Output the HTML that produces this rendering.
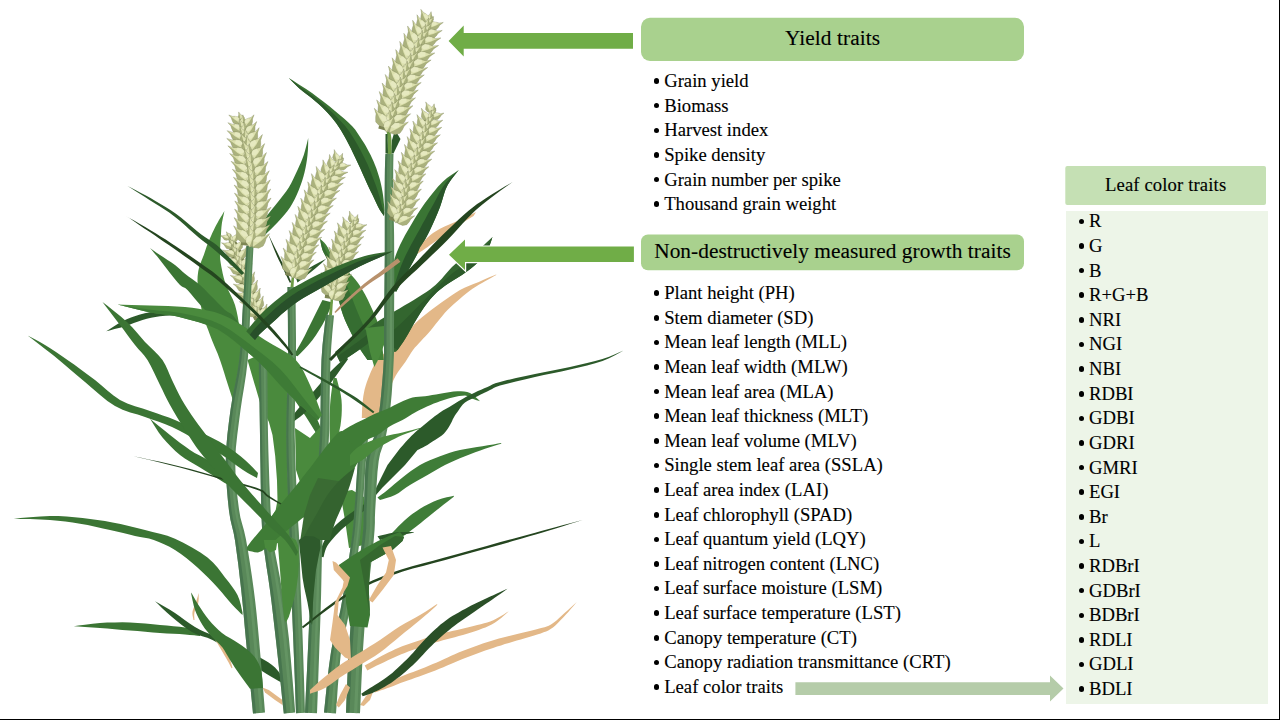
<!DOCTYPE html>
<html><head><meta charset="utf-8"><title>Traits</title>
<style>
html,body{margin:0;padding:0;background:#fff;}
body{width:1280px;height:720px;position:relative;overflow:hidden;font-family:"Liberation Serif",serif;color:#000;-webkit-text-stroke:0.12px #000;}
.abs{position:absolute;}
.li{position:absolute;left:0;height:22px;line-height:22px;font-size:18.667px;white-space:nowrap;}
.li span{position:absolute;top:0;}
.li i{position:absolute;top:8.3px;width:5.6px;height:5.6px;border-radius:50%;background:#000;}
.hd{position:absolute;text-align:center;white-space:nowrap;}
#bR{position:absolute;left:1278.7px;top:0;width:2px;height:720px;background:#000;}
#bB{position:absolute;left:0;top:718.6px;width:1280px;height:2px;background:#000;}
</style></head><body>
<svg class="abs" style="left:0;top:0" width="1280" height="720" viewBox="0 0 1280 720">
<style>.k{fill:#DCE0AE;stroke:#5F673E;stroke-width:.45;stroke-opacity:.6;vector-effect:non-scaling-stroke}.s{fill:#9AA26C;opacity:.75}.h{fill:#E9ECC6;opacity:.75}</style>
<polygon points="224.5,211 223.5,212.6 222.1,214.9 220.5,217.5 219,220 217.7,222.4 216.4,224.8 215.1,227.3 213.8,230 212.3,233.1 210.8,236.4 209.3,239.8 208,243 206.8,246 205.8,249 204.8,252 203.8,255 202.5,258.2 201.2,261.5 200,264.8 199,268 198.3,271 197.9,273.9 197.6,276.8 197.5,280 197.6,283.4 197.9,287 198.4,290.8 199,295 199.8,299.6 200.7,304.7 201.7,309.9 203,315 204.5,319.9 206.1,324.7 208,329.6 210,335 212.3,340.9 214.9,347.2 217.6,353.6 220,360 222.1,366.2 224.1,372.5 226,378.8 228,385 230.2,391.8 232.5,399.1 234.6,405.5 236,410 238,410 239,405.5 240.4,399.1 241.8,391.8 243,385 243.9,378.9 244.6,372.8 245.1,366.6 245,360 244.2,352.7 242.9,345 241.4,337.3 240,330 238.8,323.3 237.8,316.9 236.5,310.8 235,305 232.9,299.5 230.4,294.4 228,289.5 226,285 224.6,280.9 223.6,277.2 222.7,273.6 222,270 221.3,266.5 220.7,263.1 220.2,259.5 220,255 220.1,249.1 220.4,242.2 220.9,235.4 221.2,230 221.5,226.4 221.8,224 222.1,222.1 222.5,220 223,217.5 223.6,214.9 224.1,212.6 224.5,211" fill="#4A8A3D"/>
<polygon points="496.2,274.4 493.1,275.7 488.7,277.6 483.6,279.8 478.8,281.9 474.1,283.8 469.2,285.8 464.5,287.8 460,290 456,292.4 452.2,294.9 448.6,297.5 445,300 441.4,302.5 438,305 434.6,307.5 431.2,310 428,312.5 424.8,315 421.7,317.5 418.8,320 416.1,322.5 413.7,325 411.3,327.5 409,330 406.7,332.5 404.5,335.1 402.3,337.6 400,340 397.7,342 395.3,343.8 392.8,345.6 390,348 386.7,351 383,354.5 379.4,358.1 376.4,361.7 374.1,365.1 372.4,368.6 370.8,372 369.4,375.5 368,379 366.7,382.4 365.6,385.9 364.6,389.4 363.9,392.9 363.3,396.3 362.9,399.8 362.5,403.3 362.2,407.3 362,411.5 361.9,415.3 361.8,418 382,418 382.7,415.3 383.8,411.4 384.9,407 386,403 387,399.4 387.9,395.9 388.9,392.4 390,389 391.2,385.6 392.5,382.2 394,378.9 395.8,375.5 398,372 400.5,368.5 403.1,365 405.5,361.7 407.5,358.6 409.4,355.5 411.1,352.7 413,350 414.9,347.6 416.9,345.4 418.9,343.2 421,341 423.2,338.6 425.5,336.2 427.8,333.7 430,331.2 432,328.8 434,326.3 435.9,323.8 438,321.2 440.2,318.5 442.5,315.7 444.9,312.8 447.5,310 450.4,307.2 453.6,304.3 456.8,301.5 460,298.8 463.1,296.1 466.2,293.5 469.4,291 472.5,288.8 475.7,286.7 478.8,284.8 482,283 485,281.2 488.2,279.5 491.4,277.7 494.3,276.1 496.2,275" fill="#E3B888"/>
<polygon points="320,238.8 321.1,239.7 322.6,240.9 324.4,242.7 326.2,245 328.1,248.1 329.9,251.9 332.1,256 335,260 338.9,264 343.7,268.2 348.4,272.3 352.5,276.2 355.5,279.7 358,282.9 360.2,286.2 362.5,290 365.1,294.6 367.7,299.6 370.2,304.9 372.5,310 374.6,314.8 376.6,319.4 378.4,324.3 380,330 381.3,337.5 382.3,346.2 383.2,354.4 383.8,360 367.5,360 365.8,357.5 363.3,354.1 360.4,349.8 357.5,345 354.4,339.3 351,332.8 347.7,326.1 345,320 342.9,314.6 341.3,309.7 340,304.9 338.8,300 337.7,295 337,290 336.1,285 335,280 333.3,274.8 331.3,269.4 329.3,264.3 327.5,260 326,256.8 324.7,254.5 323.5,252.4 322.5,250 321.6,247 320.9,243.8 320.4,240.8 320,238.8" fill="#448238"/>
<polygon points="320,238.8 322.8,243.6 325.2,248.9 327.9,254.2 330.8,259.4 333.9,264.3 337.2,269 340.5,273.7 343.6,278.6 346.2,283.6 348.4,288.9 350.5,294.4 352.7,299.8 354.8,305.3 357,310.8 359.3,316.3 361.7,321.7 364.1,327.1 366.2,332.6 368.1,338.2 369.9,343.7 371.7,349.2 373.7,354.6 375.6,360 367.5,360 364.2,355.3 361,350.6 358,345.8 355.2,340.8 352.5,335.7 349.9,330.6 347.5,325.5 345.1,320.3 343,314.9 341.3,309.5 339.8,304 338.4,298.4 337.4,292.8 336.5,287.2 335.4,281.6 333.8,276.1 331.8,270.7 329.7,265.4 327.6,260.1 325,255 322.5,249.9 321.1,244.4 320,238.8" fill="#356D31"/>
<polygon points="332.5,302.5 331.3,305.6 329.5,310 327.4,315 325,320 322.3,324.9 319.2,330.1 315.9,335.2 312.5,340 308.6,344.7 304.2,349.4 300.3,353.4 297.5,356.2 293.8,355 295.3,352.4 297.5,348.8 300,344.5 302.5,340 304.9,335.4 307.4,330.3 310,325.1 312.5,320 315.2,314.5 318.1,308.8 320.7,303.6 322.5,300" fill="#3B7534"/>
<polygon points="106.2,331.2 109.1,329.4 113.3,326.7 118,323.8 122.5,321.2 126.7,319.3 131,317.5 135.4,315.9 140,314.5 144.8,313.3 149.8,312.2 154.9,311.3 160,310.5 165.5,309.9 171.2,309.4 176.4,309 180,308.8 180,315 176.3,315.2 171.1,315.4 165.3,315.7 160,316.2 155.4,317 151.1,317.8 146.8,318.8 142.5,320 138.2,321.4 133.8,323 129.5,324.7 125,326.2 120,327.7 114.5,329.1 109.6,330.4 106.2,331.2" fill="#2C5A2A"/>
<polygon points="150,248 151.7,249.2 154.1,250.9 156.9,252.9 160,255 163.5,257.3 167.5,259.9 171.5,262.5 175,265 177.7,267.2 180,269.3 182.3,271.4 185,273.8 188.5,276.4 192.5,279.3 196.5,282.2 200,285 202.7,287.5 205,289.8 207.3,292.2 210,295 213.6,298.6 217.7,302.8 221.7,306.8 225,310 227.4,311.8 229.2,312.8 230.8,313.6 232.5,315 234.6,317.4 236.7,320.3 238.7,323.1 240,325 230,330 227.2,327.8 223.3,324.7 218.9,321.2 215,318 211.8,315.4 208.8,313.1 205.7,310.6 202.5,307.5 198.8,303.3 194.7,298.4 190.8,293.7 187.5,290 185.2,288 183.4,287.2 181.9,286.4 180,285 177.7,282.5 175.2,279.5 172.6,276.2 170,273 167.5,269.8 165,266.5 162.5,263.2 160,260 157.3,256.6 154.4,253.2 151.8,250.1 150,248" fill="#3B7534"/>
<polygon points="247.5,360 256,356.3 269.5,357.3 280,360 284.1,362.8 285.3,367.2 286,375 287.1,388 287.7,404.3 288,420 287.7,433.7 287.1,446.9 287,460 287.6,473.3 288.7,486.7 290,500 292.7,514.8 295.7,529.6 295,540 287.1,543.7 275.6,543 267.5,540 265.9,534.8 267.7,527.4 270,520 272.6,515 275.7,510 277.5,500 277,480.5 275.2,455.9 272.5,435 268.9,422.1 264.4,412.9 260,402.5" fill="#4A8A3D"/>
<polygon points="263,356.5 265.3,359.8 268.6,364.5 272.3,369.9 276.2,375.4 279.9,380.5 283.2,385.1 286.6,389.6 290,394 293.2,398.3 296.3,402.6 299.4,407 302.4,411.4 305.3,415.8 308,420 310.5,423.9 312.8,427.7 315.1,431.6 317.1,435.3 318.9,438.5 320.2,440.8 323.8,439.2 323.1,436.7 322.2,433.2 321,429.1 319.4,424.6 317.5,420.1 315.3,415.7 312.7,411.2 309.8,406.6 306.8,401.9 303.7,397.4 300.4,392.9 297,388.5 293.4,384.2 289.8,379.9 286.1,375.5 282.1,370.8 277.7,365.7 273.3,360.7 269.6,356.5 267,353.5" fill="#3B7534"/>
<polygon points="345.9,357 343.7,359 340.7,361.8 337.2,365 333.6,368.5 330.3,371.7 327.5,374.8 324.9,377.9 322.3,381 319.7,384.2 316.9,387.4 313.9,390.9 310.6,394.5 307.3,398.2 304.1,401.8 301.1,405.3 298.2,408.7 295.3,412.3 292.6,415.6 290.3,418.5 288.6,420.6 291.4,423.4 293.5,421.8 296.4,419.6 299.9,416.9 303.5,413.9 306.9,410.7 310.2,407.4 313.5,403.8 316.8,400 320,396.2 323.1,392.6 325.8,389.2 328.4,385.9 330.9,382.7 333.3,379.5 335.7,376.3 338.4,372.6 341.2,368.6 344,364.7 346.4,361.4 348.1,359" fill="#2C5A2A"/>
<polygon points="333.5,378.1 333.1,381.1 332.4,385.2 331.7,390.1 331,395.2 330.5,400 330.1,404.7 329.9,409.7 329.7,414.7 329.6,419.7 329.5,424.5 329.5,429.5 329.7,434.9 329.8,440.1 329.9,444.5 330,447.7 334,448.3 334.9,445.3 336.4,441 337.9,436 339.4,430.7 340.5,425.5 341.1,420.4 341.6,415.3 341.8,410.1 341.8,404.9 341.5,400 340.8,394.9 339.7,389.7 338.4,384.9 337.3,380.8 336.5,377.9" fill="#4A8A3D"/>
<polygon points="295,428 310,438 321,426 322,455 318,475 300,482 296,470" fill="#4A8A3D"/>
<polygon points="340,492 352,490 364,497 364,545 349,548 345,520" fill="#4A8A3D"/>
<polygon points="229.2,237.1 228.6,246.7 230.7,254.8 232.9,263 235.5,271.3 238.3,279.7 241.1,288 244.1,296.2 247.4,304.5 250.9,312.6 254.5,320.5 265.5,315.5 261.8,307.6 258.4,299.9 255.4,292 252.5,284 249.6,275.8 247,267.8 244.4,259.5 241.4,251.2 237.5,243.1 230.3,236.6" fill="#7E8654"/>
<g transform="matrix(-3.52 -5.49 2.19 -1.41 230.2 237.9)"><polygon class="k" points="-.15,0 .1,.8 .38,1 .6,.7 .78,.3 1.12,0 .8,-.22 .62,-.62 .4,-1 .1,-.8"/><polygon class="s" points="-.15,0 .1,-.8 .4,-1 .62,-.62 .8,-.22 1.12,0 .75,0 .45,-.1 .1,-.05"/><polygon class="h" points=".1,.8 .38,1 .6,.7 .55,.05 .25,.1"/></g>
<g transform="matrix(-7.28 -2.85 0.94 -2.40 228.4 238.7)"><polygon class="k" points="-.15,0 .1,.8 .38,1 .6,.7 .78,.3 1.12,0 .8,-.22 .62,-.62 .4,-1 .1,-.8"/><polygon class="s" points="-.15,0 .1,-.8 .4,-1 .62,-.62 .8,-.22 1.12,0 .75,0 .45,-.1 .1,-.05"/><polygon class="h" points=".1,.8 .38,1 .6,.7 .55,.05 .25,.1"/></g>
<g transform="matrix(-1.54 -7.06 2.82 -0.62 231.9 242.0)"><polygon class="k" points="-.15,0 .1,.8 .38,1 .6,.7 .78,.3 1.12,0 .8,-.22 .62,-.62 .4,-1 .1,-.8"/><polygon class="s" points="-.15,0 .1,-.8 .4,-1 .62,-.62 .8,-.22 1.12,0 .75,0 .45,-.1 .1,-.05"/><polygon class="h" points=".1,.8 .38,1 .6,.7 .55,.05 .25,.1"/></g>
<g transform="matrix(3.48 -7.94 2.62 1.15 233.9 241.2)"><polygon class="k" points="-.15,0 .1,.8 .38,1 .6,.7 .78,.3 1.12,0 .8,-.22 .62,-.62 .4,-1 .1,-.8"/><polygon class="s" points="-.15,0 .1,.8 .38,1 .6,.7 .78,.3 1.12,0 .75,0 .45,.1 .1,.05"/><polygon class="h" points=".1,-.8 .4,-1 .62,-.62 .55,-.05 .25,-.1"/></g>
<g transform="matrix(-4.11 -6.79 2.72 -1.65 233.6 246.2)"><polygon class="k" points="-.15,0 .1,.8 .38,1 .6,.7 .78,.3 1.12,0 .8,-.22 .62,-.62 .4,-1 .1,-.8"/><polygon class="s" points="-.15,0 .1,-.8 .4,-1 .62,-.62 .8,-.22 1.12,0 .75,0 .45,-.1 .1,-.05"/><polygon class="h" points=".1,.8 .38,1 .6,.7 .55,.05 .25,.1"/></g>
<g transform="matrix(-8.78 -3.69 1.22 -2.90 231.3 247.0)"><polygon class="k" points="-.15,0 .1,.8 .38,1 .6,.7 .78,.3 1.12,0 .8,-.22 .62,-.62 .4,-1 .1,-.8"/><polygon class="s" points="-.15,0 .1,-.8 .4,-1 .62,-.62 .8,-.22 1.12,0 .75,0 .45,-.1 .1,-.05"/><polygon class="h" points=".1,.8 .38,1 .6,.7 .55,.05 .25,.1"/></g>
<g transform="matrix(-1.41 -8.53 3.41 -0.56 235.1 250.3)"><polygon class="k" points="-.15,0 .1,.8 .38,1 .6,.7 .78,.3 1.12,0 .8,-.22 .62,-.62 .4,-1 .1,-.8"/><polygon class="s" points="-.15,0 .1,-.8 .4,-1 .62,-.62 .8,-.22 1.12,0 .75,0 .45,-.1 .1,-.05"/><polygon class="h" points=".1,.8 .38,1 .6,.7 .55,.05 .25,.1"/></g>
<g transform="matrix(4.65 -9.28 3.06 1.54 237.6 249.5)"><polygon class="k" points="-.15,0 .1,.8 .38,1 .6,.7 .78,.3 1.12,0 .8,-.22 .62,-.62 .4,-1 .1,-.8"/><polygon class="s" points="-.15,0 .1,.8 .38,1 .6,.7 .78,.3 1.12,0 .75,0 .45,.1 .1,.05"/><polygon class="h" points=".1,-.8 .4,-1 .62,-.62 .55,-.05 .25,-.1"/></g>
<g transform="matrix(-4.46 -8.23 3.29 -1.79 236.6 254.6)"><polygon class="k" points="-.15,0 .1,.8 .38,1 .6,.7 .78,.3 1.12,0 .8,-.22 .62,-.62 .4,-1 .1,-.8"/><polygon class="s" points="-.15,0 .1,-.8 .4,-1 .62,-.62 .8,-.22 1.12,0 .75,0 .45,-.1 .1,-.05"/><polygon class="h" points=".1,.8 .38,1 .6,.7 .55,.05 .25,.1"/></g>
<g transform="matrix(-10.14 -4.84 1.60 -3.34 233.9 255.4)"><polygon class="k" points="-.15,0 .1,.8 .38,1 .6,.7 .78,.3 1.12,0 .8,-.22 .62,-.62 .4,-1 .1,-.8"/><polygon class="s" points="-.15,0 .1,-.8 .4,-1 .62,-.62 .8,-.22 1.12,0 .75,0 .45,-.1 .1,-.05"/><polygon class="h" points=".1,.8 .38,1 .6,.7 .55,.05 .25,.1"/></g>
<g transform="matrix(-1.23 -9.52 3.81 -0.49 237.9 258.8)"><polygon class="k" points="-.15,0 .1,.8 .38,1 .6,.7 .78,.3 1.12,0 .8,-.22 .62,-.62 .4,-1 .1,-.8"/><polygon class="s" points="-.15,0 .1,-.8 .4,-1 .62,-.62 .8,-.22 1.12,0 .75,0 .45,-.1 .1,-.05"/><polygon class="h" points=".1,.8 .38,1 .6,.7 .55,.05 .25,.1"/></g>
<g transform="matrix(5.53 -10.11 3.34 1.82 240.7 257.9)"><polygon class="k" points="-.15,0 .1,.8 .38,1 .6,.7 .78,.3 1.12,0 .8,-.22 .62,-.62 .4,-1 .1,-.8"/><polygon class="s" points="-.15,0 .1,.8 .38,1 .6,.7 .78,.3 1.12,0 .75,0 .45,.1 .1,.05"/><polygon class="h" points=".1,-.8 .4,-1 .62,-.62 .55,-.05 .25,-.1"/></g>
<g transform="matrix(-4.35 -8.56 3.42 -1.74 239.2 263.1)"><polygon class="k" points="-.15,0 .1,.8 .38,1 .6,.7 .78,.3 1.12,0 .8,-.22 .62,-.62 .4,-1 .1,-.8"/><polygon class="s" points="-.15,0 .1,-.8 .4,-1 .62,-.62 .8,-.22 1.12,0 .75,0 .45,-.1 .1,-.05"/><polygon class="h" points=".1,.8 .38,1 .6,.7 .55,.05 .25,.1"/></g>
<g transform="matrix(-10.26 -5.24 1.73 -3.39 236.5 263.9)"><polygon class="k" points="-.15,0 .1,.8 .38,1 .6,.7 .78,.3 1.12,0 .8,-.22 .62,-.62 .4,-1 .1,-.8"/><polygon class="s" points="-.15,0 .1,-.8 .4,-1 .62,-.62 .8,-.22 1.12,0 .75,0 .45,-.1 .1,-.05"/><polygon class="h" points=".1,.8 .38,1 .6,.7 .55,.05 .25,.1"/></g>
<g transform="matrix(-1.18 -9.53 3.81 -0.47 240.5 267.3)"><polygon class="k" points="-.15,0 .1,.8 .38,1 .6,.7 .78,.3 1.12,0 .8,-.22 .62,-.62 .4,-1 .1,-.8"/><polygon class="s" points="-.15,0 .1,-.8 .4,-1 .62,-.62 .8,-.22 1.12,0 .75,0 .45,-.1 .1,-.05"/><polygon class="h" points=".1,.8 .38,1 .6,.7 .55,.05 .25,.1"/></g>
<g transform="matrix(5.58 -10.08 3.33 1.84 243.3 266.5)"><polygon class="k" points="-.15,0 .1,.8 .38,1 .6,.7 .78,.3 1.12,0 .8,-.22 .62,-.62 .4,-1 .1,-.8"/><polygon class="s" points="-.15,0 .1,.8 .38,1 .6,.7 .78,.3 1.12,0 .75,0 .45,.1 .1,.05"/><polygon class="h" points=".1,-.8 .4,-1 .62,-.62 .55,-.05 .25,-.1"/></g>
<g transform="matrix(-4.47 -8.49 3.40 -1.79 241.9 271.6)"><polygon class="k" points="-.15,0 .1,.8 .38,1 .6,.7 .78,.3 1.12,0 .8,-.22 .62,-.62 .4,-1 .1,-.8"/><polygon class="s" points="-.15,0 .1,-.8 .4,-1 .62,-.62 .8,-.22 1.12,0 .75,0 .45,-.1 .1,-.05"/><polygon class="h" points=".1,.8 .38,1 .6,.7 .55,.05 .25,.1"/></g>
<g transform="matrix(-10.33 -5.09 1.68 -3.41 239.1 272.4)"><polygon class="k" points="-.15,0 .1,.8 .38,1 .6,.7 .78,.3 1.12,0 .8,-.22 .62,-.62 .4,-1 .1,-.8"/><polygon class="s" points="-.15,0 .1,-.8 .4,-1 .62,-.62 .8,-.22 1.12,0 .75,0 .45,-.1 .1,-.05"/><polygon class="h" points=".1,.8 .38,1 .6,.7 .55,.05 .25,.1"/></g>
<g transform="matrix(-1.48 -9.49 3.79 -0.59 243.3 275.8)"><polygon class="k" points="-.15,0 .1,.8 .38,1 .6,.7 .78,.3 1.12,0 .8,-.22 .62,-.62 .4,-1 .1,-.8"/><polygon class="s" points="-.15,0 .1,-.8 .4,-1 .62,-.62 .8,-.22 1.12,0 .75,0 .45,-.1 .1,-.05"/><polygon class="h" points=".1,.8 .38,1 .6,.7 .55,.05 .25,.1"/></g>
<g transform="matrix(5.26 -10.25 3.38 1.74 246.0 274.9)"><polygon class="k" points="-.15,0 .1,.8 .38,1 .6,.7 .78,.3 1.12,0 .8,-.22 .62,-.62 .4,-1 .1,-.8"/><polygon class="s" points="-.15,0 .1,.8 .38,1 .6,.7 .78,.3 1.12,0 .75,0 .45,.1 .1,.05"/><polygon class="h" points=".1,-.8 .4,-1 .62,-.62 .55,-.05 .25,-.1"/></g>
<g transform="matrix(-4.65 -8.40 3.36 -1.86 244.7 280.0)"><polygon class="k" points="-.15,0 .1,.8 .38,1 .6,.7 .78,.3 1.12,0 .8,-.22 .62,-.62 .4,-1 .1,-.8"/><polygon class="s" points="-.15,0 .1,-.8 .4,-1 .62,-.62 .8,-.22 1.12,0 .75,0 .45,-.1 .1,-.05"/><polygon class="h" points=".1,.8 .38,1 .6,.7 .55,.05 .25,.1"/></g>
<g transform="matrix(-10.44 -4.87 1.61 -3.45 242.0 280.9)"><polygon class="k" points="-.15,0 .1,.8 .38,1 .6,.7 .78,.3 1.12,0 .8,-.22 .62,-.62 .4,-1 .1,-.8"/><polygon class="s" points="-.15,0 .1,-.8 .4,-1 .62,-.62 .8,-.22 1.12,0 .75,0 .45,-.1 .1,-.05"/><polygon class="h" points=".1,.8 .38,1 .6,.7 .55,.05 .25,.1"/></g>
<g transform="matrix(-1.56 -9.47 3.79 -0.62 246.2 284.2)"><polygon class="k" points="-.15,0 .1,.8 .38,1 .6,.7 .78,.3 1.12,0 .8,-.22 .62,-.62 .4,-1 .1,-.8"/><polygon class="s" points="-.15,0 .1,-.8 .4,-1 .62,-.62 .8,-.22 1.12,0 .75,0 .45,-.1 .1,-.05"/><polygon class="h" points=".1,.8 .38,1 .6,.7 .55,.05 .25,.1"/></g>
<g transform="matrix(5.17 -10.30 3.40 1.71 248.9 283.3)"><polygon class="k" points="-.15,0 .1,.8 .38,1 .6,.7 .78,.3 1.12,0 .8,-.22 .62,-.62 .4,-1 .1,-.8"/><polygon class="s" points="-.15,0 .1,.8 .38,1 .6,.7 .78,.3 1.12,0 .75,0 .45,.1 .1,.05"/><polygon class="h" points=".1,-.8 .4,-1 .62,-.62 .55,-.05 .25,-.1"/></g>
<g transform="matrix(-4.77 -8.33 3.33 -1.91 247.7 288.4)"><polygon class="k" points="-.15,0 .1,.8 .38,1 .6,.7 .78,.3 1.12,0 .8,-.22 .62,-.62 .4,-1 .1,-.8"/><polygon class="s" points="-.15,0 .1,-.8 .4,-1 .62,-.62 .8,-.22 1.12,0 .75,0 .45,-.1 .1,-.05"/><polygon class="h" points=".1,.8 .38,1 .6,.7 .55,.05 .25,.1"/></g>
<g transform="matrix(-10.51 -4.72 1.56 -3.47 245.0 289.4)"><polygon class="k" points="-.15,0 .1,.8 .38,1 .6,.7 .78,.3 1.12,0 .8,-.22 .62,-.62 .4,-1 .1,-.8"/><polygon class="s" points="-.15,0 .1,-.8 .4,-1 .62,-.62 .8,-.22 1.12,0 .75,0 .45,-.1 .1,-.05"/><polygon class="h" points=".1,.8 .38,1 .6,.7 .55,.05 .25,.1"/></g>
<g transform="matrix(-1.68 -9.45 3.78 -0.67 249.2 292.6)"><polygon class="k" points="-.15,0 .1,.8 .38,1 .6,.7 .78,.3 1.12,0 .8,-.22 .62,-.62 .4,-1 .1,-.8"/><polygon class="s" points="-.15,0 .1,-.8 .4,-1 .62,-.62 .8,-.22 1.12,0 .75,0 .45,-.1 .1,-.05"/><polygon class="h" points=".1,.8 .38,1 .6,.7 .55,.05 .25,.1"/></g>
<g transform="matrix(5.03 -10.36 3.42 1.66 251.9 291.6)"><polygon class="k" points="-.15,0 .1,.8 .38,1 .6,.7 .78,.3 1.12,0 .8,-.22 .62,-.62 .4,-1 .1,-.8"/><polygon class="s" points="-.15,0 .1,.8 .38,1 .6,.7 .78,.3 1.12,0 .75,0 .45,.1 .1,.05"/><polygon class="h" points=".1,-.8 .4,-1 .62,-.62 .55,-.05 .25,-.1"/></g>
<g transform="matrix(-4.92 -8.24 3.30 -1.97 250.8 296.8)"><polygon class="k" points="-.15,0 .1,.8 .38,1 .6,.7 .78,.3 1.12,0 .8,-.22 .62,-.62 .4,-1 .1,-.8"/><polygon class="s" points="-.15,0 .1,-.8 .4,-1 .62,-.62 .8,-.22 1.12,0 .75,0 .45,-.1 .1,-.05"/><polygon class="h" points=".1,.8 .38,1 .6,.7 .55,.05 .25,.1"/></g>
<g transform="matrix(-10.59 -4.53 1.50 -3.49 248.1 297.8)"><polygon class="k" points="-.15,0 .1,.8 .38,1 .6,.7 .78,.3 1.12,0 .8,-.22 .62,-.62 .4,-1 .1,-.8"/><polygon class="s" points="-.15,0 .1,-.8 .4,-1 .62,-.62 .8,-.22 1.12,0 .75,0 .45,-.1 .1,-.05"/><polygon class="h" points=".1,.8 .38,1 .6,.7 .55,.05 .25,.1"/></g>
<g transform="matrix(-2.00 -9.39 3.76 -0.80 252.4 300.9)"><polygon class="k" points="-.15,0 .1,.8 .38,1 .6,.7 .78,.3 1.12,0 .8,-.22 .62,-.62 .4,-1 .1,-.8"/><polygon class="s" points="-.15,0 .1,-.8 .4,-1 .62,-.62 .8,-.22 1.12,0 .75,0 .45,-.1 .1,-.05"/><polygon class="h" points=".1,.8 .38,1 .6,.7 .55,.05 .25,.1"/></g>
<g transform="matrix(4.68 -10.53 3.47 1.54 255.0 299.8)"><polygon class="k" points="-.15,0 .1,.8 .38,1 .6,.7 .78,.3 1.12,0 .8,-.22 .62,-.62 .4,-1 .1,-.8"/><polygon class="s" points="-.15,0 .1,.8 .38,1 .6,.7 .78,.3 1.12,0 .75,0 .45,.1 .1,.05"/><polygon class="h" points=".1,-.8 .4,-1 .62,-.62 .55,-.05 .25,-.1"/></g>
<g transform="matrix(-5.30 -8.00 3.20 -2.12 254.1 305.0)"><polygon class="k" points="-.15,0 .1,.8 .38,1 .6,.7 .78,.3 1.12,0 .8,-.22 .62,-.62 .4,-1 .1,-.8"/><polygon class="s" points="-.15,0 .1,-.8 .4,-1 .62,-.62 .8,-.22 1.12,0 .75,0 .45,-.1 .1,-.05"/><polygon class="h" points=".1,.8 .38,1 .6,.7 .55,.05 .25,.1"/></g>
<g transform="matrix(-10.79 -4.03 1.33 -3.56 251.5 306.2)"><polygon class="k" points="-.15,0 .1,.8 .38,1 .6,.7 .78,.3 1.12,0 .8,-.22 .62,-.62 .4,-1 .1,-.8"/><polygon class="s" points="-.15,0 .1,-.8 .4,-1 .62,-.62 .8,-.22 1.12,0 .75,0 .45,-.1 .1,-.05"/><polygon class="h" points=".1,.8 .38,1 .6,.7 .55,.05 .25,.1"/></g>
<g transform="matrix(-2.39 -9.30 3.72 -0.96 255.9 309.1)"><polygon class="k" points="-.15,0 .1,.8 .38,1 .6,.7 .78,.3 1.12,0 .8,-.22 .62,-.62 .4,-1 .1,-.8"/><polygon class="s" points="-.15,0 .1,-.8 .4,-1 .62,-.62 .8,-.22 1.12,0 .75,0 .45,-.1 .1,-.05"/><polygon class="h" points=".1,.8 .38,1 .6,.7 .55,.05 .25,.1"/></g>
<g transform="matrix(4.23 -10.71 3.54 1.40 258.5 307.9)"><polygon class="k" points="-.15,0 .1,.8 .38,1 .6,.7 .78,.3 1.12,0 .8,-.22 .62,-.62 .4,-1 .1,-.8"/><polygon class="s" points="-.15,0 .1,.8 .38,1 .6,.7 .78,.3 1.12,0 .75,0 .45,.1 .1,.05"/><polygon class="h" points=".1,-.8 .4,-1 .62,-.62 .55,-.05 .25,-.1"/></g>
<g transform="matrix(-5.50 -7.87 3.15 -2.20 257.8 313.1)"><polygon class="k" points="-.15,0 .1,.8 .38,1 .6,.7 .78,.3 1.12,0 .8,-.22 .62,-.62 .4,-1 .1,-.8"/><polygon class="s" points="-.15,0 .1,-.8 .4,-1 .62,-.62 .8,-.22 1.12,0 .75,0 .45,-.1 .1,-.05"/><polygon class="h" points=".1,.8 .38,1 .6,.7 .55,.05 .25,.1"/></g>
<g transform="matrix(-10.89 -3.76 1.24 -3.59 255.1 314.4)"><polygon class="k" points="-.15,0 .1,.8 .38,1 .6,.7 .78,.3 1.12,0 .8,-.22 .62,-.62 .4,-1 .1,-.8"/><polygon class="s" points="-.15,0 .1,-.8 .4,-1 .62,-.62 .8,-.22 1.12,0 .75,0 .45,-.1 .1,-.05"/><polygon class="h" points=".1,.8 .38,1 .6,.7 .55,.05 .25,.1"/></g>
<g transform="matrix(-2.39 -9.30 3.72 -0.95 259.6 317.2)"><polygon class="k" points="-.15,0 .1,.8 .38,1 .6,.7 .78,.3 1.12,0 .8,-.22 .62,-.62 .4,-1 .1,-.8"/><polygon class="s" points="-.15,0 .1,-.8 .4,-1 .62,-.62 .8,-.22 1.12,0 .75,0 .45,-.1 .1,-.05"/><polygon class="h" points=".1,.8 .38,1 .6,.7 .55,.05 .25,.1"/></g>
<g transform="matrix(4.24 -10.71 3.53 1.40 262.3 316.0)"><polygon class="k" points="-.15,0 .1,.8 .38,1 .6,.7 .78,.3 1.12,0 .8,-.22 .62,-.62 .4,-1 .1,-.8"/><polygon class="s" points="-.15,0 .1,.8 .38,1 .6,.7 .78,.3 1.12,0 .75,0 .45,.1 .1,.05"/><polygon class="h" points=".1,-.8 .4,-1 .62,-.62 .55,-.05 .25,-.1"/></g>
<polygon points="326.2,258.8 323.3,260.3 319,262.4 314.3,264.9 310,267.5 306.1,270.4 302.1,273.7 298.7,276.7 296.2,278.8 297.5,282.5 300.8,279.9 305.5,276.2 310.7,272.2 315,268.8 318.5,265.8 321.7,262.9 324.4,260.5 326.2,258.8" fill="#2C5A2A"/>
<polygon points="308.2,138 308.2,141 308.1,145.4 307.9,150.3 307.5,155 307,159.3 306.3,163.7 305.5,168.1 304.5,172.5 303.3,176.9 302,181.2 300.5,185.6 298.8,190 296.9,194.4 294.8,198.9 292.5,203.3 290,207.5 287.1,211.5 284,215.3 280.7,219 277.5,222.5 274.3,225.8 271.1,228.9 267.9,231.9 265,235 262.1,238.4 259.2,242 256.7,245.3 255,247.5 249,247 250.5,243.9 252.6,239.4 255.1,234.5 257.5,230 259.9,226.1 262.4,222.2 265,218.5 267.5,215 270,211.8 272.4,208.8 274.9,205.7 277.5,202.5 280.3,199 283.2,195.3 286.1,191.5 288.8,187.5 291.2,183.2 293.4,178.8 295.5,174.3 297.5,170 299.3,166.1 300.9,162.5 302.4,158.8 303.8,155 305.1,150.5 306.4,145.6 307.5,141.1 308.2,138" fill="#3B7534"/>
<polygon points="492.5,237 491.4,238.1 489.8,239.6 487.9,241.3 486,243 484.2,244.7 482.2,246.5 480.2,248.3 478,250 475.7,251.7 473.2,253.3 470.6,254.9 468,256.5 465.3,258 462.5,259.3 459.7,260.8 457,262.5 454.5,264.7 452,267.1 449.7,269.6 447.5,272 445.5,274.2 443.8,276.3 442,278.4 440,280.5 437.8,282.7 435.5,284.9 433,287.1 430,289.5 426.4,292 422.4,294.6 418.1,297.3 413.8,300 409.2,302.8 404.3,305.6 399.5,308.4 395,311 391,313.4 387.3,315.6 383.7,317.7 380,320 376.2,322.4 372.5,324.9 368.8,327.5 365,330 361.2,332.5 357.5,334.9 353.8,337.4 350,340 345.9,343.1 341.6,346.6 337.7,349.8 335,352 340,362 341.7,361 344.1,359.6 347,357.9 350,356 353.1,354 356.4,351.7 360.1,349.2 364,346.4 368.7,342.7 373.9,338.4 379,334.6 383,332.5 385.7,332.8 387.4,334.6 388.7,337.3 390,340 391.2,343.1 392.2,346.9 393.2,350.2 394.4,352 395.9,351.7 397.6,349.9 399.3,347.4 401,345 402.6,342.8 404.1,340.5 405.7,337.9 407.5,335 409.5,331.6 411.6,327.8 413.8,323.8 416,320 418.2,316.4 420.3,312.9 422.6,309.4 425,306 427.6,302.6 430.2,299.2 433.1,296 436,293 439.1,290.2 442.4,287.7 445.7,285.3 449,283 452.3,280.9 455.6,278.9 458.8,277 462,275 465.1,272.8 468.2,270.6 471.2,268.3 474,266 476.5,263.8 478.9,261.6 481,259.3 483,257 484.8,254.6 486.3,252.1 487.7,249.5 489,247 490.1,244.3 491.1,241.4 491.9,238.8 492.5,237" fill="#33662F"/>
<polygon points="492.5,237 487.6,244.4 481.9,251.5 475.1,257.6 467.6,262.9 459.8,267.8 452.4,273.2 445.5,279.2 438.9,285.5 432.4,292 426,298.5 419.6,304.8 413.3,311.2 407.1,317.5 400.6,323.7 394,329.8 387.5,330.6 382,328.9 374.7,329.9 367.1,335.1 359.7,340.5 352.2,345.8 344.8,351.2 337.2,356.5 340,362 348.6,356.9 357,351.3 365.2,345.5 373,339.2 381.2,333.4 388.6,337.1 392.1,346.5 397.6,349.9 403.4,341.7 408.6,333.1 413.5,324.3 418.6,315.7 424.1,307.3 430.2,299.3 437.1,292.1 444.9,285.8 453.3,280.3 461.9,275.1 470,269.2 477.7,262.7 484.3,255.2 489.2,246.5 492.5,237" fill="#2C5A2A"/>
<polygon points="365.5,328 384,326 384,345 378,360 374.3,367 370,352" fill="#4A8A3D"/>
<polygon points="458.8,170 455.9,171.9 451.7,174.7 447,178.1 442.5,182 438.1,186.6 433.6,191.9 429.2,197.5 425,203 421.2,208.5 417.6,214.1 414.2,219.6 411,225 407.9,230.2 405,235.2 402.4,240.2 400,245 398,249.5 396.2,253.9 394.7,258.3 393.5,263 392.5,268.7 391.8,275.1 391.4,281 391,285 396,292 398.3,288 401.5,282.3 405.2,275.9 408.5,270 411.5,264.6 414.4,259.3 417.3,254.1 420,249 422.6,244.2 425.1,239.6 427.5,235 430,230 432.6,224.5 435.2,218.6 437.7,212.7 440,207 441.8,201.5 443.4,196.1 445,190.9 447,186 449.9,181.3 453.3,176.7 456.5,172.8 458.8,170" fill="#3A7534"/>
<polygon points="458.8,170 454.4,174 450.1,178.1 446.1,182.5 442.7,187.2 439.7,192.3 437,197.5 434.2,202.7 431.3,207.9 428.4,213.1 425.6,218.4 422.7,223.6 419.9,228.9 417,234.1 414,239.4 411.2,244.6 408.4,249.9 405.7,255.3 403.2,260.7 400.9,266.2 398.9,271.7 397,277.3 395.2,282.9 393.5,288.5 396,292 399,286.8 401.9,281.6 404.9,276.4 407.8,271.2 410.8,265.9 413.7,260.7 416.5,255.4 419.4,250.1 422.2,244.9 425.1,239.6 427.9,234.3 430.5,228.9 433,223.5 435.5,218 437.8,212.5 440,206.9 441.9,201.2 443.6,195.5 445.4,189.8 448,184.4 451.3,179.4 455,174.7 458.8,170" fill="#29552A"/>
<polygon points="476,212 473.2,213.4 469.2,215.5 464.7,217.8 460,220 455.1,222.1 449.8,224.3 444.6,226.5 440,228.8 436.2,230.9 433,233 430.1,235.2 427.5,237.5 425.1,240.1 423,243 421.2,245.7 420,247.5 417.5,253.8 418.7,252.9 420.5,251.8 422.6,250.4 425,248.8 427.7,246.9 430.6,244.8 433.9,242.5 437.5,240 441.5,237.1 445.9,233.9 450.4,230.6 455,227.5 460,224.3 465.3,221 470.2,218 473.5,216" fill="#E3B888"/>
<polygon points="501.2,443 498,443.6 493.3,444.4 487.9,445.3 482.5,446.2 477.1,447.1 471.3,447.9 465.5,448.9 460,450 454.8,451.3 449.8,452.8 444.9,454.5 440,456.2 434.9,458.2 429.8,460.2 424.8,462.5 420,465 415.4,467.9 410.9,471 406.6,474.3 402.5,477.5 398.5,480.7 394.5,484.1 390.8,487.2 387.5,490 384.4,492.4 381.6,494.5 379.2,496.3 377.5,497.5 380,500 382.7,499.2 386.6,498.1 390.9,496.7 395,495 398.7,492.9 402.3,490.3 406.1,487.6 410,485 414.2,482.5 418.6,480 423.1,477.5 427.5,475 431.8,472.5 436.1,469.9 440.4,467.4 445,465 449.8,462.7 454.8,460.5 459.9,458.3 465,456.2 470.1,454.2 475.2,452.3 480.3,450.4 485,448.8 489.7,447.2 494.4,445.8 498.4,444.6 501.2,443.8" fill="#3F7D38"/>
<polygon points="453.8,495.8 450.9,496.4 446.7,497.3 442,498.5 437.5,500 433.2,501.8 428.7,503.9 424.2,506.3 420,508.8 416,511.4 412.2,514.1 408.5,517 405,520 401.6,523.2 398.2,526.5 395.2,529.7 392.5,532.5 390.2,534.9 388.2,537 386.6,538.8 385.5,540 395,540.5 396.8,539.6 399.4,538.2 402.3,536.6 405,535 407.4,533.3 409.8,531.5 412.3,529.6 415,527.5 417.9,525.2 421.1,522.7 424.3,520.1 427.5,517.5 430.6,515 433.7,512.5 436.8,510.1 440,507.5 443.7,504.6 447.7,501.5 451.2,498.7 453.8,496.8" fill="#3F7D38"/>
<polygon points="413.8,532 410.4,532 405.5,532 400,532.1 395,532.5 390.1,533.3 385.1,534.4 380.6,535.5 377.5,536.2 380,540 383.2,539.3 387.7,538.4 392.8,537.3 397.5,536.2 402,535.2 406.7,534.1 410.9,533.2 413.8,532.5" fill="#2C5A2A"/>
<polygon points="364.5,504 362.2,505.5 358.9,507.6 355.2,510.1 351.3,512.7 347.8,515.2 344.8,517.5 341.8,519.8 338.9,522.2 336.1,524.8 333.4,527.6 330.9,530.7 328.5,534 326.3,537.4 324.3,540.7 322.8,543.9 321.7,547 321.1,550.1 320.8,552.9 320.7,555.2 320.5,556.7 323.5,557.3 323.9,555.7 324.4,553.5 325.1,551 326,548.5 327.2,546.1 328.9,543.6 331.1,540.8 333.5,537.9 336.1,535 338.6,532.4 341,530 343.6,527.7 346.4,525.5 349.2,523.2 352.2,520.8 355.4,518.1 358.9,515.1 362.4,512.3 365.4,509.8 367.5,508" fill="#2C5A2A"/>
<polygon points="398.8,450 387.5,465 380,480 373.8,492.5 376,495 382.5,487.5 392.5,477.5 405,465 417.5,450" fill="#2C5A2A"/>
<polygon points="577.5,601.2 575.7,602.9 573.2,605.2 570.2,607.9 567.2,610.7 564.3,613.3 561.6,615.7 558.9,618.3 556.2,620.7 553.5,622.8 551,624.6 548.7,625.8 546.7,626.6 544.6,627.2 542.2,627.8 539.3,628.6 535.8,629.6 531.9,630.5 527.7,631.6 523.4,632.6 519.2,633.6 515.2,634.6 511.2,635.5 507.1,636.5 503.1,637.5 499,638.6 494.9,639.8 490.9,641 486.8,642.3 482.8,643.6 478.8,645 474.7,646.4 470.6,647.9 466.5,649.4 462.5,650.9 458.6,652.5 454.8,654.2 451.2,655.8 447.7,657.5 444.3,659.1 440.6,660.8 436.8,662.4 432.8,664.1 428.8,665.8 424.8,667.4 420.8,669 417,670.5 413.2,671.9 409.3,673.3 405.6,674.7 401.9,676.2 398.3,677.7 394.7,679.3 391.3,680.9 388.1,682.4 385.1,683.7 382.2,684.9 379.5,686.1 376.9,687.1 374.8,688 373.3,688.6 374.7,692.4 376.3,691.9 378.4,691.2 381.1,690.3 383.9,689.4 386.9,688.3 390,687.2 393.4,685.9 396.9,684.5 400.5,683.1 404.1,681.8 407.7,680.5 411.5,679.2 415.3,677.8 419.2,676.5 423.2,675 427.2,673.5 431.3,672 435.4,670.4 439.4,668.8 443.4,667.2 447.1,665.6 450.8,664.1 454.3,662.5 457.8,661 461.4,659.5 465.2,658 469.2,656.5 473.2,655 477.2,653.5 481.2,652 485.2,650.6 489.2,649.3 493.1,647.9 497.1,646.6 501,645.4 504.9,644.1 508.9,642.9 512.8,641.8 516.8,640.6 520.8,639.4 524.9,638.2 529.1,637 533.3,635.8 537.2,634.6 540.7,633.4 543.6,632.3 546.1,631.4 548.3,630.4 550.6,629.1 553,627.4 555.6,625.3 558.1,622.8 560.7,620.1 563.2,617.4 565.7,614.7 568.3,611.9 571,608.7 573.7,605.7 575.9,603.1 577.5,601.2" fill="#E3B888"/>
<polygon points="373.8,690 370,700 363.8,706 360,705 366,696" fill="#E3B888"/>
<polygon points="508.8,611.2 506.6,612.5 503.7,614.4 500.2,616.5 496.6,618.5 493.3,620.2 490.2,621.4 487.2,622.4 484.1,623.3 480.8,624.2 477.3,625.1 473.5,626.1 469.5,627 465.4,628 461.3,628.9 457.2,629.9 453.2,630.8 449.2,631.7 445.2,632.6 441.1,633.6 437,634.6 432.9,635.8 428.8,637.1 424.7,638.5 420.7,639.9 416.9,641.2 413.1,642.5 409.5,643.7 405.8,645 402.2,646.3 398.7,647.8 395.1,649.3 391.7,650.9 388.3,652.6 384.9,654.3 381.5,656.1 377.9,658.1 374,660.3 370.2,662.4 367,664.3 364.7,665.6 367.3,670.4 369.6,669.2 373,667.6 376.8,665.6 380.8,663.7 384.5,661.9 387.9,660.3 391.2,658.7 394.6,657.2 397.9,655.7 401.3,654.2 404.8,652.9 408.2,651.6 411.8,650.3 415.4,649.1 419.1,647.8 423,646.5 427,645.2 431,643.8 435,642.6 439,641.4 442.9,640.3 446.8,639.3 450.8,638.3 454.8,637.2 458.8,636.1 462.9,635 467,633.8 471,632.5 475,631.2 478.7,629.9 482.2,628.6 485.4,627.4 488.6,626.1 491.7,624.6 494.7,622.8 497.9,620.6 501.2,617.9 504.3,615.2 506.9,612.9 508.8,611.2" fill="#E3B888"/>
<polygon points="507.5,588.8 505.6,589.6 502.9,590.8 499.7,592.3 496.4,593.8 493.3,595.2 490.2,596.6 487.1,598 483.9,599.4 480.7,600.9 477.5,602.4 474.4,604 471.2,605.5 468.1,607.2 465,608.9 461.9,610.6 458.7,612.4 455.5,614.2 452.3,616.1 449.2,618.1 446.2,620.2 443.3,622.4 440.5,624.6 437.9,626.9 435.3,629.2 432.8,631.5 430.2,634 427.7,636.5 425.3,639 423,641.5 420.7,643.9 418.6,646.3 416.6,648.6 414.8,650.8 412.9,652.9 410.9,655 408.9,657.2 406.7,659.4 404.5,661.6 402.2,663.8 399.8,666 397.4,668.3 394.9,670.6 392.3,672.9 389.6,675.1 387,677.1 384.2,679.1 381.2,681 378.2,682.9 375.3,684.7 372.6,686.4 370,688.1 367.3,689.8 364.9,691.3 362.8,692.7 361.3,693.7 362.7,696.3 364.3,695.8 366.7,695 369.5,694.1 372.5,692.9 375.4,691.6 378.4,690.2 381.5,688.5 384.7,686.8 387.9,684.8 391,682.9 394,680.8 396.9,678.6 399.8,676.4 402.5,674.2 405.2,672 407.7,669.8 410.1,667.6 412.5,665.4 414.8,663.2 417.1,661 419.2,658.7 421.3,656.5 423.2,654.4 425.2,652.3 427.3,650.1 429.5,647.8 431.9,645.5 434.3,643.1 436.8,640.8 439.2,638.5 441.7,636.3 444.2,634.1 446.7,632 449.2,629.9 451.8,627.8 454.5,625.7 457.4,623.6 460.3,621.5 463.2,619.4 466.1,617.4 469,615.4 471.9,613.4 474.8,611.5 477.6,609.5 480.5,607.6 483.4,605.6 486.3,603.6 489.1,601.7 492,599.7 494.7,597.8 497.6,595.8 500.6,593.7 503.4,591.7 505.8,590 507.5,588.8" fill="#2A4F27"/>
<polygon points="73.8,626.2 78.4,625.6 85,624.7 92.6,623.7 100,623 107.2,622.6 114.8,622.4 122.4,622.3 130,622.5 137.6,622.9 145.3,623.6 152.9,624.3 160,625 166.8,625.6 173.4,626.2 179.6,626.8 185,627.5 189.8,628.4 194.1,629.4 197.5,630.3 200,631 200,636 197.5,635.7 194.1,635.3 189.8,634.9 185,634.5 179.6,634.1 173.4,633.8 166.8,633.4 160,633 152.9,632.4 145.3,631.8 137.6,631.1 130,630.5 122.4,629.9 114.8,629.2 107.2,628.6 100,628 92.6,627.5 85,627 78.4,626.5 73.8,626.2" fill="#3B7534"/>
<polygon points="155,601.2 158.6,603.3 163.8,606.2 169.5,609.6 175,613 180,616.5 185,620.2 190,623.8 195,627 199.9,629.7 204.8,632 209.8,634.1 215,636.2 220.4,638.4 226.1,640.4 231.8,642.6 237.5,645 243.3,647.9 249.2,651.2 254.9,654.5 260,657.5 264.4,660.1 268.2,662.3 271.7,664.7 275,667.5 278.3,671.2 281.4,675.6 284.1,679.7 286,682.5 285,684.5 282.4,683 278.6,680.9 274.3,678.5 270,676 265.9,673.5 261.6,670.8 257.1,667.9 252.5,665 247.7,662 242.7,658.8 237.6,655.7 232.5,652.5 227.5,649.3 222.5,646 217.5,642.8 212.5,640 207.4,637.8 202.2,636.2 197.1,634.4 192,632 186.9,628.8 181.8,625 176.8,621 172,617 167.1,612.7 162.2,608.2 158,604.1 155,601.2" fill="#2C5A2A"/>
<polygon points="198.8,593 198.3,594.3 197.8,596.3 197.1,598.5 196.4,600.7 195.8,602.7 195.1,604.4 194.4,606.2 193.6,608 192.9,609.9 192.5,611.8 192.4,613.8 192.6,615.7 193,617.5 193.3,619 193.5,620.1 194.5,619.9 194.4,618.8 194.3,617.3 194.2,615.6 194.3,613.8 194.5,612.2 195,610.6 195.8,609 196.7,607.2 197.6,605.4 198.2,603.3 198.5,601.1 198.7,598.7 198.7,596.4 198.7,594.4 198.8,593" fill="#E3B888"/>
<polygon points="206.7,625.6 207.9,627.6 209.7,630.5 211.8,633.9 214,637.5 216,640.9 218.1,644.4 220.2,648 222.4,651.7 224.4,655.2 226.2,658.2 227.6,660.8 228.9,663.1 230,665.2 230.9,666.9 231.5,668.2 232.5,667.8 232.1,666.4 231.6,664.6 230.9,662.3 230,659.7 228.8,656.8 227.3,653.6 225.4,650 223.3,646.3 221.1,642.5 219,639.1 216.7,635.7 214.3,632.3 211.8,629.1 209.8,626.4 208.3,624.4" fill="#E3B888"/>
<polygon points="262.5,687.5 268.8,690 282.5,700 282.5,705 275,700 265,692.5" fill="#E3B888"/>
<polygon points="13.8,518.8 20.4,518.1 29.8,517.2 40.4,516.4 50,516 58.4,516.1 66.6,516.5 74.6,517.2 82.5,518 90.1,518.9 97.5,519.9 104.9,521.1 112.5,522.5 120.5,524.1 128.8,526 137,528 145,530 152.6,531.9 160,533.7 167.4,535.8 175,538.8 183.3,542.7 192,547.4 200.4,552.5 207.5,557.5 213,562.5 217.5,567.6 221.3,572.6 225,577.5 228.7,582.1 232,586.4 235,590.7 237.5,595 239.4,599.8 240.8,604.8 241.8,609.4 242.5,612.5 242.5,615 240.8,613.4 238.4,611.1 235.6,608.3 232.5,605 229.2,601.2 225.6,596.9 221.7,592.2 217.5,587.5 212.9,582.6 208,577.5 202.8,572.4 197.5,567.5 192,562.8 186.3,558.1 180.6,553.8 175,550 169.5,546.8 164.1,544.2 158.9,541.9 153.8,540 149,538.6 144.6,537.8 140.1,537 135,536 129.3,534.6 123.2,533.1 116.7,531.6 110,530 102.9,528.4 95.3,526.7 87.6,525.1 80,523.8 72.6,522.6 65.4,521.6 57.9,520.7 50,520 40.5,519.5 30,519.1 20.4,518.9 13.8,518.8" fill="#3B7534"/>
<polygon points="246.5,245.8 245.9,255.4 245.1,269.1 244.2,284.6 243.3,299.8 242.4,314.6 241.6,330 240.6,345.3 239.3,359.5 237.4,372.5 235,384.8 232.6,396.9 230.6,409.3 228.9,421.9 227.4,434.5 226.3,447.2 225.8,459.9 225.9,473.2 226.7,486.6 227.8,499.4 229,510.7 230.4,519.4 232,526.3 233.6,532.8 235.1,541 236.6,551.9 238.3,564.6 239.8,577.8 241.3,590.7 242.5,602.6 243.6,614.2 244.7,626.5 246,640.6 247.8,658.9 249.8,680.2 251.7,699.9 253,713.5 265,712.5 263.9,698.8 262.3,679.1 260.6,657.8 259,639.4 257.7,625.3 256.5,612.9 255.2,601.3 253.7,589.3 251.9,576.2 249.9,562.9 247.9,550.2 245.9,539 244,530.4 242.1,523.7 240.4,517.4 239,509.3 237.6,498.4 236.3,485.9 235.5,472.8 235.2,460.1 235.9,447.8 237.2,435.5 238.8,423.1 240.4,410.7 242.2,398.5 244.2,386.4 246.1,373.9 247.7,360.5 248.8,345.8 249.5,330.5 250.1,315 250.7,300.2 251.5,285 252.3,269.4 253,255.8 253.5,246.2" fill="#598859"/>
<polygon points="246.5,245.8 245.9,255.4 245.1,269.1 244.2,284.6 243.3,299.8 242.4,314.6 241.6,330 240.6,345.3 239.3,359.5 237.4,372.5 235,384.8 232.6,396.9 230.6,409.3 228.9,421.9 227.4,434.5 226.3,447.2 225.8,459.9 225.9,473.2 226.7,486.6 227.8,499.4 229,510.7 230.4,519.4 232,526.3 233.6,532.8 235.1,541 236.6,551.9 238.3,564.6 239.8,577.8 241.3,590.7 242.5,602.6 243.6,614.2 244.7,626.5 246,640.6 247.8,658.9 249.8,680.2 251.7,699.9 253,713.5 256,713.3 254.8,699.6 252.9,679.9 251,658.6 249.3,640.3 248,626.2 246.8,613.9 245.7,602.3 244.4,590.4 242.9,577.4 241.2,564.2 239.5,551.5 237.8,540.5 236.2,532.2 234.5,525.6 232.9,518.9 231.5,510.3 230.3,499.2 229.1,486.4 228.3,473.1 228.1,460 228.7,447.3 229.8,434.7 231.4,422.2 233,409.6 235,397.3 237.3,385.2 239.5,372.9 241.4,359.8 242.7,345.4 243.6,330.1 244.3,314.7 245.1,299.9 246,284.7 246.9,269.2 247.7,255.5 248.3,245.9" fill="#426F4B" opacity=".75"/>
<polygon points="250.5,246 250,255.6 249.3,269.3 248.4,284.8 247.6,300 246.8,314.8 246.2,330.3 245.3,345.6 244.1,360.1 242.4,373.3 240.3,385.7 238.1,397.9 236.2,410.1 234.6,422.6 233,435.1 231.8,447.6 231.2,460 231.4,472.9 232.3,486.2 233.4,498.8 234.7,509.9 236.2,518.3 237.8,524.8 239.6,531.4 241.3,539.9 243.1,551 245,563.6 246.8,576.9 248.4,589.9 249.8,601.9 251,613.5 252.2,625.8 253.5,639.9 255.1,658.3 257,679.5 258.7,699.3 259.9,712.9 262.6,712.7 261.4,699 259.8,679.3 258,658 256.4,639.6 255.1,625.5 253.9,613.2 252.7,601.6 251.2,589.6 249.5,576.6 247.6,563.3 245.6,550.6 243.7,539.4 241.9,530.8 240.1,524.2 238.4,517.8 237,509.6 235.6,498.6 234.4,486 233.6,472.9 233.3,460 234,447.7 235.2,435.3 236.8,422.9 238.5,410.4 240.3,398.2 242.4,386.1 244.4,373.6 246,360.3 247.2,345.7 247.9,330.4 248.6,314.9 249.2,300.1 250.1,284.9 250.9,269.4 251.6,255.7 252.1,246.1" fill="#6E9E6C" opacity=".55"/>
<polygon points="258,345.6 258.2,346.9 258.3,348.2 258.5,351.9 258.8,360.1 259,374.9 259.4,394.6 259.7,415.8 260,435.1 260.2,451.9 260.5,468.1 260.7,483.3 261,497.2 261.3,509.1 261.6,519.5 262.1,529.6 263,540.6 264.5,552.8 266.3,565.5 268.3,578.3 270.1,590.9 271.6,602.8 273,614.4 274.4,626.7 276,640.7 278,659 280.3,680.2 282.3,699.9 283.8,713.5 295.2,712.5 294.1,698.8 292.5,679 290.7,657.7 289,639.3 287.3,625.1 285.6,612.7 283.8,601.1 281.9,589.1 279.7,576.4 277.2,563.6 274.8,551.2 273,539.4 271.8,528.8 271.1,519 270.5,508.7 270,496.8 269.4,483 268.9,467.9 268.4,451.8 268,434.9 267.7,415.7 267.6,394.5 267.4,374.8 267.2,359.9 266.9,351.5 266.6,347.4 266.2,345.7 266,344.4" fill="#598859"/>
<polygon points="258,345.6 258.2,346.9 258.3,348.2 258.5,351.9 258.8,360.1 259,374.9 259.4,394.6 259.7,415.8 260,435.1 260.2,451.9 260.5,468.1 260.7,483.3 261,497.2 261.3,509.1 261.6,519.5 262.1,529.6 263,540.6 264.5,552.8 266.3,565.5 268.3,578.3 270.1,590.9 271.6,602.8 273,614.4 274.4,626.7 276,640.7 278,659 280.3,680.2 282.3,699.9 283.8,713.5 286.6,713.3 285.3,699.6 283.3,679.9 281.2,658.7 279.3,640.3 277.7,626.3 276.2,614 274.7,602.4 273,590.5 271.1,577.8 269,565 267.1,552.4 265.5,540.3 264.6,529.4 264,519.4 263.6,509 263.3,497.1 262.9,483.2 262.6,468 262.3,451.9 262,435 261.7,415.8 261.4,394.6 261.1,374.9 260.9,360 260.6,351.8 260.4,348 260.2,346.6 260,345.3" fill="#426F4B" opacity=".75"/>
<polygon points="262.6,344.9 262.8,346.2 263.1,347.7 263.4,351.7 263.6,360 263.9,374.8 264.1,394.6 264.3,415.7 264.6,435 264.9,451.8 265.3,468 265.7,483.1 266.2,497 266.6,508.9 267.1,519.2 267.7,529.1 268.7,539.9 270.4,551.9 272.6,564.4 274.8,577.2 276.9,589.9 278.6,601.8 280.3,613.4 281.8,625.8 283.5,639.9 285.3,658.2 287.3,679.5 289.1,699.3 290.4,712.9 292.9,712.7 291.8,699 290.1,679.3 288.2,658 286.4,639.6 284.7,625.4 283.1,613.1 281.4,601.4 279.6,589.5 277.4,576.8 275,564 272.7,551.5 271,539.6 269.9,529 269.2,519.1 268.7,508.8 268.2,496.9 267.7,483.1 267.2,467.9 266.8,451.8 266.4,435 266.1,415.7 265.9,394.5 265.8,374.8 265.5,359.9 265.3,351.6 264.9,347.6 264.6,345.9 264.4,344.7" fill="#6E9E6C" opacity=".55"/>
<polygon points="287.5,287 287.6,300.1 287.9,318.8 288,339.9 288,360 287.6,378.5 287,397.3 286.5,416.1 286.3,435 286.6,454.9 287.2,475.5 287.9,494.6 288.5,510.2 288.9,520.4 289.2,526.8 289.4,532.4 289.8,540.2 290.1,551.2 290.5,563.9 290.8,577.2 291.3,590.2 291.7,602.2 292.2,613.8 292.7,626.1 293.3,640.2 294,658.5 294.8,679.8 295.5,699.5 296,713.2 305,712.8 304.6,699.2 304,679.5 303.3,658.2 302.7,639.8 302.2,625.7 301.7,613.4 301.2,601.8 300.7,589.8 300.3,576.9 300,563.6 299.6,550.9 299.2,539.8 298.8,531.9 298.4,526.3 298,520 297.5,509.8 296.8,494.2 295.9,475.1 295.2,454.7 294.7,435 294.8,416.3 295.2,397.5 295.7,378.7 296,360 296,339.9 295.8,318.8 295.6,300 295.5,287" fill="#598859"/>
<polygon points="287.5,287 287.6,300.1 287.9,318.8 288,339.9 288,360 287.6,378.5 287,397.3 286.5,416.1 286.3,435 286.6,454.9 287.2,475.5 287.9,494.6 288.5,510.2 288.9,520.4 289.2,526.8 289.4,532.4 289.8,540.2 290.1,551.2 290.5,563.9 290.8,577.2 291.3,590.2 291.7,602.2 292.2,613.8 292.7,626.1 293.3,640.2 294,658.5 294.8,679.8 295.5,699.5 296,713.2 298.3,713.1 297.8,699.4 297.1,679.7 296.3,658.4 295.6,640.1 295.1,626 294.6,613.7 294.1,602.1 293.6,590.1 293.2,577.1 292.8,563.8 292.5,551.2 292.1,540.1 291.8,532.3 291.5,526.7 291.2,520.3 290.8,510.1 290.1,494.5 289.4,475.4 288.7,454.9 288.4,435 288.6,416.2 289.1,397.3 289.6,378.6 290,360 290,339.9 289.9,318.8 289.6,300.1 289.5,287" fill="#426F4B" opacity=".75"/>
<polygon points="292.1,287 292.2,300.1 292.4,318.8 292.6,339.9 292.6,360 292.3,378.6 291.7,397.4 291.3,416.2 291.1,435 291.5,454.8 292.2,475.3 293,494.4 293.7,510 294.1,520.2 294.5,526.5 294.9,532.1 295.2,540 295.6,551.1 295.9,563.7 296.3,577 296.7,590 297.2,601.9 297.7,613.5 298.2,625.9 298.7,640 299.4,658.3 300.1,679.6 300.7,699.3 301.2,713 303.2,712.9 302.8,699.3 302.1,679.5 301.5,658.2 300.8,639.9 300.3,625.8 299.8,613.4 299.3,601.8 298.8,589.9 298.4,576.9 298.1,563.7 297.7,551 297.3,539.9 297,532 296.6,526.4 296.2,520.1 295.7,509.9 295,494.3 294.2,475.2 293.5,454.7 293,435 293.1,416.2 293.6,397.4 294.1,378.7 294.4,360 294.4,339.9 294.2,318.8 294,300 293.9,287" fill="#6E9E6C" opacity=".55"/>
<polygon points="326,314.6 325.1,321.9 323.9,332.4 322.5,345.2 321.5,359.8 321,377 320.7,396.8 320.5,416.9 320,434.8 319.2,450 318.3,463.7 317.3,476.7 316.3,489.7 315.3,501.9 314.3,513.4 313.4,525.5 312.5,539.8 311.7,556.3 311,574.3 310.3,593.9 309.5,614.8 308.4,640 307.1,668.4 305.8,694.6 305,712.8 317,713.2 317.7,695.1 318.6,668.9 319.6,640.4 320.5,615.2 321.1,594.2 321.5,574.7 321.9,556.6 322.5,540.2 323.2,526.2 324,514.1 324.9,502.6 325.7,490.3 326.6,477.4 327.5,464.4 328.3,450.5 329,435.2 329.5,417 329.7,396.9 330,377.2 330.5,360.2 331.3,345.9 332.3,333.2 333.3,322.8 334,315.4" fill="#598859"/>
<polygon points="326,314.6 325.1,321.9 323.9,332.4 322.5,345.2 321.5,359.8 321,377 320.7,396.8 320.5,416.9 320,434.8 319.2,450 318.3,463.7 317.3,476.7 316.3,489.7 315.3,501.9 314.3,513.4 313.4,525.5 312.5,539.8 311.7,556.3 311,574.3 310.3,593.9 309.5,614.8 308.4,640 307.1,668.4 305.8,694.6 305,712.8 308,712.9 308.8,694.7 310,668.6 311.2,640.1 312.3,614.9 313,594 313.7,574.4 314.3,556.4 315,539.9 315.8,525.7 316.8,513.6 317.7,502.1 318.6,489.8 319.6,476.9 320.6,463.9 321.5,450.1 322.3,434.9 322.7,416.9 323,396.8 323.2,377.1 323.8,359.9 324.7,345.4 326,332.6 327.2,322.2 328,314.8" fill="#426F4B" opacity=".75"/>
<polygon points="330.6,315.1 329.8,322.4 328.7,332.9 327.6,345.6 326.7,360 326.2,377.1 325.9,396.9 325.6,417 325.2,435 324.4,450.3 323.6,464.1 322.6,477.1 321.7,490.1 320.8,502.3 319.9,513.8 319,525.9 318.2,540 317.6,556.5 317.1,574.5 316.5,594.1 315.8,615 314.9,640.2 313.7,668.7 312.6,694.9 311.9,713 314.6,713.1 315.3,695 316.3,668.8 317.4,640.3 318.3,615.1 318.9,594.1 319.4,574.6 319.9,556.6 320.5,540.1 321.3,526 322.1,514 323,502.5 323.8,490.2 324.7,477.3 325.6,464.3 326.5,450.4 327.2,435.1 327.7,417 327.9,396.9 328.2,377.2 328.7,360.1 329.5,345.8 330.6,333.1 331.7,322.6 332.4,315.3" fill="#6E9E6C" opacity=".55"/>
<polygon points="362.5,424.6 361.7,430.5 360.5,438.9 359.2,449 358,459.7 357.1,471.5 356.2,484.7 355.4,497.9 354.5,509.7 353.8,518.8 353.2,526.2 352.4,534 351,544.5 348.9,559.1 346.2,576.4 343.3,594 340.6,609.2 338.1,620.7 335.7,630.1 333.3,639.7 331.1,651.3 328.9,666.8 326.9,684.6 325.2,701.1 324,712.5 336,713.5 336.8,702.1 337.9,685.6 339.4,667.9 340.9,652.7 342.8,641.7 344.8,632.4 347.1,622.7 349.4,610.8 351.9,595.4 354.5,577.7 357,560.3 359,545.5 360.3,535 361.1,526.9 361.8,519.4 362.5,510.3 363.4,498.5 364.2,485.3 365.1,472.1 366,460.3 366.9,449.8 367.9,439.8 368.8,431.4 369.5,425.4" fill="#598859"/>
<polygon points="362.5,424.6 361.7,430.5 360.5,438.9 359.2,449 358,459.7 357.1,471.5 356.2,484.7 355.4,497.9 354.5,509.7 353.8,518.8 353.2,526.2 352.4,534 351,544.5 348.9,559.1 346.2,576.4 343.3,594 340.6,609.2 338.1,620.7 335.7,630.1 333.3,639.7 331.1,651.3 328.9,666.8 326.9,684.6 325.2,701.1 324,712.5 327,712.7 328.1,701.3 329.7,684.9 331.5,667.1 333.5,651.6 335.6,640.2 338,630.7 340.4,621.2 342.8,609.6 345.4,594.3 348.3,576.7 350.9,559.4 353,544.7 354.4,534.3 355.2,526.4 355.8,518.9 356.5,509.8 357.4,498.1 358.2,484.9 359.1,471.7 360,459.8 361.1,449.2 362.4,439.2 363.5,430.7 364.3,424.8" fill="#426F4B" opacity=".75"/>
<polygon points="366.5,425.1 365.8,431 364.8,439.4 363.6,449.4 362.6,460.1 361.7,471.8 360.8,485 360,498.2 359.1,510 358.4,519.1 357.7,526.6 356.9,534.6 355.6,545.1 353.5,559.8 351,577.2 348.2,594.8 345.7,610.1 343.3,621.8 340.9,631.4 338.7,640.8 336.7,652.1 334.9,667.4 333.3,685.2 331.9,701.7 330.9,713.1 333.6,713.3 334.5,701.9 335.7,685.4 337.3,667.7 339,652.4 340.9,641.3 343,631.9 345.3,622.3 347.7,610.5 350.2,595.1 352.8,577.4 355.4,560 357.4,545.3 358.7,534.8 359.5,526.8 360.2,519.3 360.9,510.2 361.8,498.4 362.6,485.2 363.5,472 364.4,460.2 365.4,449.6 366.5,439.6 367.4,431.2 368.1,425.3" fill="#6E9E6C" opacity=".55"/>
<polygon points="385.5,153.9 385.3,157.4 385.1,162.2 384.9,169.4 384.8,180 384.7,195.3 384.8,214.5 384.8,235.1 384.8,255 384.6,274.8 384.4,295.3 384.2,314.4 384,330 384,340.3 384,346.9 384,352.5 383.8,359.8 383.2,370 382.3,381.6 381.3,393.1 380.3,403.4 379.2,412.1 378,419.8 376.7,426.9 375.2,433.6 373.3,439.1 370.9,444.1 368.3,450.5 366.3,459.1 365.2,470.7 364.6,484.4 364.2,498.1 363.8,509.8 363.5,517.4 363.6,522.6 363.3,528.6 362.3,539.4 359.9,557 356.6,579.2 353.2,603.2 350.5,626.4 348.8,650.2 347.5,675.1 346.6,697.3 346,712.7 360,713.3 360.7,697.9 361.7,675.8 362.9,651 364.5,627.6 366.6,604.8 369.3,580.8 371.8,558.5 373.7,540.6 374.6,529.4 374.9,522.8 374.9,517.7 375.2,510.2 375.9,498.6 376.6,485 377.5,471.7 378.7,460.9 380.1,453.8 381.9,448.5 383.9,443 385.8,436.4 387.3,429 388.6,421.5 389.7,413.5 390.7,404.6 391.7,394 392.5,382.3 393.2,370.6 393.7,360.2 394,352.7 394,346.9 394,340.3 394,330 394.1,314.5 394.2,295.4 394.3,274.8 394.2,255 394.1,235.1 393.7,214.4 393.4,195.3 393.2,180 393.2,169.5 393.3,162.4 393.4,157.7 393.5,154.1" fill="#598859"/>
<polygon points="385.5,153.9 385.3,157.4 385.1,162.2 384.9,169.4 384.8,180 384.7,195.3 384.8,214.5 384.8,235.1 384.8,255 384.6,274.8 384.4,295.3 384.2,314.4 384,330 384,340.3 384,346.9 384,352.5 383.8,359.8 383.2,370 382.3,381.6 381.3,393.1 380.3,403.4 379.2,412.1 378,419.8 376.7,426.9 375.2,433.6 373.3,439.1 370.9,444.1 368.3,450.5 366.3,459.1 365.2,470.7 364.6,484.4 364.2,498.1 363.8,509.8 363.5,517.4 363.6,522.6 363.3,528.6 362.3,539.4 359.9,557 356.6,579.2 353.2,603.2 350.5,626.4 348.8,650.2 347.5,675.1 346.6,697.3 346,712.7 349.5,712.8 350.2,697.4 351.1,675.3 352.3,650.4 354,626.7 356.6,603.6 359.8,579.6 362.9,557.4 365.1,539.7 366.2,528.8 366.4,522.6 366.4,517.5 366.6,509.9 367.1,498.2 367.6,484.5 368.3,471 369.4,459.5 371.3,451.3 373.6,445.2 375.9,440.1 377.8,434.3 379.4,427.5 380.7,420.3 381.8,412.5 382.9,403.7 383.9,393.4 384.9,381.8 385.7,370.2 386.3,359.9 386.5,352.5 386.5,346.9 386.5,340.3 386.5,330 386.7,314.4 386.8,295.3 387,274.8 387.1,255 387.1,235.1 387,214.5 386.9,195.3 386.9,180 387,169.4 387.2,162.3 387.4,157.5 387.5,153.9" fill="#426F4B" opacity=".75"/>
<polygon points="390.1,154 390,157.5 389.8,162.3 389.7,169.5 389.6,180 389.7,195.3 389.9,214.4 390.1,235.1 390.2,255 390.2,274.8 390,295.3 389.9,314.4 389.7,330 389.7,340.3 389.8,346.9 389.8,352.6 389.5,360 388.9,370.4 388.2,382 387.3,393.7 386.3,404.1 385.2,412.9 384.1,420.8 382.8,428.1 381.3,435.2 379.4,441.4 377.2,446.6 375.1,452.4 373.4,460.1 372.3,471.3 371.5,484.7 370.9,498.4 370.4,510 370.1,517.6 370.1,522.7 369.8,529 368.9,540.1 366.8,557.9 363.9,580.1 360.9,604.1 358.5,627.1 356.9,650.6 355.7,675.5 354.7,697.6 354,713 357.2,713.2 357.9,697.7 358.8,675.6 360.1,650.8 361.7,627.4 363.9,604.4 366.7,580.5 369.4,558.2 371.4,540.4 372.4,529.2 372.6,522.8 372.6,517.6 372.9,510.1 373.5,498.5 374.2,484.9 375.1,471.5 376.2,460.6 377.8,453.1 379.7,447.6 381.8,442.3 383.7,435.8 385.2,428.6 386.5,421.2 387.6,413.2 388.6,404.3 389.6,393.9 390.5,382.2 391.2,370.5 391.7,360.1 392,352.6 392,346.9 392,340.3 392,330 392.1,314.4 392.2,295.3 392.3,274.8 392.3,255 392.2,235.1 391.9,214.4 391.7,195.3 391.5,180 391.6,169.5 391.7,162.4 391.8,157.6 391.9,154.1" fill="#6E9E6C" opacity=".55"/>
<polygon points="117.5,304.5 123.3,304.7 131.6,304.9 140.9,305.2 150,305.5 158.8,305.8 168,306.1 176.9,306.4 185,307 192.2,307.8 198.8,308.8 204.7,309.9 210,311 214.5,312.1 218.1,313.2 221.5,314.5 225,316 228.5,317.6 231.9,319.3 235.5,321.4 240,324 245.4,327.4 251.6,331.3 258.2,335.6 265,340 272.5,344.4 280.6,348.9 288.4,353.7 295,359 299.9,364.9 303.6,371.3 306.8,378.1 310,385 313.5,392.9 316.9,401.6 319.9,409.5 322,415 318,420 314.8,417.4 310.2,413.8 305.1,409.5 300,405 295.1,400.4 290,395.3 284.9,390.1 280,385 275.3,379.9 270.8,374.7 266.4,369.6 262,365 257.8,360.9 253.6,357.2 249.4,353.7 245,350 240.2,345.9 235,341.6 229.9,337.5 225,334 220.8,331.3 217,329.1 212.9,327.1 207.5,325 200.3,322.6 191.7,320.2 182.9,317.9 175,316 168.4,314.8 162.5,314.2 156.6,313.6 150,312.5 141.6,310.6 132.2,308.3 123.5,306 117.5,304.5" fill="#4A8A3D"/>
<polygon points="117.5,304.5 127.9,306.2 138.4,307.9 148.8,309.5 159.4,310.7 170,311.6 180.5,313.1 190.9,315.1 201.2,317.5 211.4,320.5 221.2,324.7 230.3,330.1 239,336.2 247.5,342.6 255.9,349.1 264.4,355.4 272.5,362.1 280.2,369.3 287.4,377.2 293.9,385.5 300.2,393.8 306.6,402.1 313,410.1 319.5,418.1 318,420 309.9,413.5 302,406.7 294.4,399.6 287,392.3 279.8,384.8 272.9,377.1 266,369.3 258.7,361.9 250.9,355 243,348.3 235,341.6 226.8,335.3 218,329.6 208.5,325.4 198.7,322.2 188.6,319.4 178.6,316.8 168.4,314.8 158,313.7 147.8,312 137.7,309.6 127.6,307.1 117.5,304.5" fill="#3E7B36"/>
<polygon points="191.2,592.5 192.5,594.7 194.2,597.8 196.3,601.4 198.5,605 200.8,608.6 203.4,612.5 206.1,616.3 209,620 212,623.5 215.2,626.8 218.5,630 222,633 225.8,635.7 229.9,638.1 234.1,640.5 238,643 241.8,645.6 245.5,648.2 248.9,651 252,654 254.7,657.1 257,660.4 258.9,664 260.5,668 261.6,673 262.3,678.9 262.7,684.3 263,688 250,688.8 248.2,686.3 245.6,682.8 242.7,678.8 240,675 237.4,671.3 234.8,667.4 232.3,663.6 230,660 228,656.6 226.2,653.4 224.5,650.4 222.5,647.5 220.2,644.9 217.7,642.5 215.1,640.1 212.5,637.5 209.9,634.6 207.3,631.6 204.8,628.4 202.5,625 200.4,621.5 198.4,617.7 196.6,613.9 195,610 193.7,605.6 192.7,600.9 191.8,596.7 191.2,593.8" fill="#3B7534"/>
<polygon points="288.8,78 292.9,80.6 298.9,84.4 305.7,88.7 312,93 317.9,97.4 323.9,102 329.7,106.6 335,111 339.8,115 344.3,118.8 348.4,122.4 352,126 355.1,129.6 357.6,133.2 359.9,136.7 362,140 364,143.1 365.8,146.1 367.4,149 369,152 370.6,155.1 372.1,158.3 373.6,161.6 375,165 376.4,168.6 377.7,172.4 378.9,176.2 380,180 380.9,183.8 381.7,187.5 382.4,191.2 383,195 383.5,199.1 383.9,203.4 384.3,207.3 384.5,210 384,216 383.1,214.7 381.8,212.9 380.4,210.8 379,208.5 377.8,206.2 376.6,203.6 375.4,200.9 374,198 372.5,194.8 370.8,191.4 369.1,187.9 367.5,184.5 366,181.1 364.5,177.8 363,174.4 361.5,171 360,167.6 358.4,164.3 356.8,160.8 355,157 352.9,152.7 350.7,148.1 348.3,143.4 346,139 343.7,134.9 341.4,131 339,127.2 336.5,123.5 333.8,119.9 330.9,116.5 328,113.2 325,110 321.9,107 318.8,104.1 315.6,101.4 312.5,98.8 309.3,96.2 306.2,93.9 303,91.5 300,89 296.8,86.1 293.6,82.9 290.7,80 288.8,78" fill="#3A7333"/>
<polygon points="288.8,78 294.6,82.5 300.4,87 306.5,91.4 312.5,95.7 318.3,100.3 324,105.1 329.5,110 334.9,115.1 340.1,120.4 345,125.8 349.5,131.7 353.5,137.9 357.2,144.3 360.8,150.8 364.2,157.4 367.4,164.1 370.3,170.9 373,177.9 375.6,184.8 378,191.8 380.1,198.8 382,205.9 384.3,212.7 384,216 379.8,209.9 376.4,203.3 373.3,196.6 370.1,189.9 366.9,183.2 363.9,176.5 360.9,169.7 357.8,163 354.6,156.3 351.4,149.6 348.1,143 344.6,136.5 340.8,130.1 336.8,123.9 332.2,118.1 327.3,112.5 322.2,107.2 316.6,102.3 311,97.5 305.1,93 299.3,88.4 294,83.3 288.8,78" fill="#2C5A2A"/>
<polygon points="512.5,182 509.3,183.9 504.8,186.5 499.5,189.7 494.1,192.9 489.3,196 485.1,198.7 481.1,201.4 477.1,204.1 473,207.2 468.5,210.8 463.6,215.1 458.4,219.8 453,224.9 447.7,230 442.5,235 437.5,240 432.6,245.1 427.7,250.2 422.8,255.3 417.9,260.4 413,265.3 408.1,270.2 403.2,275.2 398.3,280.4 393.3,286 388.3,292.3 383.4,299.1 378.5,306 373.6,312.7 368.7,318.9 363.6,324.5 358.4,329.9 353.2,334.9 348.3,339.7 343.9,343.9 340.1,347.8 336.5,351.4 333.4,354.5 330.8,357.1 328.9,358.9 331.1,361.1 332.9,359.2 335.5,356.6 338.6,353.5 342.2,349.9 346.1,346.1 350.4,341.9 355.4,337.2 360.7,332.2 366.1,326.8 371.3,321.1 376.4,315 381.5,308.3 386.6,301.5 391.7,295 396.7,289 401.7,283.7 406.8,278.8 411.9,274.1 417,269.4 422.1,264.6 427.2,259.7 432.3,254.8 437.4,249.9 442.5,245 447.5,240 452.5,234.7 457.5,229.2 462.4,223.8 467.1,218.7 471.5,214.2 475.6,210.3 479.4,207 483,204 486.8,201.1 490.7,198 495.3,194.6 500.3,190.8 505.2,187.2 509.5,184.2 512.5,182" fill="#24451F"/>
<polygon points="397.6,258.2 395.4,259.9 392.3,262.4 388.7,265.2 384.9,268.1 381.3,270.9 378,273.4 374.7,275.8 371.3,278.3 367.7,280.9 364.1,283.8 360.1,287.2 355.8,290.9 351.5,294.8 347.5,298.4 344.2,301.6 341.4,304.3 339.1,306.8 337.1,308.9 335.6,310.7 334.5,312 335.5,313 336.8,311.8 338.5,310.2 340.5,308.3 343,306 345.8,303.4 349.3,300.4 353.3,296.8 357.6,293.1 361.9,289.4 365.9,286.2 369.6,283.5 373.2,281 376.7,278.7 380.2,276.5 383.7,274.1 387.4,271.5 391.3,268.6 395,265.8 398.1,263.5 400.4,261.8" fill="#B8916C"/>
<polygon points="268,233.8 269.2,236.8 270.9,241 272.8,246 274.8,251 276.7,255.4 278.4,259.3 280.3,263.1 282,266.7 283.7,270 285.1,272.9 286.3,275.5 287.5,277.9 288.4,279.9 289.2,281.6 289.8,282.8 291.2,282.2 290.7,280.9 290,279.2 289.1,277.1 288.1,274.7 286.9,272.1 285.5,269.1 283.9,265.8 282.1,262.2 280.2,258.4 278.3,254.6 276.2,250.3 273.8,245.5 271.5,240.8 269.4,236.6 268,233.8" fill="#24451F"/>
<polygon points="27.5,335.5 30.5,337.1 34.8,339.3 39.9,342 45,345 50.2,348.2 55.6,351.8 61.4,355.8 67.5,360 74.1,364.6 81.1,369.7 88.2,374.9 95,380 101.3,385.2 107.3,390.6 113.5,395.6 120,400 127.3,403.4 135,406.2 142.7,408.6 150,411 156.6,413.3 162.8,415.4 168.9,417.6 175,420 181.2,422.8 187.5,425.8 193.8,428.9 200,432 206.4,435.1 212.8,438.3 219.1,441.6 225,445 230.5,448.7 235.8,452.5 240.6,456.3 245,460 249,463.7 252.8,467.4 255.8,470.7 258,473 257,478 254.6,476.7 251.3,474.9 247.3,472.7 243,470 238.3,466.7 233.1,462.9 227.6,458.8 222,455 216.3,451.4 210.3,447.9 204.2,444.5 198,441 191.7,437.4 185.2,433.8 178.6,430.2 172,427 165.4,424.2 158.8,421.8 152,419.5 145,417 137.7,414.6 130.2,412.4 122.6,409.7 115,406 107.4,400.9 99.8,394.7 92.2,388.2 85,382 78.1,376.2 71.3,370.4 64.9,365 59,360 53.6,355.6 48.7,351.7 44.1,348.2 40,345 36.1,342 32.6,339.3 29.6,337.1 27.5,335.5" fill="#3B7534"/>
<polygon points="150,418.8 153.6,421.7 158.8,425.9 164.5,430.6 170,435 175.1,439 180.2,442.9 185.2,446.6 190,450 194.7,452.9 199.2,455.3 203.5,457.6 207.5,460 211,462.5 214.2,465 217.2,467.5 220,470 222.9,472.7 225.8,475.6 228.3,478.2 230,480 232.5,487.5 230.4,486.3 227.5,484.5 223.9,482.4 220,480 215.5,477.2 210.5,474.1 205.2,470.7 200,467.5 194.9,464.5 189.8,461.6 184.8,458.5 180,455 175.3,451 170.8,446.6 166.5,442.1 162.5,437.5 158.7,432.5 155.2,427 152.1,422.1 150,418.8" fill="#3B7534"/>
<polygon points="133.8,456.2 140,457.7 148.7,459.8 158.9,462.3 169.7,465 179.9,467.6 189.9,470.3 200.5,473.3 211.1,476.3 221,479.2 229.8,481.8 237.4,483.9 244.2,485.9 250.1,487.6 255.3,489.2 259.7,490.8 262.4,492.2 263.6,493.1 264.5,494.2 266.2,495.9 269.6,498.2 275.6,501.7 283.5,506.2 292,510.9 299.5,515.1 304.7,518 305.3,517 300.1,514 292.6,509.8 284.2,504.9 276.3,500.4 270.4,496.8 267.2,494.6 265.8,493.1 264.9,491.9 263.3,490.6 260.3,489.2 255.9,487.5 250.7,485.9 244.6,484.2 237.8,482.3 230.2,480.2 221.4,477.7 211.5,474.9 200.9,471.9 190.3,469 180.1,466.4 169.9,464 159.1,461.6 148.8,459.4 140,457.6 133.8,456.2" fill="#24451F"/>
<polygon points="342,431 339.5,431.5 337.3,433.5 335,436 332.5,438.8 329.9,442 327.5,445 325.8,447.1 324.2,449.1 322,452 318.6,456.6 314.5,462.1 310,468 305.2,474.1 300.1,480.6 295,487 290,493 285,498.9 280,505 275.1,511.4 270.2,518.1 265,525 258.4,532.8 251.4,540.9 247,547 246.8,550 249.1,551 252,551.5 254.7,552.2 257.9,552.4 262,551 267.1,547.3 273.2,541.9 280,536 287.8,529.7 296.4,522.9 305,516 313.7,509.1 322.4,502.2 330,496 335.8,491.1 340.5,486.9 345,482 349.8,475.5 354.4,468.3 358,462 360.5,457.3 362,453.6 362,450 359.7,446.5 355.9,443.2 352,440" fill="#3F7C36"/>
<polygon points="480,401.2 478.3,399.6 475.8,397.2 472.9,394.8 470,393 467.2,392 464.2,391.5 461,391.2 457.5,391.2 453.4,391.6 448.9,392.2 444.3,393 440,393.8 436,394.4 432.2,395.1 428.5,395.7 425,396.2 421.7,396.6 418.6,396.7 415.6,397 412.5,397.5 409.4,398.5 406.2,399.7 403.1,401.1 400,402.5 396.9,404 393.8,405.6 390.6,407.2 387.5,408.8 384.4,410.1 381.2,411.2 378.1,412.4 375,413.8 371.9,415.2 368.8,416.8 365.6,418.4 362.5,420 359.3,421.6 356.1,423.1 352.9,424.7 350,426.2 347.1,428 344.2,429.8 341.7,431.4 340,432.5 358.8,450 359.7,448.4 361.1,446 362.9,443.5 365,441.2 367.7,439.6 370.9,438.1 374.2,436.7 377.5,435 380.6,432.9 383.8,430.6 386.9,428.3 390,426.2 393.1,424.5 396.2,423 399.4,421.6 402.5,420 405.6,418.2 408.8,416.2 411.9,414.3 415,412.5 418.1,410.8 421.2,409.2 424.4,407.7 427.5,406.2 430.6,404.9 433.8,403.6 436.9,402.4 440,401.2 443.1,400.2 446.2,399.2 449.4,398.3 452.5,397.5 455.7,396.8 459.1,396.1 462.2,395.7 465,395.6 467.2,396 469.1,396.9 470.7,397.9 472.5,398.8 474.6,399.5 476.7,400.2 478.7,400.8 480,401.2" fill="#3F7C36"/>
<polygon points="318,478 345,482 335,508 327,528 318,542 300,542 304,515 310,495" fill="#3A6B33"/>
<polygon points="355,467.5 352.2,469.7 348.3,472.8 343.9,476.4 340,480 336.6,483.5 333.4,487.2 330.4,491 327.5,495 324.8,499.2 322.3,503.6 319.9,508.1 317.5,512.5 314.9,517.1 312.2,521.7 309.6,526.2 307.5,530 305.8,533.3 304.4,536.1 303.3,538.4 302.5,540 330,540 330.8,536.9 332,532.3 333.5,527.3 335,522.5 336.7,518.2 338.6,513.9 340.6,509.6 342.5,505 344.4,500.1 346.4,495 348.3,489.9 350,485 351.5,480 353,475 354.2,470.6 355,467.5" fill="#34632F"/>
<polygon points="420,428 416.9,428.8 412.3,430 407.3,431.3 402.5,432.5 398.1,433.5 393.6,434.3 389.2,435.2 385,436.2 381,437.4 377.2,438.6 373.5,439.9 370,441.2 366.6,442.7 363.3,444.2 360.2,445.8 357.5,447.5 355.1,449.5 353,451.6 351.2,453.6 350,455 350,466 352.2,465 355.5,463.6 359.1,461.9 362.5,460 365.6,457.7 368.8,455.1 371.9,452.4 375,450 378.1,447.9 381.1,446.1 384.2,444.3 387.5,442.5 391,440.6 394.7,438.7 398.5,436.8 402.5,435 407.1,433.2 412.2,431.4 416.8,429.8 420,428.8" fill="#4A8A3D"/>
<polygon points="623.5,350.5 620,352 615,354.2 609.1,356.7 602.5,359 595.2,361.1 587.1,363.1 578.6,365.1 570,367 561.4,368.8 552.7,370.5 543.8,372.2 535,374 525.7,376 516.1,378.1 507.2,380.1 500,381.9 495.3,383.3 492.3,384.5 490.1,385.7 487.5,386.9 484.3,388.3 481.1,389.7 477.9,391.1 475,392.5 472.4,393.7 470,394.9 467.6,396.1 465,397.5 462.1,399.2 458.9,401.1 455.7,403.1 452.5,405 449.3,406.9 446.1,408.8 442.9,410.6 440,412.5 437.3,414.4 434.7,416.3 432.3,418.2 430,420 427.9,421.7 426.1,423.2 424.3,424.7 422.5,426.2 420.6,427.8 418.8,429.3 416.9,430.8 415,432.5 413.2,434.2 411.3,436 409.5,437.9 407.5,440 405.2,442.6 402.7,445.5 400.4,448.1 398.8,450 417.5,450 418.8,449.4 420.6,448.5 422.8,447.5 425,446.2 427.4,444.9 429.9,443.3 432.5,441.6 435,440 437.3,438.5 439.6,437 441.8,435.5 443.8,433.8 445.5,431.7 447.2,429.5 448.7,427.2 450,425 451.1,423 452,421.2 452.8,419.3 453.8,417.5 454.9,415.6 456.1,413.8 457.4,411.9 458.8,410 460.1,408.1 461.4,406.2 463,404.3 465,402.5 467.7,400.8 470.9,399.3 474.2,397.8 477.5,396.2 480.7,394.6 483.9,393 487.1,391.4 490,390 492.1,388.9 493.6,387.9 495.8,387 500,385.6 507,383.7 515.9,381.5 525.7,379.2 535,377 543.8,375.1 552.7,373.2 561.4,371.4 570,369.5 578.6,367.5 587.1,365.4 595.2,363.3 602.5,361 609.1,358.3 615,355.2 620,352.4 623.5,350.5" fill="#2C5A2A"/>
<polygon points="582.5,520 577.8,521.3 571.2,523 563.4,525.1 555.3,527.3 547.8,529.3 541.2,531 535.2,532.7 528.8,534.4 521.4,536.4 512.2,538.9 500.5,542.1 486.8,545.9 472.1,549.9 457.7,553.9 444.7,557.5 433.1,560.7 422.4,563.5 412.1,566.2 402.1,569.2 392.1,572.6 382.1,576.4 372.4,580.5 362.8,584.9 353.5,589.7 344.3,594.9 334.8,601.2 324.9,608.5 315.5,615.9 307.6,622.3 301.9,626.7 303.1,628.3 308.8,623.9 316.9,617.6 326.3,610.4 336.2,603.2 345.7,597.1 354.7,592 364,587.2 373.4,582.8 383.1,578.8 392.9,574.9 402.8,571.5 412.8,568.6 423,565.9 433.8,563.1 445.3,560 458.4,556.3 472.8,552.3 487.4,548.2 501.1,544.4 512.8,541.1 521.9,538.5 529.3,536.3 535.7,534.5 541.7,532.7 548.2,530.7 555.7,528.4 563.7,525.9 571.3,523.5 577.9,521.5 582.5,520" fill="#24451F"/>
<polygon points="299.6,367.7 302.3,369.2 306.1,371.4 310.6,373.9 315.2,376.5 319.5,379 323.5,381.3 327.6,383.6 331.6,385.9 335.6,388.2 339.4,390.5 342.9,392.6 346.3,394.7 349.6,396.8 352.9,398.9 356.2,401.2 359.8,403.7 363.8,406.5 367.6,409.2 370.8,411.6 373.1,413.3 374.4,411.7 372.1,409.9 369,407.4 365.3,404.5 361.4,401.5 357.8,398.8 354.4,396.6 351.1,394.5 347.7,392.5 344.3,390.4 340.6,388.3 336.8,386.1 332.8,383.8 328.7,381.5 324.6,379.3 320.5,377 316.2,374.7 311.5,372.2 307,369.8 303.1,367.8 300.4,366.3" fill="#2C5A2A"/>
<polygon points="277.5,540 282.7,536.9 290.2,537 296,540 298.3,546.3 298.9,555.4 298.8,565 298.2,574.7 296.9,585 295,595 292.2,606.1 288.8,616.9 286,622.5 284.4,619.8 283.4,611.9 282.5,602.5 281.6,592.5 280.8,581.1 280,570" fill="#4A8A3D"/>
<polygon points="263.8,540 277.5,540 276,550 270,552.5 265,547.5" fill="#4A8A3D"/>
<polygon points="298.8,540 304.9,536.1 313.9,536.4 320,540 320.5,547.7 318.2,558.7 316,570 314.9,581 313.8,592.3 313,602.5 312.6,612.4 312.5,621.2 312,625 310.8,620.9 309.2,611.9 307.5,602.5 305.8,594.8 304.1,586.9 302.5,577.5" fill="#2E5A2C"/>
<polygon points="338.8,565 352,556 365,548 378,541 390,535.5 400,532 404,537 402.5,541 392.5,550 370,562.5 368.8,590 370,615 367.5,627.5 350,626 346,602.5 345,585" fill="#3D7A35"/>
<polygon points="404,537 402.5,541 392.5,550 370,562.5 368.8,590 370,615 360,560 380,545 395,536" fill="#35682F"/>
<polygon points="382.5,547.5 391,546 396,560 393.8,575 382.5,590 372.5,602.5 368.8,600 377.5,585 386,572.5 388.8,560" fill="#E3B888"/>
<polygon points="332.5,561 336,562.5 350,577.5 347.5,586 338.8,600 337.5,615 345,625 350,640 351,660 345,657.5 335,647.5 330,640 332.5,622.5 333.8,612.5 335,602.5 342.5,587.5 343.8,581 333.8,570" fill="#E3B888"/>
<polygon points="437.5,603.8 434.4,605.8 430,608.7 425,611.9 420,615 415.2,617.8 410.2,620.5 405.1,623.3 400,626.2 395,629.5 390,633 385,636.6 380,640 375,643.2 370,646.3 365,649.4 360,652.5 354.9,655.6 349.8,658.7 344.8,661.8 340,665 335.3,668.4 330.8,672 326.5,675.5 322.5,678.8 318.7,682 315.2,685.2 312.1,688 310,690 310,693.8 312.7,692.8 316.6,691.5 320.9,689.9 325,688 328.6,685.8 332.2,683.2 335.9,680.4 340,677.5 344.6,674.5 349.7,671.4 354.9,668.2 360,665 365,662 370,659 375,655.9 380,652.5 385,648.7 390,644.6 395,640.4 400,636.2 405.1,632.1 410.3,627.9 415.4,623.8 420,620 424.4,616.3 428.6,612.7 432.2,609.5 435,607 436.6,605.4 437.2,604.6 437.3,604.1 437.5,603.8" fill="#E3B888"/>
<polygon points="346,684 350,687.5 345,700 338.8,707.5 336,705 340,695" fill="#E3B888"/>
<polygon points="102.5,302 107.1,305.6 113.6,310.8 120.8,316.5 127,322 132,327 136.4,332.1 140.7,337.1 145,342 149.6,346.6 154.3,351 158.7,355.4 162.5,360 165.4,364.9 167.7,369.9 169.8,375 172,380 174.4,385 176.8,390 179.3,395 182,400 185,405 188.2,410 191.5,415 195,420 198.6,425 202.4,430 206.2,435 210,440 213.8,445 217.5,450 221.2,455 225,460 228.7,465 232.4,470 236.1,475 240,480 244.1,485 248.3,490 252.6,495 257,500 261.5,505.1 266.1,510.2 270.7,515.2 275,520 279.1,524.5 283.1,528.8 286.8,533 290,537 292.7,541.2 294.9,545.6 296.7,549.4 298,552 296,556 294.1,553.1 291.4,548.8 288.3,544.2 285,540 281.6,536.7 278.1,533.8 274.2,530.7 270,527 265.4,522.5 260.3,517.4 255.1,512.2 250,507 244.9,501.9 239.7,496.8 234.6,491.8 230,487 225.9,482.6 222.2,478.4 218.6,474.2 215,470 211.2,465.7 207.5,461.3 203.8,456.8 200,452 196.2,446.9 192.5,441.4 188.8,435.8 185,430 181.1,423.8 177.2,417.4 173.4,411 170,405 167.2,399.8 164.8,395 162.6,390.2 160,385 157.1,378.9 153.9,372.2 150.7,365.7 147.5,360 144.4,355.7 141.4,352.2 138.3,348.9 135,345 131.5,340.4 127.8,335.5 124,330.3 120,325 115.4,318.9 110.3,312.2 105.7,306.2 102.5,302" fill="#3B7534"/>
<polygon points="386.3,128.2 386.5,129.9 386.8,132.1 387.1,134.7 387.3,137.5 387.5,140.1 387.5,142.9 387.5,146.1 387.4,149.3 387.3,152 387.3,154 391.7,154 391.7,152.1 391.7,149.3 391.7,146.1 391.6,142.9 391.5,139.9 391.2,137.1 390.8,134.2 390.4,131.6 390,129.3 389.7,127.8" fill="#6C9B45"/>
<polygon points="385.5,134 387.5,134 388,153.5 385.5,153.5" fill="#2C5A2A"/>
<polygon points="395,130 400.5,139 393.5,153.5 391.5,153.5 392,140" fill="#2C5A2A"/>
<polygon points="291.8,275.9 290.5,286.9 293.5,287.1 294.2,276.1" fill="#6C9B45"/>
<polygon points="330.8,297.9 329,314.9 332,315.1 333.2,298.1" fill="#6C9B45"/>
<polygon points="431.5,112.6 422.3,121.4 417.3,132 413.1,142.8 409.3,153.5 405.3,164.3 401.4,175.5 398.3,187.2 395.8,198.5 392.8,208.8 388.8,219.4 403.2,224.6 407.2,213.7 410.7,201.8 413.1,190.6 416,180.1 419.6,169.6 423.7,158.8 427.6,147.8 430.9,136.8 433.8,125.8 432.9,113.1" fill="#7E8654"/>
<g transform="matrix(1.64 -7.84 3.14 0.66 432.3 112.6)"><polygon class="k" points="-.15,0 .1,.8 .38,1 .6,.7 .78,.3 1.12,0 .8,-.22 .62,-.62 .4,-1 .1,-.8"/><polygon class="s" points="-.15,0 .1,.8 .38,1 .6,.7 .78,.3 1.12,0 .75,0 .45,.1 .1,.05"/><polygon class="h" points=".1,-.8 .4,-1 .62,-.62 .55,-.05 .25,-.1"/></g>
<g transform="matrix(-3.94 -8.77 2.89 -1.30 430.1 111.7)"><polygon class="k" points="-.15,0 .1,.8 .38,1 .6,.7 .78,.3 1.12,0 .8,-.22 .62,-.62 .4,-1 .1,-.8"/><polygon class="s" points="-.15,0 .1,-.8 .4,-1 .62,-.62 .8,-.22 1.12,0 .75,0 .45,-.1 .1,-.05"/><polygon class="h" points=".1,.8 .38,1 .6,.7 .55,.05 .25,.1"/></g>
<g transform="matrix(4.54 -7.37 2.95 1.82 430.7 116.6)"><polygon class="k" points="-.15,0 .1,.8 .38,1 .6,.7 .78,.3 1.12,0 .8,-.22 .62,-.62 .4,-1 .1,-.8"/><polygon class="s" points="-.15,0 .1,.8 .38,1 .6,.7 .78,.3 1.12,0 .75,0 .45,.1 .1,.05"/><polygon class="h" points=".1,-.8 .4,-1 .62,-.62 .55,-.05 .25,-.1"/></g>
<g transform="matrix(9.61 -3.96 1.31 3.17 433.2 117.5)"><polygon class="k" points="-.15,0 .1,.8 .38,1 .6,.7 .78,.3 1.12,0 .8,-.22 .62,-.62 .4,-1 .1,-.8"/><polygon class="s" points="-.15,0 .1,.8 .38,1 .6,.7 .78,.3 1.12,0 .75,0 .45,.1 .1,.05"/><polygon class="h" points=".1,-.8 .4,-1 .62,-.62 .55,-.05 .25,-.1"/></g>
<g transform="matrix(1.79 -9.13 3.65 0.72 429.2 120.5)"><polygon class="k" points="-.15,0 .1,.8 .38,1 .6,.7 .78,.3 1.12,0 .8,-.22 .62,-.62 .4,-1 .1,-.8"/><polygon class="s" points="-.15,0 .1,.8 .38,1 .6,.7 .78,.3 1.12,0 .75,0 .45,.1 .1,.05"/><polygon class="h" points=".1,-.8 .4,-1 .62,-.62 .55,-.05 .25,-.1"/></g>
<g transform="matrix(-4.70 -10.13 3.34 -1.55 426.6 119.5)"><polygon class="k" points="-.15,0 .1,.8 .38,1 .6,.7 .78,.3 1.12,0 .8,-.22 .62,-.62 .4,-1 .1,-.8"/><polygon class="s" points="-.15,0 .1,-.8 .4,-1 .62,-.62 .8,-.22 1.12,0 .75,0 .45,-.1 .1,-.05"/><polygon class="h" points=".1,.8 .38,1 .6,.7 .55,.05 .25,.1"/></g>
<g transform="matrix(5.08 -8.56 3.42 2.03 427.7 124.5)"><polygon class="k" points="-.15,0 .1,.8 .38,1 .6,.7 .78,.3 1.12,0 .8,-.22 .62,-.62 .4,-1 .1,-.8"/><polygon class="s" points="-.15,0 .1,.8 .38,1 .6,.7 .78,.3 1.12,0 .75,0 .45,.1 .1,.05"/><polygon class="h" points=".1,-.8 .4,-1 .62,-.62 .55,-.05 .25,-.1"/></g>
<g transform="matrix(10.97 -4.73 1.56 3.62 430.5 125.5)"><polygon class="k" points="-.15,0 .1,.8 .38,1 .6,.7 .78,.3 1.12,0 .8,-.22 .62,-.62 .4,-1 .1,-.8"/><polygon class="s" points="-.15,0 .1,.8 .38,1 .6,.7 .78,.3 1.12,0 .75,0 .45,.1 .1,.05"/><polygon class="h" points=".1,-.8 .4,-1 .62,-.62 .55,-.05 .25,-.1"/></g>
<g transform="matrix(1.81 -10.45 4.18 0.72 426.2 128.5)"><polygon class="k" points="-.15,0 .1,.8 .38,1 .6,.7 .78,.3 1.12,0 .8,-.22 .62,-.62 .4,-1 .1,-.8"/><polygon class="s" points="-.15,0 .1,.8 .38,1 .6,.7 .78,.3 1.12,0 .75,0 .45,.1 .1,.05"/><polygon class="h" points=".1,-.8 .4,-1 .62,-.62 .55,-.05 .25,-.1"/></g>
<g transform="matrix(-5.61 -11.42 3.77 -1.85 423.2 127.4)"><polygon class="k" points="-.15,0 .1,.8 .38,1 .6,.7 .78,.3 1.12,0 .8,-.22 .62,-.62 .4,-1 .1,-.8"/><polygon class="s" points="-.15,0 .1,-.8 .4,-1 .62,-.62 .8,-.22 1.12,0 .75,0 .45,-.1 .1,-.05"/><polygon class="h" points=".1,.8 .38,1 .6,.7 .55,.05 .25,.1"/></g>
<g transform="matrix(5.55 -9.79 3.92 2.22 424.8 132.5)"><polygon class="k" points="-.15,0 .1,.8 .38,1 .6,.7 .78,.3 1.12,0 .8,-.22 .62,-.62 .4,-1 .1,-.8"/><polygon class="s" points="-.15,0 .1,.8 .38,1 .6,.7 .78,.3 1.12,0 .75,0 .45,.1 .1,.05"/><polygon class="h" points=".1,-.8 .4,-1 .62,-.62 .55,-.05 .25,-.1"/></g>
<g transform="matrix(12.29 -5.59 1.85 4.06 428.0 133.6)"><polygon class="k" points="-.15,0 .1,.8 .38,1 .6,.7 .78,.3 1.12,0 .8,-.22 .62,-.62 .4,-1 .1,-.8"/><polygon class="s" points="-.15,0 .1,.8 .38,1 .6,.7 .78,.3 1.12,0 .75,0 .45,.1 .1,.05"/><polygon class="h" points=".1,-.8 .4,-1 .62,-.62 .55,-.05 .25,-.1"/></g>
<g transform="matrix(1.89 -11.75 4.70 0.76 423.4 136.5)"><polygon class="k" points="-.15,0 .1,.8 .38,1 .6,.7 .78,.3 1.12,0 .8,-.22 .62,-.62 .4,-1 .1,-.8"/><polygon class="s" points="-.15,0 .1,.8 .38,1 .6,.7 .78,.3 1.12,0 .75,0 .45,.1 .1,.05"/><polygon class="h" points=".1,-.8 .4,-1 .62,-.62 .55,-.05 .25,-.1"/></g>
<g transform="matrix(-6.45 -12.74 4.20 -2.13 420.0 135.3)"><polygon class="k" points="-.15,0 .1,.8 .38,1 .6,.7 .78,.3 1.12,0 .8,-.22 .62,-.62 .4,-1 .1,-.8"/><polygon class="s" points="-.15,0 .1,-.8 .4,-1 .62,-.62 .8,-.22 1.12,0 .75,0 .45,-.1 .1,-.05"/><polygon class="h" points=".1,.8 .38,1 .6,.7 .55,.05 .25,.1"/></g>
<g transform="matrix(5.93 -10.66 4.27 2.37 422.0 140.5)"><polygon class="k" points="-.15,0 .1,.8 .38,1 .6,.7 .78,.3 1.12,0 .8,-.22 .62,-.62 .4,-1 .1,-.8"/><polygon class="s" points="-.15,0 .1,.8 .38,1 .6,.7 .78,.3 1.12,0 .75,0 .45,.1 .1,.05"/><polygon class="h" points=".1,-.8 .4,-1 .62,-.62 .55,-.05 .25,-.1"/></g>
<g transform="matrix(13.28 -6.17 2.04 4.38 425.5 141.7)"><polygon class="k" points="-.15,0 .1,.8 .38,1 .6,.7 .78,.3 1.12,0 .8,-.22 .62,-.62 .4,-1 .1,-.8"/><polygon class="s" points="-.15,0 .1,.8 .38,1 .6,.7 .78,.3 1.12,0 .75,0 .45,.1 .1,.05"/><polygon class="h" points=".1,-.8 .4,-1 .62,-.62 .55,-.05 .25,-.1"/></g>
<g transform="matrix(1.93 -12.05 4.82 0.77 420.6 144.5)"><polygon class="k" points="-.15,0 .1,.8 .38,1 .6,.7 .78,.3 1.12,0 .8,-.22 .62,-.62 .4,-1 .1,-.8"/><polygon class="s" points="-.15,0 .1,.8 .38,1 .6,.7 .78,.3 1.12,0 .75,0 .45,.1 .1,.05"/><polygon class="h" points=".1,-.8 .4,-1 .62,-.62 .55,-.05 .25,-.1"/></g>
<g transform="matrix(-6.62 -13.06 4.31 -2.19 417.2 143.3)"><polygon class="k" points="-.15,0 .1,.8 .38,1 .6,.7 .78,.3 1.12,0 .8,-.22 .62,-.62 .4,-1 .1,-.8"/><polygon class="s" points="-.15,0 .1,-.8 .4,-1 .62,-.62 .8,-.22 1.12,0 .75,0 .45,-.1 .1,-.05"/><polygon class="h" points=".1,.8 .38,1 .6,.7 .55,.05 .25,.1"/></g>
<g transform="matrix(5.96 -10.65 4.26 2.38 419.2 148.5)"><polygon class="k" points="-.15,0 .1,.8 .38,1 .6,.7 .78,.3 1.12,0 .8,-.22 .62,-.62 .4,-1 .1,-.8"/><polygon class="s" points="-.15,0 .1,.8 .38,1 .6,.7 .78,.3 1.12,0 .75,0 .45,.1 .1,.05"/><polygon class="h" points=".1,-.8 .4,-1 .62,-.62 .55,-.05 .25,-.1"/></g>
<g transform="matrix(13.29 -6.14 2.02 4.39 422.7 149.7)"><polygon class="k" points="-.15,0 .1,.8 .38,1 .6,.7 .78,.3 1.12,0 .8,-.22 .62,-.62 .4,-1 .1,-.8"/><polygon class="s" points="-.15,0 .1,.8 .38,1 .6,.7 .78,.3 1.12,0 .75,0 .45,.1 .1,.05"/><polygon class="h" points=".1,-.8 .4,-1 .62,-.62 .55,-.05 .25,-.1"/></g>
<g transform="matrix(2.07 -12.02 4.81 0.83 417.8 152.5)"><polygon class="k" points="-.15,0 .1,.8 .38,1 .6,.7 .78,.3 1.12,0 .8,-.22 .62,-.62 .4,-1 .1,-.8"/><polygon class="s" points="-.15,0 .1,.8 .38,1 .6,.7 .78,.3 1.12,0 .75,0 .45,.1 .1,.05"/><polygon class="h" points=".1,-.8 .4,-1 .62,-.62 .55,-.05 .25,-.1"/></g>
<g transform="matrix(-6.47 -13.13 4.33 -2.13 414.4 151.3)"><polygon class="k" points="-.15,0 .1,.8 .38,1 .6,.7 .78,.3 1.12,0 .8,-.22 .62,-.62 .4,-1 .1,-.8"/><polygon class="s" points="-.15,0 .1,-.8 .4,-1 .62,-.62 .8,-.22 1.12,0 .75,0 .45,-.1 .1,-.05"/><polygon class="h" points=".1,.8 .38,1 .6,.7 .55,.05 .25,.1"/></g>
<g transform="matrix(6.14 -10.54 4.22 2.45 416.4 156.5)"><polygon class="k" points="-.15,0 .1,.8 .38,1 .6,.7 .78,.3 1.12,0 .8,-.22 .62,-.62 .4,-1 .1,-.8"/><polygon class="s" points="-.15,0 .1,.8 .38,1 .6,.7 .78,.3 1.12,0 .75,0 .45,.1 .1,.05"/><polygon class="h" points=".1,-.8 .4,-1 .62,-.62 .55,-.05 .25,-.1"/></g>
<g transform="matrix(13.40 -5.91 1.95 4.42 419.8 157.7)"><polygon class="k" points="-.15,0 .1,.8 .38,1 .6,.7 .78,.3 1.12,0 .8,-.22 .62,-.62 .4,-1 .1,-.8"/><polygon class="s" points="-.15,0 .1,.8 .38,1 .6,.7 .78,.3 1.12,0 .75,0 .45,.1 .1,.05"/><polygon class="h" points=".1,-.8 .4,-1 .62,-.62 .55,-.05 .25,-.1"/></g>
<g transform="matrix(2.23 -12.00 4.80 0.89 414.9 160.5)"><polygon class="k" points="-.15,0 .1,.8 .38,1 .6,.7 .78,.3 1.12,0 .8,-.22 .62,-.62 .4,-1 .1,-.8"/><polygon class="s" points="-.15,0 .1,.8 .38,1 .6,.7 .78,.3 1.12,0 .75,0 .45,.1 .1,.05"/><polygon class="h" points=".1,-.8 .4,-1 .62,-.62 .55,-.05 .25,-.1"/></g>
<g transform="matrix(-6.30 -13.22 4.36 -2.08 411.5 159.2)"><polygon class="k" points="-.15,0 .1,.8 .38,1 .6,.7 .78,.3 1.12,0 .8,-.22 .62,-.62 .4,-1 .1,-.8"/><polygon class="s" points="-.15,0 .1,-.8 .4,-1 .62,-.62 .8,-.22 1.12,0 .75,0 .45,-.1 .1,-.05"/><polygon class="h" points=".1,.8 .38,1 .6,.7 .55,.05 .25,.1"/></g>
<g transform="matrix(6.18 -10.52 4.21 2.47 413.4 164.4)"><polygon class="k" points="-.15,0 .1,.8 .38,1 .6,.7 .78,.3 1.12,0 .8,-.22 .62,-.62 .4,-1 .1,-.8"/><polygon class="s" points="-.15,0 .1,.8 .38,1 .6,.7 .78,.3 1.12,0 .75,0 .45,.1 .1,.05"/><polygon class="h" points=".1,-.8 .4,-1 .62,-.62 .55,-.05 .25,-.1"/></g>
<g transform="matrix(13.42 -5.85 1.93 4.43 416.8 165.7)"><polygon class="k" points="-.15,0 .1,.8 .38,1 .6,.7 .78,.3 1.12,0 .8,-.22 .62,-.62 .4,-1 .1,-.8"/><polygon class="s" points="-.15,0 .1,.8 .38,1 .6,.7 .78,.3 1.12,0 .75,0 .45,.1 .1,.05"/><polygon class="h" points=".1,-.8 .4,-1 .62,-.62 .55,-.05 .25,-.1"/></g>
<g transform="matrix(2.16 -12.01 4.80 0.86 411.9 168.4)"><polygon class="k" points="-.15,0 .1,.8 .38,1 .6,.7 .78,.3 1.12,0 .8,-.22 .62,-.62 .4,-1 .1,-.8"/><polygon class="s" points="-.15,0 .1,.8 .38,1 .6,.7 .78,.3 1.12,0 .75,0 .45,.1 .1,.05"/><polygon class="h" points=".1,-.8 .4,-1 .62,-.62 .55,-.05 .25,-.1"/></g>
<g transform="matrix(-6.37 -13.18 4.35 -2.10 408.5 167.1)"><polygon class="k" points="-.15,0 .1,.8 .38,1 .6,.7 .78,.3 1.12,0 .8,-.22 .62,-.62 .4,-1 .1,-.8"/><polygon class="s" points="-.15,0 .1,-.8 .4,-1 .62,-.62 .8,-.22 1.12,0 .75,0 .45,-.1 .1,-.05"/><polygon class="h" points=".1,.8 .38,1 .6,.7 .55,.05 .25,.1"/></g>
<g transform="matrix(5.95 -10.65 4.26 2.38 410.5 172.4)"><polygon class="k" points="-.15,0 .1,.8 .38,1 .6,.7 .78,.3 1.12,0 .8,-.22 .62,-.62 .4,-1 .1,-.8"/><polygon class="s" points="-.15,0 .1,.8 .38,1 .6,.7 .78,.3 1.12,0 .75,0 .45,.1 .1,.05"/><polygon class="h" points=".1,-.8 .4,-1 .62,-.62 .55,-.05 .25,-.1"/></g>
<g transform="matrix(13.29 -6.14 2.03 4.39 414.0 173.6)"><polygon class="k" points="-.15,0 .1,.8 .38,1 .6,.7 .78,.3 1.12,0 .8,-.22 .62,-.62 .4,-1 .1,-.8"/><polygon class="s" points="-.15,0 .1,.8 .38,1 .6,.7 .78,.3 1.12,0 .75,0 .45,.1 .1,.05"/><polygon class="h" points=".1,-.8 .4,-1 .62,-.62 .55,-.05 .25,-.1"/></g>
<g transform="matrix(1.78 -12.07 4.83 0.71 409.1 176.4)"><polygon class="k" points="-.15,0 .1,.8 .38,1 .6,.7 .78,.3 1.12,0 .8,-.22 .62,-.62 .4,-1 .1,-.8"/><polygon class="s" points="-.15,0 .1,.8 .38,1 .6,.7 .78,.3 1.12,0 .75,0 .45,.1 .1,.05"/><polygon class="h" points=".1,-.8 .4,-1 .62,-.62 .55,-.05 .25,-.1"/></g>
<g transform="matrix(-6.78 -12.97 4.28 -2.24 405.7 175.3)"><polygon class="k" points="-.15,0 .1,.8 .38,1 .6,.7 .78,.3 1.12,0 .8,-.22 .62,-.62 .4,-1 .1,-.8"/><polygon class="s" points="-.15,0 .1,-.8 .4,-1 .62,-.62 .8,-.22 1.12,0 .75,0 .45,-.1 .1,-.05"/><polygon class="h" points=".1,.8 .38,1 .6,.7 .55,.05 .25,.1"/></g>
<g transform="matrix(5.35 -10.97 4.39 2.14 407.9 180.5)"><polygon class="k" points="-.15,0 .1,.8 .38,1 .6,.7 .78,.3 1.12,0 .8,-.22 .62,-.62 .4,-1 .1,-.8"/><polygon class="s" points="-.15,0 .1,.8 .38,1 .6,.7 .78,.3 1.12,0 .75,0 .45,.1 .1,.05"/><polygon class="h" points=".1,-.8 .4,-1 .62,-.62 .55,-.05 .25,-.1"/></g>
<g transform="matrix(12.93 -6.87 2.27 4.27 411.4 181.5)"><polygon class="k" points="-.15,0 .1,.8 .38,1 .6,.7 .78,.3 1.12,0 .8,-.22 .62,-.62 .4,-1 .1,-.8"/><polygon class="s" points="-.15,0 .1,.8 .38,1 .6,.7 .78,.3 1.12,0 .75,0 .45,.1 .1,.05"/><polygon class="h" points=".1,-.8 .4,-1 .62,-.62 .55,-.05 .25,-.1"/></g>
<g transform="matrix(0.98 -12.16 4.86 0.39 406.7 184.6)"><polygon class="k" points="-.15,0 .1,.8 .38,1 .6,.7 .78,.3 1.12,0 .8,-.22 .62,-.62 .4,-1 .1,-.8"/><polygon class="s" points="-.15,0 .1,.8 .38,1 .6,.7 .78,.3 1.12,0 .75,0 .45,.1 .1,.05"/><polygon class="h" points=".1,-.8 .4,-1 .62,-.62 .55,-.05 .25,-.1"/></g>
<g transform="matrix(-7.63 -12.50 4.12 -2.52 403.2 183.6)"><polygon class="k" points="-.15,0 .1,.8 .38,1 .6,.7 .78,.3 1.12,0 .8,-.22 .62,-.62 .4,-1 .1,-.8"/><polygon class="s" points="-.15,0 .1,-.8 .4,-1 .62,-.62 .8,-.22 1.12,0 .75,0 .45,-.1 .1,-.05"/><polygon class="h" points=".1,.8 .38,1 .6,.7 .55,.05 .25,.1"/></g>
<g transform="matrix(4.72 -11.25 4.50 1.89 405.7 188.7)"><polygon class="k" points="-.15,0 .1,.8 .38,1 .6,.7 .78,.3 1.12,0 .8,-.22 .62,-.62 .4,-1 .1,-.8"/><polygon class="s" points="-.15,0 .1,.8 .38,1 .6,.7 .78,.3 1.12,0 .75,0 .45,.1 .1,.05"/><polygon class="h" points=".1,-.8 .4,-1 .62,-.62 .55,-.05 .25,-.1"/></g>
<g transform="matrix(12.51 -7.60 2.51 4.13 409.3 189.5)"><polygon class="k" points="-.15,0 .1,.8 .38,1 .6,.7 .78,.3 1.12,0 .8,-.22 .62,-.62 .4,-1 .1,-.8"/><polygon class="s" points="-.15,0 .1,.8 .38,1 .6,.7 .78,.3 1.12,0 .75,0 .45,.1 .1,.05"/><polygon class="h" points=".1,-.8 .4,-1 .62,-.62 .55,-.05 .25,-.1"/></g>
<g transform="matrix(0.48 -12.19 4.88 0.19 404.8 192.8)"><polygon class="k" points="-.15,0 .1,.8 .38,1 .6,.7 .78,.3 1.12,0 .8,-.22 .62,-.62 .4,-1 .1,-.8"/><polygon class="s" points="-.15,0 .1,.8 .38,1 .6,.7 .78,.3 1.12,0 .75,0 .45,.1 .1,.05"/><polygon class="h" points=".1,-.8 .4,-1 .62,-.62 .55,-.05 .25,-.1"/></g>
<g transform="matrix(-8.13 -12.17 4.02 -2.68 401.3 192.0)"><polygon class="k" points="-.15,0 .1,.8 .38,1 .6,.7 .78,.3 1.12,0 .8,-.22 .62,-.62 .4,-1 .1,-.8"/><polygon class="s" points="-.15,0 .1,-.8 .4,-1 .62,-.62 .8,-.22 1.12,0 .75,0 .45,-.1 .1,-.05"/><polygon class="h" points=".1,.8 .38,1 .6,.7 .55,.05 .25,.1"/></g>
<g transform="matrix(4.62 -11.29 4.52 1.85 403.9 197.0)"><polygon class="k" points="-.15,0 .1,.8 .38,1 .6,.7 .78,.3 1.12,0 .8,-.22 .62,-.62 .4,-1 .1,-.8"/><polygon class="s" points="-.15,0 .1,.8 .38,1 .6,.7 .78,.3 1.12,0 .75,0 .45,.1 .1,.05"/><polygon class="h" points=".1,-.8 .4,-1 .62,-.62 .55,-.05 .25,-.1"/></g>
<g transform="matrix(12.45 -7.71 2.54 4.11 407.5 197.7)"><polygon class="k" points="-.15,0 .1,.8 .38,1 .6,.7 .78,.3 1.12,0 .8,-.22 .62,-.62 .4,-1 .1,-.8"/><polygon class="s" points="-.15,0 .1,.8 .38,1 .6,.7 .78,.3 1.12,0 .75,0 .45,.1 .1,.05"/><polygon class="h" points=".1,-.8 .4,-1 .62,-.62 .55,-.05 .25,-.1"/></g>
<g transform="matrix(0.78 -12.17 4.87 0.31 403.0 201.1)"><polygon class="k" points="-.15,0 .1,.8 .38,1 .6,.7 .78,.3 1.12,0 .8,-.22 .62,-.62 .4,-1 .1,-.8"/><polygon class="s" points="-.15,0 .1,.8 .38,1 .6,.7 .78,.3 1.12,0 .75,0 .45,.1 .1,.05"/><polygon class="h" points=".1,-.8 .4,-1 .62,-.62 .55,-.05 .25,-.1"/></g>
<g transform="matrix(-7.83 -12.37 4.08 -2.58 399.4 200.2)"><polygon class="k" points="-.15,0 .1,.8 .38,1 .6,.7 .78,.3 1.12,0 .8,-.22 .62,-.62 .4,-1 .1,-.8"/><polygon class="s" points="-.15,0 .1,-.8 .4,-1 .62,-.62 .8,-.22 1.12,0 .75,0 .45,-.1 .1,-.05"/><polygon class="h" points=".1,.8 .38,1 .6,.7 .55,.05 .25,.1"/></g>
<g transform="matrix(5.47 -10.91 4.36 2.19 401.9 205.2)"><polygon class="k" points="-.15,0 .1,.8 .38,1 .6,.7 .78,.3 1.12,0 .8,-.22 .62,-.62 .4,-1 .1,-.8"/><polygon class="s" points="-.15,0 .1,.8 .38,1 .6,.7 .78,.3 1.12,0 .75,0 .45,.1 .1,.05"/><polygon class="h" points=".1,-.8 .4,-1 .62,-.62 .55,-.05 .25,-.1"/></g>
<g transform="matrix(13.00 -6.73 2.22 4.29 405.4 206.3)"><polygon class="k" points="-.15,0 .1,.8 .38,1 .6,.7 .78,.3 1.12,0 .8,-.22 .62,-.62 .4,-1 .1,-.8"/><polygon class="s" points="-.15,0 .1,.8 .38,1 .6,.7 .78,.3 1.12,0 .75,0 .45,.1 .1,.05"/><polygon class="h" points=".1,-.8 .4,-1 .62,-.62 .55,-.05 .25,-.1"/></g>
<g transform="matrix(1.86 -12.06 4.82 0.74 400.7 209.3)"><polygon class="k" points="-.15,0 .1,.8 .38,1 .6,.7 .78,.3 1.12,0 .8,-.22 .62,-.62 .4,-1 .1,-.8"/><polygon class="s" points="-.15,0 .1,.8 .38,1 .6,.7 .78,.3 1.12,0 .75,0 .45,.1 .1,.05"/><polygon class="h" points=".1,-.8 .4,-1 .62,-.62 .55,-.05 .25,-.1"/></g>
<g transform="matrix(-6.70 -13.02 4.30 -2.21 397.2 208.1)"><polygon class="k" points="-.15,0 .1,.8 .38,1 .6,.7 .78,.3 1.12,0 .8,-.22 .62,-.62 .4,-1 .1,-.8"/><polygon class="s" points="-.15,0 .1,-.8 .4,-1 .62,-.62 .8,-.22 1.12,0 .75,0 .45,-.1 .1,-.05"/><polygon class="h" points=".1,.8 .38,1 .6,.7 .55,.05 .25,.1"/></g>
<g transform="matrix(6.13 -10.55 4.22 2.45 399.3 213.3)"><polygon class="k" points="-.15,0 .1,.8 .38,1 .6,.7 .78,.3 1.12,0 .8,-.22 .62,-.62 .4,-1 .1,-.8"/><polygon class="s" points="-.15,0 .1,.8 .38,1 .6,.7 .78,.3 1.12,0 .75,0 .45,.1 .1,.05"/><polygon class="h" points=".1,-.8 .4,-1 .62,-.62 .55,-.05 .25,-.1"/></g>
<g transform="matrix(13.39 -5.92 1.95 4.42 402.7 214.5)"><polygon class="k" points="-.15,0 .1,.8 .38,1 .6,.7 .78,.3 1.12,0 .8,-.22 .62,-.62 .4,-1 .1,-.8"/><polygon class="s" points="-.15,0 .1,.8 .38,1 .6,.7 .78,.3 1.12,0 .75,0 .45,.1 .1,.05"/><polygon class="h" points=".1,-.8 .4,-1 .62,-.62 .55,-.05 .25,-.1"/></g>
<g transform="matrix(2.31 -11.98 4.79 0.92 397.8 217.2)"><polygon class="k" points="-.15,0 .1,.8 .38,1 .6,.7 .78,.3 1.12,0 .8,-.22 .62,-.62 .4,-1 .1,-.8"/><polygon class="s" points="-.15,0 .1,.8 .38,1 .6,.7 .78,.3 1.12,0 .75,0 .45,.1 .1,.05"/><polygon class="h" points=".1,-.8 .4,-1 .62,-.62 .55,-.05 .25,-.1"/></g>
<g transform="matrix(-6.21 -13.26 4.38 -2.05 394.4 215.9)"><polygon class="k" points="-.15,0 .1,.8 .38,1 .6,.7 .78,.3 1.12,0 .8,-.22 .62,-.62 .4,-1 .1,-.8"/><polygon class="s" points="-.15,0 .1,-.8 .4,-1 .62,-.62 .8,-.22 1.12,0 .75,0 .45,-.1 .1,-.05"/><polygon class="h" points=".1,.8 .38,1 .6,.7 .55,.05 .25,.1"/></g>
<g transform="matrix(6.12 -10.55 4.22 2.45 396.3 221.2)"><polygon class="k" points="-.15,0 .1,.8 .38,1 .6,.7 .78,.3 1.12,0 .8,-.22 .62,-.62 .4,-1 .1,-.8"/><polygon class="s" points="-.15,0 .1,.8 .38,1 .6,.7 .78,.3 1.12,0 .75,0 .45,.1 .1,.05"/><polygon class="h" points=".1,-.8 .4,-1 .62,-.62 .55,-.05 .25,-.1"/></g>
<g transform="matrix(13.38 -5.93 1.96 4.42 399.7 222.5)"><polygon class="k" points="-.15,0 .1,.8 .38,1 .6,.7 .78,.3 1.12,0 .8,-.22 .62,-.62 .4,-1 .1,-.8"/><polygon class="s" points="-.15,0 .1,.8 .38,1 .6,.7 .78,.3 1.12,0 .75,0 .45,.1 .1,.05"/><polygon class="h" points=".1,-.8 .4,-1 .62,-.62 .55,-.05 .25,-.1"/></g>
<polygon points="428.5,20.9 418.1,29 411.9,39 406.4,49.4 401.2,60.4 396.6,71.5 392.2,82.8 388.3,94.2 384.7,105.7 381.4,117.2 378.3,128.6 395.7,133.4 398.8,122 401.9,110.9 405.4,99.8 409.1,89 413.3,78.2 417.7,67.6 422.6,57.3 427.3,46.4 431.3,35.1 430.2,21.6" fill="#7E8654"/>
<g transform="matrix(1.95 -9.51 3.80 0.78 428.9 22.3)"><polygon class="k" points="-.15,0 .1,.8 .38,1 .6,.7 .78,.3 1.12,0 .8,-.22 .62,-.62 .4,-1 .1,-.8"/><polygon class="s" points="-.15,0 .1,.8 .38,1 .6,.7 .78,.3 1.12,0 .75,0 .45,.1 .1,.05"/><polygon class="h" points=".1,-.8 .4,-1 .62,-.62 .55,-.05 .25,-.1"/></g>
<g transform="matrix(-4.81 -10.60 3.50 -1.59 426.2 21.2)"><polygon class="k" points="-.15,0 .1,.8 .38,1 .6,.7 .78,.3 1.12,0 .8,-.22 .62,-.62 .4,-1 .1,-.8"/><polygon class="s" points="-.15,0 .1,-.8 .4,-1 .62,-.62 .8,-.22 1.12,0 .75,0 .45,-.1 .1,-.05"/><polygon class="h" points=".1,.8 .38,1 .6,.7 .55,.05 .25,.1"/></g>
<g transform="matrix(5.67 -8.79 3.51 2.27 427.3 26.3)"><polygon class="k" points="-.15,0 .1,.8 .38,1 .6,.7 .78,.3 1.12,0 .8,-.22 .62,-.62 .4,-1 .1,-.8"/><polygon class="s" points="-.15,0 .1,.8 .38,1 .6,.7 .78,.3 1.12,0 .75,0 .45,.1 .1,.05"/><polygon class="h" points=".1,-.8 .4,-1 .62,-.62 .55,-.05 .25,-.1"/></g>
<g transform="matrix(11.70 -4.53 1.49 3.86 430.2 27.5)"><polygon class="k" points="-.15,0 .1,.8 .38,1 .6,.7 .78,.3 1.12,0 .8,-.22 .62,-.62 .4,-1 .1,-.8"/><polygon class="s" points="-.15,0 .1,.8 .38,1 .6,.7 .78,.3 1.12,0 .75,0 .45,.1 .1,.05"/><polygon class="h" points=".1,-.8 .4,-1 .62,-.62 .55,-.05 .25,-.1"/></g>
<g transform="matrix(2.78 -10.86 4.35 1.11 425.6 30.2)"><polygon class="k" points="-.15,0 .1,.8 .38,1 .6,.7 .78,.3 1.12,0 .8,-.22 .62,-.62 .4,-1 .1,-.8"/><polygon class="s" points="-.15,0 .1,.8 .38,1 .6,.7 .78,.3 1.12,0 .75,0 .45,.1 .1,.05"/><polygon class="h" points=".1,-.8 .4,-1 .62,-.62 .55,-.05 .25,-.1"/></g>
<g transform="matrix(-4.97 -12.51 4.13 -1.64 422.5 28.8)"><polygon class="k" points="-.15,0 .1,.8 .38,1 .6,.7 .78,.3 1.12,0 .8,-.22 .62,-.62 .4,-1 .1,-.8"/><polygon class="s" points="-.15,0 .1,-.8 .4,-1 .62,-.62 .8,-.22 1.12,0 .75,0 .45,-.1 .1,-.05"/><polygon class="h" points=".1,.8 .38,1 .6,.7 .55,.05 .25,.1"/></g>
<g transform="matrix(6.92 -9.76 3.91 2.77 423.8 34.1)"><polygon class="k" points="-.15,0 .1,.8 .38,1 .6,.7 .78,.3 1.12,0 .8,-.22 .62,-.62 .4,-1 .1,-.8"/><polygon class="s" points="-.15,0 .1,.8 .38,1 .6,.7 .78,.3 1.12,0 .75,0 .45,.1 .1,.05"/><polygon class="h" points=".1,-.8 .4,-1 .62,-.62 .55,-.05 .25,-.1"/></g>
<g transform="matrix(13.61 -4.60 1.52 4.49 427.0 35.6)"><polygon class="k" points="-.15,0 .1,.8 .38,1 .6,.7 .78,.3 1.12,0 .8,-.22 .62,-.62 .4,-1 .1,-.8"/><polygon class="s" points="-.15,0 .1,.8 .38,1 .6,.7 .78,.3 1.12,0 .75,0 .45,.1 .1,.05"/><polygon class="h" points=".1,-.8 .4,-1 .62,-.62 .55,-.05 .25,-.1"/></g>
<g transform="matrix(3.49 -12.24 4.89 1.40 421.9 38.0)"><polygon class="k" points="-.15,0 .1,.8 .38,1 .6,.7 .78,.3 1.12,0 .8,-.22 .62,-.62 .4,-1 .1,-.8"/><polygon class="s" points="-.15,0 .1,.8 .38,1 .6,.7 .78,.3 1.12,0 .75,0 .45,.1 .1,.05"/><polygon class="h" points=".1,-.8 .4,-1 .62,-.62 .55,-.05 .25,-.1"/></g>
<g transform="matrix(-5.24 -14.34 4.73 -1.73 418.5 36.3)"><polygon class="k" points="-.15,0 .1,.8 .38,1 .6,.7 .78,.3 1.12,0 .8,-.22 .62,-.62 .4,-1 .1,-.8"/><polygon class="s" points="-.15,0 .1,-.8 .4,-1 .62,-.62 .8,-.22 1.12,0 .75,0 .45,-.1 .1,-.05"/><polygon class="h" points=".1,.8 .38,1 .6,.7 .55,.05 .25,.1"/></g>
<g transform="matrix(7.87 -10.94 4.38 3.15 420.0 41.8)"><polygon class="k" points="-.15,0 .1,.8 .38,1 .6,.7 .78,.3 1.12,0 .8,-.22 .62,-.62 .4,-1 .1,-.8"/><polygon class="s" points="-.15,0 .1,.8 .38,1 .6,.7 .78,.3 1.12,0 .75,0 .45,.1 .1,.05"/><polygon class="h" points=".1,-.8 .4,-1 .62,-.62 .55,-.05 .25,-.1"/></g>
<g transform="matrix(15.36 -5.07 1.67 5.07 423.7 43.6)"><polygon class="k" points="-.15,0 .1,.8 .38,1 .6,.7 .78,.3 1.12,0 .8,-.22 .62,-.62 .4,-1 .1,-.8"/><polygon class="s" points="-.15,0 .1,.8 .38,1 .6,.7 .78,.3 1.12,0 .75,0 .45,.1 .1,.05"/><polygon class="h" points=".1,-.8 .4,-1 .62,-.62 .55,-.05 .25,-.1"/></g>
<g transform="matrix(3.80 -13.72 5.49 1.52 418.2 45.7)"><polygon class="k" points="-.15,0 .1,.8 .38,1 .6,.7 .78,.3 1.12,0 .8,-.22 .62,-.62 .4,-1 .1,-.8"/><polygon class="s" points="-.15,0 .1,.8 .38,1 .6,.7 .78,.3 1.12,0 .75,0 .45,.1 .1,.05"/><polygon class="h" points=".1,-.8 .4,-1 .62,-.62 .55,-.05 .25,-.1"/></g>
<g transform="matrix(-5.99 -16.00 5.28 -1.98 414.3 43.9)"><polygon class="k" points="-.15,0 .1,.8 .38,1 .6,.7 .78,.3 1.12,0 .8,-.22 .62,-.62 .4,-1 .1,-.8"/><polygon class="s" points="-.15,0 .1,-.8 .4,-1 .62,-.62 .8,-.22 1.12,0 .75,0 .45,-.1 .1,-.05"/><polygon class="h" points=".1,.8 .38,1 .6,.7 .55,.05 .25,.1"/></g>
<g transform="matrix(8.44 -11.66 4.67 3.38 416.3 49.6)"><polygon class="k" points="-.15,0 .1,.8 .38,1 .6,.7 .78,.3 1.12,0 .8,-.22 .62,-.62 .4,-1 .1,-.8"/><polygon class="s" points="-.15,0 .1,.8 .38,1 .6,.7 .78,.3 1.12,0 .75,0 .45,.1 .1,.05"/><polygon class="h" points=".1,-.8 .4,-1 .62,-.62 .55,-.05 .25,-.1"/></g>
<g transform="matrix(16.43 -5.37 1.77 5.42 420.2 51.5)"><polygon class="k" points="-.15,0 .1,.8 .38,1 .6,.7 .78,.3 1.12,0 .8,-.22 .62,-.62 .4,-1 .1,-.8"/><polygon class="s" points="-.15,0 .1,.8 .38,1 .6,.7 .78,.3 1.12,0 .75,0 .45,.1 .1,.05"/><polygon class="h" points=".1,-.8 .4,-1 .62,-.62 .55,-.05 .25,-.1"/></g>
<g transform="matrix(3.94 -13.85 5.54 1.58 414.4 53.4)"><polygon class="k" points="-.15,0 .1,.8 .38,1 .6,.7 .78,.3 1.12,0 .8,-.22 .62,-.62 .4,-1 .1,-.8"/><polygon class="s" points="-.15,0 .1,.8 .38,1 .6,.7 .78,.3 1.12,0 .75,0 .45,.1 .1,.05"/><polygon class="h" points=".1,-.8 .4,-1 .62,-.62 .55,-.05 .25,-.1"/></g>
<g transform="matrix(-5.95 -16.22 5.35 -1.96 410.5 51.5)"><polygon class="k" points="-.15,0 .1,.8 .38,1 .6,.7 .78,.3 1.12,0 .8,-.22 .62,-.62 .4,-1 .1,-.8"/><polygon class="s" points="-.15,0 .1,-.8 .4,-1 .62,-.62 .8,-.22 1.12,0 .75,0 .45,-.1 .1,-.05"/><polygon class="h" points=".1,.8 .38,1 .6,.7 .55,.05 .25,.1"/></g>
<g transform="matrix(8.34 -11.74 4.69 3.34 412.6 57.3)"><polygon class="k" points="-.15,0 .1,.8 .38,1 .6,.7 .78,.3 1.12,0 .8,-.22 .62,-.62 .4,-1 .1,-.8"/><polygon class="s" points="-.15,0 .1,.8 .38,1 .6,.7 .78,.3 1.12,0 .75,0 .45,.1 .1,.05"/><polygon class="h" points=".1,-.8 .4,-1 .62,-.62 .55,-.05 .25,-.1"/></g>
<g transform="matrix(16.38 -5.51 1.82 5.40 416.5 59.1)"><polygon class="k" points="-.15,0 .1,.8 .38,1 .6,.7 .78,.3 1.12,0 .8,-.22 .62,-.62 .4,-1 .1,-.8"/><polygon class="s" points="-.15,0 .1,.8 .38,1 .6,.7 .78,.3 1.12,0 .75,0 .45,.1 .1,.05"/><polygon class="h" points=".1,-.8 .4,-1 .62,-.62 .55,-.05 .25,-.1"/></g>
<g transform="matrix(3.61 -13.94 5.58 1.45 410.8 61.2)"><polygon class="k" points="-.15,0 .1,.8 .38,1 .6,.7 .78,.3 1.12,0 .8,-.22 .62,-.62 .4,-1 .1,-.8"/><polygon class="s" points="-.15,0 .1,.8 .38,1 .6,.7 .78,.3 1.12,0 .75,0 .45,.1 .1,.05"/><polygon class="h" points=".1,-.8 .4,-1 .62,-.62 .55,-.05 .25,-.1"/></g>
<g transform="matrix(-6.32 -16.08 5.31 -2.09 406.8 59.4)"><polygon class="k" points="-.15,0 .1,.8 .38,1 .6,.7 .78,.3 1.12,0 .8,-.22 .62,-.62 .4,-1 .1,-.8"/><polygon class="s" points="-.15,0 .1,-.8 .4,-1 .62,-.62 .8,-.22 1.12,0 .75,0 .45,-.1 .1,-.05"/><polygon class="h" points=".1,.8 .38,1 .6,.7 .55,.05 .25,.1"/></g>
<g transform="matrix(7.94 -12.01 4.80 3.18 409.0 65.1)"><polygon class="k" points="-.15,0 .1,.8 .38,1 .6,.7 .78,.3 1.12,0 .8,-.22 .62,-.62 .4,-1 .1,-.8"/><polygon class="s" points="-.15,0 .1,.8 .38,1 .6,.7 .78,.3 1.12,0 .75,0 .45,.1 .1,.05"/><polygon class="h" points=".1,-.8 .4,-1 .62,-.62 .55,-.05 .25,-.1"/></g>
<g transform="matrix(16.18 -6.06 2.00 5.34 413.0 66.8)"><polygon class="k" points="-.15,0 .1,.8 .38,1 .6,.7 .78,.3 1.12,0 .8,-.22 .62,-.62 .4,-1 .1,-.8"/><polygon class="s" points="-.15,0 .1,.8 .38,1 .6,.7 .78,.3 1.12,0 .75,0 .45,.1 .1,.05"/><polygon class="h" points=".1,-.8 .4,-1 .62,-.62 .55,-.05 .25,-.1"/></g>
<g transform="matrix(3.21 -14.04 5.62 1.28 407.3 69.1)"><polygon class="k" points="-.15,0 .1,.8 .38,1 .6,.7 .78,.3 1.12,0 .8,-.22 .62,-.62 .4,-1 .1,-.8"/><polygon class="s" points="-.15,0 .1,.8 .38,1 .6,.7 .78,.3 1.12,0 .75,0 .45,.1 .1,.05"/><polygon class="h" points=".1,-.8 .4,-1 .62,-.62 .55,-.05 .25,-.1"/></g>
<g transform="matrix(-6.79 -15.89 5.24 -2.24 403.3 67.4)"><polygon class="k" points="-.15,0 .1,.8 .38,1 .6,.7 .78,.3 1.12,0 .8,-.22 .62,-.62 .4,-1 .1,-.8"/><polygon class="s" points="-.15,0 .1,-.8 .4,-1 .62,-.62 .8,-.22 1.12,0 .75,0 .45,-.1 .1,-.05"/><polygon class="h" points=".1,.8 .38,1 .6,.7 .55,.05 .25,.1"/></g>
<g transform="matrix(7.68 -12.18 4.87 3.07 405.7 73.0)"><polygon class="k" points="-.15,0 .1,.8 .38,1 .6,.7 .78,.3 1.12,0 .8,-.22 .62,-.62 .4,-1 .1,-.8"/><polygon class="s" points="-.15,0 .1,.8 .38,1 .6,.7 .78,.3 1.12,0 .75,0 .45,.1 .1,.05"/><polygon class="h" points=".1,-.8 .4,-1 .62,-.62 .55,-.05 .25,-.1"/></g>
<g transform="matrix(16.05 -6.40 2.11 5.30 409.7 74.7)"><polygon class="k" points="-.15,0 .1,.8 .38,1 .6,.7 .78,.3 1.12,0 .8,-.22 .62,-.62 .4,-1 .1,-.8"/><polygon class="s" points="-.15,0 .1,.8 .38,1 .6,.7 .78,.3 1.12,0 .75,0 .45,.1 .1,.05"/><polygon class="h" points=".1,-.8 .4,-1 .62,-.62 .55,-.05 .25,-.1"/></g>
<g transform="matrix(2.89 -14.11 5.64 1.16 404.1 77.0)"><polygon class="k" points="-.15,0 .1,.8 .38,1 .6,.7 .78,.3 1.12,0 .8,-.22 .62,-.62 .4,-1 .1,-.8"/><polygon class="s" points="-.15,0 .1,.8 .38,1 .6,.7 .78,.3 1.12,0 .75,0 .45,.1 .1,.05"/><polygon class="h" points=".1,-.8 .4,-1 .62,-.62 .55,-.05 .25,-.1"/></g>
<g transform="matrix(-7.14 -15.74 5.19 -2.36 400.1 75.4)"><polygon class="k" points="-.15,0 .1,.8 .38,1 .6,.7 .78,.3 1.12,0 .8,-.22 .62,-.62 .4,-1 .1,-.8"/><polygon class="s" points="-.15,0 .1,-.8 .4,-1 .62,-.62 .8,-.22 1.12,0 .75,0 .45,-.1 .1,-.05"/><polygon class="h" points=".1,.8 .38,1 .6,.7 .55,.05 .25,.1"/></g>
<g transform="matrix(7.39 -12.36 4.94 2.95 402.5 81.0)"><polygon class="k" points="-.15,0 .1,.8 .38,1 .6,.7 .78,.3 1.12,0 .8,-.22 .62,-.62 .4,-1 .1,-.8"/><polygon class="s" points="-.15,0 .1,.8 .38,1 .6,.7 .78,.3 1.12,0 .75,0 .45,.1 .1,.05"/><polygon class="h" points=".1,-.8 .4,-1 .62,-.62 .55,-.05 .25,-.1"/></g>
<g transform="matrix(15.89 -6.79 2.24 5.24 406.5 82.5)"><polygon class="k" points="-.15,0 .1,.8 .38,1 .6,.7 .78,.3 1.12,0 .8,-.22 .62,-.62 .4,-1 .1,-.8"/><polygon class="s" points="-.15,0 .1,.8 .38,1 .6,.7 .78,.3 1.12,0 .75,0 .45,.1 .1,.05"/><polygon class="h" points=".1,-.8 .4,-1 .62,-.62 .55,-.05 .25,-.1"/></g>
<g transform="matrix(2.52 -14.18 5.67 1.01 401.0 85.0)"><polygon class="k" points="-.15,0 .1,.8 .38,1 .6,.7 .78,.3 1.12,0 .8,-.22 .62,-.62 .4,-1 .1,-.8"/><polygon class="s" points="-.15,0 .1,.8 .38,1 .6,.7 .78,.3 1.12,0 .75,0 .45,.1 .1,.05"/><polygon class="h" points=".1,-.8 .4,-1 .62,-.62 .55,-.05 .25,-.1"/></g>
<g transform="matrix(-7.56 -15.54 5.13 -2.49 396.9 83.5)"><polygon class="k" points="-.15,0 .1,.8 .38,1 .6,.7 .78,.3 1.12,0 .8,-.22 .62,-.62 .4,-1 .1,-.8"/><polygon class="s" points="-.15,0 .1,-.8 .4,-1 .62,-.62 .8,-.22 1.12,0 .75,0 .45,-.1 .1,-.05"/><polygon class="h" points=".1,.8 .38,1 .6,.7 .55,.05 .25,.1"/></g>
<g transform="matrix(7.13 -12.51 5.00 2.85 399.5 89.1)"><polygon class="k" points="-.15,0 .1,.8 .38,1 .6,.7 .78,.3 1.12,0 .8,-.22 .62,-.62 .4,-1 .1,-.8"/><polygon class="s" points="-.15,0 .1,.8 .38,1 .6,.7 .78,.3 1.12,0 .75,0 .45,.1 .1,.05"/><polygon class="h" points=".1,-.8 .4,-1 .62,-.62 .55,-.05 .25,-.1"/></g>
<g transform="matrix(15.75 -7.11 2.35 5.20 403.6 90.5)"><polygon class="k" points="-.15,0 .1,.8 .38,1 .6,.7 .78,.3 1.12,0 .8,-.22 .62,-.62 .4,-1 .1,-.8"/><polygon class="s" points="-.15,0 .1,.8 .38,1 .6,.7 .78,.3 1.12,0 .75,0 .45,.1 .1,.05"/><polygon class="h" points=".1,-.8 .4,-1 .62,-.62 .55,-.05 .25,-.1"/></g>
<g transform="matrix(2.24 -14.23 5.69 0.89 398.1 93.1)"><polygon class="k" points="-.15,0 .1,.8 .38,1 .6,.7 .78,.3 1.12,0 .8,-.22 .62,-.62 .4,-1 .1,-.8"/><polygon class="s" points="-.15,0 .1,.8 .38,1 .6,.7 .78,.3 1.12,0 .75,0 .45,.1 .1,.05"/><polygon class="h" points=".1,-.8 .4,-1 .62,-.62 .55,-.05 .25,-.1"/></g>
<g transform="matrix(-7.86 -15.39 5.08 -2.59 394.0 91.7)"><polygon class="k" points="-.15,0 .1,.8 .38,1 .6,.7 .78,.3 1.12,0 .8,-.22 .62,-.62 .4,-1 .1,-.8"/><polygon class="s" points="-.15,0 .1,-.8 .4,-1 .62,-.62 .8,-.22 1.12,0 .75,0 .45,-.1 .1,-.05"/><polygon class="h" points=".1,.8 .38,1 .6,.7 .55,.05 .25,.1"/></g>
<g transform="matrix(6.81 -12.69 5.08 2.72 396.8 97.2)"><polygon class="k" points="-.15,0 .1,.8 .38,1 .6,.7 .78,.3 1.12,0 .8,-.22 .62,-.62 .4,-1 .1,-.8"/><polygon class="s" points="-.15,0 .1,.8 .38,1 .6,.7 .78,.3 1.12,0 .75,0 .45,.1 .1,.05"/><polygon class="h" points=".1,-.8 .4,-1 .62,-.62 .55,-.05 .25,-.1"/></g>
<g transform="matrix(15.56 -7.52 2.48 5.13 400.9 98.5)"><polygon class="k" points="-.15,0 .1,.8 .38,1 .6,.7 .78,.3 1.12,0 .8,-.22 .62,-.62 .4,-1 .1,-.8"/><polygon class="s" points="-.15,0 .1,.8 .38,1 .6,.7 .78,.3 1.12,0 .75,0 .45,.1 .1,.05"/><polygon class="h" points=".1,-.8 .4,-1 .62,-.62 .55,-.05 .25,-.1"/></g>
<g transform="matrix(1.90 -14.27 5.71 0.76 395.5 101.3)"><polygon class="k" points="-.15,0 .1,.8 .38,1 .6,.7 .78,.3 1.12,0 .8,-.22 .62,-.62 .4,-1 .1,-.8"/><polygon class="s" points="-.15,0 .1,.8 .38,1 .6,.7 .78,.3 1.12,0 .75,0 .45,.1 .1,.05"/><polygon class="h" points=".1,-.8 .4,-1 .62,-.62 .55,-.05 .25,-.1"/></g>
<g transform="matrix(-8.23 -15.20 5.01 -2.72 391.3 100.0)"><polygon class="k" points="-.15,0 .1,.8 .38,1 .6,.7 .78,.3 1.12,0 .8,-.22 .62,-.62 .4,-1 .1,-.8"/><polygon class="s" points="-.15,0 .1,-.8 .4,-1 .62,-.62 .8,-.22 1.12,0 .75,0 .45,-.1 .1,-.05"/><polygon class="h" points=".1,.8 .38,1 .6,.7 .55,.05 .25,.1"/></g>
<g transform="matrix(6.55 -12.83 5.13 2.62 394.2 105.4)"><polygon class="k" points="-.15,0 .1,.8 .38,1 .6,.7 .78,.3 1.12,0 .8,-.22 .62,-.62 .4,-1 .1,-.8"/><polygon class="s" points="-.15,0 .1,.8 .38,1 .6,.7 .78,.3 1.12,0 .75,0 .45,.1 .1,.05"/><polygon class="h" points=".1,-.8 .4,-1 .62,-.62 .55,-.05 .25,-.1"/></g>
<g transform="matrix(15.40 -7.83 2.59 5.08 398.3 106.6)"><polygon class="k" points="-.15,0 .1,.8 .38,1 .6,.7 .78,.3 1.12,0 .8,-.22 .62,-.62 .4,-1 .1,-.8"/><polygon class="s" points="-.15,0 .1,.8 .38,1 .6,.7 .78,.3 1.12,0 .75,0 .45,.1 .1,.05"/><polygon class="h" points=".1,-.8 .4,-1 .62,-.62 .55,-.05 .25,-.1"/></g>
<g transform="matrix(1.55 -14.32 5.73 0.62 393.0 109.5)"><polygon class="k" points="-.15,0 .1,.8 .38,1 .6,.7 .78,.3 1.12,0 .8,-.22 .62,-.62 .4,-1 .1,-.8"/><polygon class="s" points="-.15,0 .1,.8 .38,1 .6,.7 .78,.3 1.12,0 .75,0 .45,.1 .1,.05"/><polygon class="h" points=".1,-.8 .4,-1 .62,-.62 .55,-.05 .25,-.1"/></g>
<g transform="matrix(-8.60 -14.99 4.95 -2.84 388.8 108.3)"><polygon class="k" points="-.15,0 .1,.8 .38,1 .6,.7 .78,.3 1.12,0 .8,-.22 .62,-.62 .4,-1 .1,-.8"/><polygon class="s" points="-.15,0 .1,-.8 .4,-1 .62,-.62 .8,-.22 1.12,0 .75,0 .45,-.1 .1,-.05"/><polygon class="h" points=".1,.8 .38,1 .6,.7 .55,.05 .25,.1"/></g>
<g transform="matrix(6.28 -12.96 5.18 2.51 391.8 113.6)"><polygon class="k" points="-.15,0 .1,.8 .38,1 .6,.7 .78,.3 1.12,0 .8,-.22 .62,-.62 .4,-1 .1,-.8"/><polygon class="s" points="-.15,0 .1,.8 .38,1 .6,.7 .78,.3 1.12,0 .75,0 .45,.1 .1,.05"/><polygon class="h" points=".1,-.8 .4,-1 .62,-.62 .55,-.05 .25,-.1"/></g>
<g transform="matrix(15.23 -8.15 2.69 5.03 395.9 114.8)"><polygon class="k" points="-.15,0 .1,.8 .38,1 .6,.7 .78,.3 1.12,0 .8,-.22 .62,-.62 .4,-1 .1,-.8"/><polygon class="s" points="-.15,0 .1,.8 .38,1 .6,.7 .78,.3 1.12,0 .75,0 .45,.1 .1,.05"/><polygon class="h" points=".1,-.8 .4,-1 .62,-.62 .55,-.05 .25,-.1"/></g>
<g transform="matrix(1.37 -14.33 5.73 0.55 390.6 117.8)"><polygon class="k" points="-.15,0 .1,.8 .38,1 .6,.7 .78,.3 1.12,0 .8,-.22 .62,-.62 .4,-1 .1,-.8"/><polygon class="s" points="-.15,0 .1,.8 .38,1 .6,.7 .78,.3 1.12,0 .75,0 .45,.1 .1,.05"/><polygon class="h" points=".1,-.8 .4,-1 .62,-.62 .55,-.05 .25,-.1"/></g>
<g transform="matrix(-8.78 -14.88 4.91 -2.90 386.5 116.6)"><polygon class="k" points="-.15,0 .1,.8 .38,1 .6,.7 .78,.3 1.12,0 .8,-.22 .62,-.62 .4,-1 .1,-.8"/><polygon class="s" points="-.15,0 .1,-.8 .4,-1 .62,-.62 .8,-.22 1.12,0 .75,0 .45,-.1 .1,-.05"/><polygon class="h" points=".1,.8 .38,1 .6,.7 .55,.05 .25,.1"/></g>
<g transform="matrix(6.16 -13.02 5.21 2.46 389.5 121.9)"><polygon class="k" points="-.15,0 .1,.8 .38,1 .6,.7 .78,.3 1.12,0 .8,-.22 .62,-.62 .4,-1 .1,-.8"/><polygon class="s" points="-.15,0 .1,.8 .38,1 .6,.7 .78,.3 1.12,0 .75,0 .45,.1 .1,.05"/><polygon class="h" points=".1,-.8 .4,-1 .62,-.62 .55,-.05 .25,-.1"/></g>
<g transform="matrix(15.16 -8.29 2.74 5.00 393.7 123.0)"><polygon class="k" points="-.15,0 .1,.8 .38,1 .6,.7 .78,.3 1.12,0 .8,-.22 .62,-.62 .4,-1 .1,-.8"/><polygon class="s" points="-.15,0 .1,.8 .38,1 .6,.7 .78,.3 1.12,0 .75,0 .45,.1 .1,.05"/><polygon class="h" points=".1,-.8 .4,-1 .62,-.62 .55,-.05 .25,-.1"/></g>
<g transform="matrix(1.32 -14.34 5.74 0.53 388.4 126.0)"><polygon class="k" points="-.15,0 .1,.8 .38,1 .6,.7 .78,.3 1.12,0 .8,-.22 .62,-.62 .4,-1 .1,-.8"/><polygon class="s" points="-.15,0 .1,.8 .38,1 .6,.7 .78,.3 1.12,0 .75,0 .45,.1 .1,.05"/><polygon class="h" points=".1,-.8 .4,-1 .62,-.62 .55,-.05 .25,-.1"/></g>
<g transform="matrix(-8.84 -14.85 4.90 -2.92 384.2 124.9)"><polygon class="k" points="-.15,0 .1,.8 .38,1 .6,.7 .78,.3 1.12,0 .8,-.22 .62,-.62 .4,-1 .1,-.8"/><polygon class="s" points="-.15,0 .1,-.8 .4,-1 .62,-.62 .8,-.22 1.12,0 .75,0 .45,-.1 .1,-.05"/><polygon class="h" points=".1,.8 .38,1 .6,.7 .55,.05 .25,.1"/></g>
<g transform="matrix(6.19 -13.00 5.20 2.48 387.2 130.2)"><polygon class="k" points="-.15,0 .1,.8 .38,1 .6,.7 .78,.3 1.12,0 .8,-.22 .62,-.62 .4,-1 .1,-.8"/><polygon class="s" points="-.15,0 .1,.8 .38,1 .6,.7 .78,.3 1.12,0 .75,0 .45,.1 .1,.05"/><polygon class="h" points=".1,-.8 .4,-1 .62,-.62 .55,-.05 .25,-.1"/></g>
<g transform="matrix(15.18 -8.25 2.72 5.01 391.4 131.3)"><polygon class="k" points="-.15,0 .1,.8 .38,1 .6,.7 .78,.3 1.12,0 .8,-.22 .62,-.62 .4,-1 .1,-.8"/><polygon class="s" points="-.15,0 .1,.8 .38,1 .6,.7 .78,.3 1.12,0 .75,0 .45,.1 .1,.05"/><polygon class="h" points=".1,-.8 .4,-1 .62,-.62 .55,-.05 .25,-.1"/></g>
<polygon points="241.1,121.9 236.7,135.3 238,148.2 239.9,160.2 241.7,172.2 242.9,184.2 243.5,196.2 243.5,208.4 243,220.5 242.1,232.9 241,245.1 259,246.9 260.1,234.2 261,221.6 261.5,208.7 261.5,195.8 260.9,182.8 259.5,169.9 257.6,157.2 254.6,144.6 251,132.9 242.8,121.6" fill="#7E8654"/>
<g transform="matrix(-2.99 -9.08 3.63 -1.19 242.0 122.1)"><polygon class="k" points="-.15,0 .1,.8 .38,1 .6,.7 .78,.3 1.12,0 .8,-.22 .62,-.62 .4,-1 .1,-.8"/><polygon class="s" points="-.15,0 .1,-.8 .4,-1 .62,-.62 .8,-.22 1.12,0 .75,0 .45,-.1 .1,-.05"/><polygon class="h" points=".1,.8 .38,1 .6,.7 .55,.05 .25,.1"/></g>
<g transform="matrix(-9.30 -6.71 2.21 -3.07 239.2 122.5)"><polygon class="k" points="-.15,0 .1,.8 .38,1 .6,.7 .78,.3 1.12,0 .8,-.22 .62,-.62 .4,-1 .1,-.8"/><polygon class="s" points="-.15,0 .1,-.8 .4,-1 .62,-.62 .8,-.22 1.12,0 .75,0 .45,-.1 .1,-.05"/><polygon class="h" points=".1,.8 .38,1 .6,.7 .55,.05 .25,.1"/></g>
<g transform="matrix(0.24 -10.26 4.10 0.10 242.6 126.3)"><polygon class="k" points="-.15,0 .1,.8 .38,1 .6,.7 .78,.3 1.12,0 .8,-.22 .62,-.62 .4,-1 .1,-.8"/><polygon class="s" points="-.15,0 .1,.8 .38,1 .6,.7 .78,.3 1.12,0 .75,0 .45,.1 .1,.05"/><polygon class="h" points=".1,-.8 .4,-1 .62,-.62 .55,-.05 .25,-.1"/></g>
<g transform="matrix(7.47 -9.79 3.23 2.47 245.7 125.8)"><polygon class="k" points="-.15,0 .1,.8 .38,1 .6,.7 .78,.3 1.12,0 .8,-.22 .62,-.62 .4,-1 .1,-.8"/><polygon class="s" points="-.15,0 .1,.8 .38,1 .6,.7 .78,.3 1.12,0 .75,0 .45,.1 .1,.05"/><polygon class="h" points=".1,-.8 .4,-1 .62,-.62 .55,-.05 .25,-.1"/></g>
<g transform="matrix(-3.57 -10.37 4.15 -1.43 243.3 130.5)"><polygon class="k" points="-.15,0 .1,.8 .38,1 .6,.7 .78,.3 1.12,0 .8,-.22 .62,-.62 .4,-1 .1,-.8"/><polygon class="s" points="-.15,0 .1,-.8 .4,-1 .62,-.62 .8,-.22 1.12,0 .75,0 .45,-.1 .1,-.05"/><polygon class="h" points=".1,.8 .38,1 .6,.7 .55,.05 .25,.1"/></g>
<g transform="matrix(-10.79 -7.55 2.49 -3.56 240.0 131.1)"><polygon class="k" points="-.15,0 .1,.8 .38,1 .6,.7 .78,.3 1.12,0 .8,-.22 .62,-.62 .4,-1 .1,-.8"/><polygon class="s" points="-.15,0 .1,-.8 .4,-1 .62,-.62 .8,-.22 1.12,0 .75,0 .45,-.1 .1,-.05"/><polygon class="h" points=".1,.8 .38,1 .6,.7 .55,.05 .25,.1"/></g>
<g transform="matrix(0.10 -11.68 4.67 0.04 244.0 134.8)"><polygon class="k" points="-.15,0 .1,.8 .38,1 .6,.7 .78,.3 1.12,0 .8,-.22 .62,-.62 .4,-1 .1,-.8"/><polygon class="s" points="-.15,0 .1,.8 .38,1 .6,.7 .78,.3 1.12,0 .75,0 .45,.1 .1,.05"/><polygon class="h" points=".1,-.8 .4,-1 .62,-.62 .55,-.05 .25,-.1"/></g>
<g transform="matrix(8.34 -11.27 3.72 2.75 247.4 134.2)"><polygon class="k" points="-.15,0 .1,.8 .38,1 .6,.7 .78,.3 1.12,0 .8,-.22 .62,-.62 .4,-1 .1,-.8"/><polygon class="s" points="-.15,0 .1,.8 .38,1 .6,.7 .78,.3 1.12,0 .75,0 .45,.1 .1,.05"/><polygon class="h" points=".1,-.8 .4,-1 .62,-.62 .55,-.05 .25,-.1"/></g>
<g transform="matrix(-4.46 -11.56 4.62 -1.78 244.7 139.0)"><polygon class="k" points="-.15,0 .1,.8 .38,1 .6,.7 .78,.3 1.12,0 .8,-.22 .62,-.62 .4,-1 .1,-.8"/><polygon class="s" points="-.15,0 .1,-.8 .4,-1 .62,-.62 .8,-.22 1.12,0 .75,0 .45,-.1 .1,-.05"/><polygon class="h" points=".1,.8 .38,1 .6,.7 .55,.05 .25,.1"/></g>
<g transform="matrix(-12.48 -8.08 2.67 -4.12 241.1 139.7)"><polygon class="k" points="-.15,0 .1,.8 .38,1 .6,.7 .78,.3 1.12,0 .8,-.22 .62,-.62 .4,-1 .1,-.8"/><polygon class="s" points="-.15,0 .1,-.8 .4,-1 .62,-.62 .8,-.22 1.12,0 .75,0 .45,-.1 .1,-.05"/><polygon class="h" points=".1,.8 .38,1 .6,.7 .55,.05 .25,.1"/></g>
<g transform="matrix(-0.48 -13.09 5.24 -0.19 245.6 143.2)"><polygon class="k" points="-.15,0 .1,.8 .38,1 .6,.7 .78,.3 1.12,0 .8,-.22 .62,-.62 .4,-1 .1,-.8"/><polygon class="s" points="-.15,0 .1,-.8 .4,-1 .62,-.62 .8,-.22 1.12,0 .75,0 .45,-.1 .1,-.05"/><polygon class="h" points=".1,.8 .38,1 .6,.7 .55,.05 .25,.1"/></g>
<g transform="matrix(8.77 -13.04 4.30 2.89 249.4 142.3)"><polygon class="k" points="-.15,0 .1,.8 .38,1 .6,.7 .78,.3 1.12,0 .8,-.22 .62,-.62 .4,-1 .1,-.8"/><polygon class="s" points="-.15,0 .1,.8 .38,1 .6,.7 .78,.3 1.12,0 .75,0 .45,.1 .1,.05"/><polygon class="h" points=".1,-.8 .4,-1 .62,-.62 .55,-.05 .25,-.1"/></g>
<g transform="matrix(-5.23 -12.78 5.11 -2.09 246.5 147.3)"><polygon class="k" points="-.15,0 .1,.8 .38,1 .6,.7 .78,.3 1.12,0 .8,-.22 .62,-.62 .4,-1 .1,-.8"/><polygon class="s" points="-.15,0 .1,-.8 .4,-1 .62,-.62 .8,-.22 1.12,0 .75,0 .45,-.1 .1,-.05"/><polygon class="h" points=".1,.8 .38,1 .6,.7 .55,.05 .25,.1"/></g>
<g transform="matrix(-14.09 -8.72 2.88 -4.65 242.5 148.2)"><polygon class="k" points="-.15,0 .1,.8 .38,1 .6,.7 .78,.3 1.12,0 .8,-.22 .62,-.62 .4,-1 .1,-.8"/><polygon class="s" points="-.15,0 .1,-.8 .4,-1 .62,-.62 .8,-.22 1.12,0 .75,0 .45,-.1 .1,-.05"/><polygon class="h" points=".1,.8 .38,1 .6,.7 .55,.05 .25,.1"/></g>
<g transform="matrix(-0.48 -14.39 5.76 -0.19 247.4 151.5)"><polygon class="k" points="-.15,0 .1,.8 .38,1 .6,.7 .78,.3 1.12,0 .8,-.22 .62,-.62 .4,-1 .1,-.8"/><polygon class="s" points="-.15,0 .1,-.8 .4,-1 .62,-.62 .8,-.22 1.12,0 .75,0 .45,-.1 .1,-.05"/><polygon class="h" points=".1,.8 .38,1 .6,.7 .55,.05 .25,.1"/></g>
<g transform="matrix(9.69 -14.31 4.72 3.20 251.6 150.6)"><polygon class="k" points="-.15,0 .1,.8 .38,1 .6,.7 .78,.3 1.12,0 .8,-.22 .62,-.62 .4,-1 .1,-.8"/><polygon class="s" points="-.15,0 .1,.8 .38,1 .6,.7 .78,.3 1.12,0 .75,0 .45,.1 .1,.05"/><polygon class="h" points=".1,-.8 .4,-1 .62,-.62 .55,-.05 .25,-.1"/></g>
<g transform="matrix(-5.07 -13.48 5.39 -2.03 248.2 155.7)"><polygon class="k" points="-.15,0 .1,.8 .38,1 .6,.7 .78,.3 1.12,0 .8,-.22 .62,-.62 .4,-1 .1,-.8"/><polygon class="s" points="-.15,0 .1,-.8 .4,-1 .62,-.62 .8,-.22 1.12,0 .75,0 .45,-.1 .1,-.05"/><polygon class="h" points=".1,.8 .38,1 .6,.7 .55,.05 .25,.1"/></g>
<g transform="matrix(-14.43 -9.51 3.14 -4.76 244.0 156.5)"><polygon class="k" points="-.15,0 .1,.8 .38,1 .6,.7 .78,.3 1.12,0 .8,-.22 .62,-.62 .4,-1 .1,-.8"/><polygon class="s" points="-.15,0 .1,-.8 .4,-1 .62,-.62 .8,-.22 1.12,0 .75,0 .45,-.1 .1,-.05"/><polygon class="h" points=".1,.8 .38,1 .6,.7 .55,.05 .25,.1"/></g>
<g transform="matrix(0.09 -14.40 5.76 0.04 249.0 159.9)"><polygon class="k" points="-.15,0 .1,.8 .38,1 .6,.7 .78,.3 1.12,0 .8,-.22 .62,-.62 .4,-1 .1,-.8"/><polygon class="s" points="-.15,0 .1,.8 .38,1 .6,.7 .78,.3 1.12,0 .75,0 .45,.1 .1,.05"/><polygon class="h" points=".1,-.8 .4,-1 .62,-.62 .55,-.05 .25,-.1"/></g>
<g transform="matrix(10.24 -13.92 4.59 3.38 253.2 159.2)"><polygon class="k" points="-.15,0 .1,.8 .38,1 .6,.7 .78,.3 1.12,0 .8,-.22 .62,-.62 .4,-1 .1,-.8"/><polygon class="s" points="-.15,0 .1,.8 .38,1 .6,.7 .78,.3 1.12,0 .75,0 .45,.1 .1,.05"/><polygon class="h" points=".1,-.8 .4,-1 .62,-.62 .55,-.05 .25,-.1"/></g>
<g transform="matrix(-4.58 -13.65 5.46 -1.83 249.6 164.1)"><polygon class="k" points="-.15,0 .1,.8 .38,1 .6,.7 .78,.3 1.12,0 .8,-.22 .62,-.62 .4,-1 .1,-.8"/><polygon class="s" points="-.15,0 .1,-.8 .4,-1 .62,-.62 .8,-.22 1.12,0 .75,0 .45,-.1 .1,-.05"/><polygon class="h" points=".1,.8 .38,1 .6,.7 .55,.05 .25,.1"/></g>
<g transform="matrix(-14.08 -10.02 3.31 -4.65 245.4 164.8)"><polygon class="k" points="-.15,0 .1,.8 .38,1 .6,.7 .78,.3 1.12,0 .8,-.22 .62,-.62 .4,-1 .1,-.8"/><polygon class="s" points="-.15,0 .1,-.8 .4,-1 .62,-.62 .8,-.22 1.12,0 .75,0 .45,-.1 .1,-.05"/><polygon class="h" points=".1,.8 .38,1 .6,.7 .55,.05 .25,.1"/></g>
<g transform="matrix(0.58 -14.39 5.76 0.23 250.2 168.4)"><polygon class="k" points="-.15,0 .1,.8 .38,1 .6,.7 .78,.3 1.12,0 .8,-.22 .62,-.62 .4,-1 .1,-.8"/><polygon class="s" points="-.15,0 .1,.8 .38,1 .6,.7 .78,.3 1.12,0 .75,0 .45,.1 .1,.05"/><polygon class="h" points=".1,-.8 .4,-1 .62,-.62 .55,-.05 .25,-.1"/></g>
<g transform="matrix(10.71 -13.56 4.48 3.53 254.5 167.8)"><polygon class="k" points="-.15,0 .1,.8 .38,1 .6,.7 .78,.3 1.12,0 .8,-.22 .62,-.62 .4,-1 .1,-.8"/><polygon class="s" points="-.15,0 .1,.8 .38,1 .6,.7 .78,.3 1.12,0 .75,0 .45,.1 .1,.05"/><polygon class="h" points=".1,-.8 .4,-1 .62,-.62 .55,-.05 .25,-.1"/></g>
<g transform="matrix(-4.14 -13.79 5.52 -1.66 250.8 172.6)"><polygon class="k" points="-.15,0 .1,.8 .38,1 .6,.7 .78,.3 1.12,0 .8,-.22 .62,-.62 .4,-1 .1,-.8"/><polygon class="s" points="-.15,0 .1,-.8 .4,-1 .62,-.62 .8,-.22 1.12,0 .75,0 .45,-.1 .1,-.05"/><polygon class="h" points=".1,.8 .38,1 .6,.7 .55,.05 .25,.1"/></g>
<g transform="matrix(-13.75 -10.47 3.45 -4.54 246.5 173.1)"><polygon class="k" points="-.15,0 .1,.8 .38,1 .6,.7 .78,.3 1.12,0 .8,-.22 .62,-.62 .4,-1 .1,-.8"/><polygon class="s" points="-.15,0 .1,-.8 .4,-1 .62,-.62 .8,-.22 1.12,0 .75,0 .45,-.1 .1,-.05"/><polygon class="h" points=".1,.8 .38,1 .6,.7 .55,.05 .25,.1"/></g>
<g transform="matrix(0.96 -14.37 5.75 0.38 251.3 176.9)"><polygon class="k" points="-.15,0 .1,.8 .38,1 .6,.7 .78,.3 1.12,0 .8,-.22 .62,-.62 .4,-1 .1,-.8"/><polygon class="s" points="-.15,0 .1,.8 .38,1 .6,.7 .78,.3 1.12,0 .75,0 .45,.1 .1,.05"/><polygon class="h" points=".1,-.8 .4,-1 .62,-.62 .55,-.05 .25,-.1"/></g>
<g transform="matrix(11.07 -13.27 4.38 3.65 255.6 176.4)"><polygon class="k" points="-.15,0 .1,.8 .38,1 .6,.7 .78,.3 1.12,0 .8,-.22 .62,-.62 .4,-1 .1,-.8"/><polygon class="s" points="-.15,0 .1,.8 .38,1 .6,.7 .78,.3 1.12,0 .75,0 .45,.1 .1,.05"/><polygon class="h" points=".1,-.8 .4,-1 .62,-.62 .55,-.05 .25,-.1"/></g>
<g transform="matrix(-3.72 -13.91 5.56 -1.49 251.7 181.1)"><polygon class="k" points="-.15,0 .1,.8 .38,1 .6,.7 .78,.3 1.12,0 .8,-.22 .62,-.62 .4,-1 .1,-.8"/><polygon class="s" points="-.15,0 .1,-.8 .4,-1 .62,-.62 .8,-.22 1.12,0 .75,0 .45,-.1 .1,-.05"/><polygon class="h" points=".1,.8 .38,1 .6,.7 .55,.05 .25,.1"/></g>
<g transform="matrix(-13.43 -10.88 3.59 -4.43 247.4 181.5)"><polygon class="k" points="-.15,0 .1,.8 .38,1 .6,.7 .78,.3 1.12,0 .8,-.22 .62,-.62 .4,-1 .1,-.8"/><polygon class="s" points="-.15,0 .1,-.8 .4,-1 .62,-.62 .8,-.22 1.12,0 .75,0 .45,-.1 .1,-.05"/><polygon class="h" points=".1,.8 .38,1 .6,.7 .55,.05 .25,.1"/></g>
<g transform="matrix(1.59 -14.31 5.72 0.64 252.0 185.4)"><polygon class="k" points="-.15,0 .1,.8 .38,1 .6,.7 .78,.3 1.12,0 .8,-.22 .62,-.62 .4,-1 .1,-.8"/><polygon class="s" points="-.15,0 .1,.8 .38,1 .6,.7 .78,.3 1.12,0 .75,0 .45,.1 .1,.05"/><polygon class="h" points=".1,-.8 .4,-1 .62,-.62 .55,-.05 .25,-.1"/></g>
<g transform="matrix(11.64 -12.77 4.22 3.84 256.3 185.1)"><polygon class="k" points="-.15,0 .1,.8 .38,1 .6,.7 .78,.3 1.12,0 .8,-.22 .62,-.62 .4,-1 .1,-.8"/><polygon class="s" points="-.15,0 .1,.8 .38,1 .6,.7 .78,.3 1.12,0 .75,0 .45,.1 .1,.05"/><polygon class="h" points=".1,-.8 .4,-1 .62,-.62 .55,-.05 .25,-.1"/></g>
<g transform="matrix(-3.24 -14.03 5.61 -1.30 252.3 189.7)"><polygon class="k" points="-.15,0 .1,.8 .38,1 .6,.7 .78,.3 1.12,0 .8,-.22 .62,-.62 .4,-1 .1,-.8"/><polygon class="s" points="-.15,0 .1,-.8 .4,-1 .62,-.62 .8,-.22 1.12,0 .75,0 .45,-.1 .1,-.05"/><polygon class="h" points=".1,.8 .38,1 .6,.7 .55,.05 .25,.1"/></g>
<g transform="matrix(-13.04 -11.33 3.74 -4.30 248.0 189.9)"><polygon class="k" points="-.15,0 .1,.8 .38,1 .6,.7 .78,.3 1.12,0 .8,-.22 .62,-.62 .4,-1 .1,-.8"/><polygon class="s" points="-.15,0 .1,-.8 .4,-1 .62,-.62 .8,-.22 1.12,0 .75,0 .45,-.1 .1,-.05"/><polygon class="h" points=".1,.8 .38,1 .6,.7 .55,.05 .25,.1"/></g>
<g transform="matrix(2.05 -14.25 5.70 0.82 252.4 193.9)"><polygon class="k" points="-.15,0 .1,.8 .38,1 .6,.7 .78,.3 1.12,0 .8,-.22 .62,-.62 .4,-1 .1,-.8"/><polygon class="s" points="-.15,0 .1,.8 .38,1 .6,.7 .78,.3 1.12,0 .75,0 .45,.1 .1,.05"/><polygon class="h" points=".1,-.8 .4,-1 .62,-.62 .55,-.05 .25,-.1"/></g>
<g transform="matrix(12.04 -12.39 4.09 3.97 256.8 193.8)"><polygon class="k" points="-.15,0 .1,.8 .38,1 .6,.7 .78,.3 1.12,0 .8,-.22 .62,-.62 .4,-1 .1,-.8"/><polygon class="s" points="-.15,0 .1,.8 .38,1 .6,.7 .78,.3 1.12,0 .75,0 .45,.1 .1,.05"/><polygon class="h" points=".1,-.8 .4,-1 .62,-.62 .55,-.05 .25,-.1"/></g>
<g transform="matrix(-2.69 -14.15 5.66 -1.07 252.5 198.2)"><polygon class="k" points="-.15,0 .1,.8 .38,1 .6,.7 .78,.3 1.12,0 .8,-.22 .62,-.62 .4,-1 .1,-.8"/><polygon class="s" points="-.15,0 .1,-.8 .4,-1 .62,-.62 .8,-.22 1.12,0 .75,0 .45,-.1 .1,-.05"/><polygon class="h" points=".1,.8 .38,1 .6,.7 .55,.05 .25,.1"/></g>
<g transform="matrix(-12.59 -11.84 3.91 -4.15 248.2 198.3)"><polygon class="k" points="-.15,0 .1,.8 .38,1 .6,.7 .78,.3 1.12,0 .8,-.22 .62,-.62 .4,-1 .1,-.8"/><polygon class="s" points="-.15,0 .1,-.8 .4,-1 .62,-.62 .8,-.22 1.12,0 .75,0 .45,-.1 .1,-.05"/><polygon class="h" points=".1,.8 .38,1 .6,.7 .55,.05 .25,.1"/></g>
<g transform="matrix(2.43 -14.19 5.68 0.97 252.6 202.5)"><polygon class="k" points="-.15,0 .1,.8 .38,1 .6,.7 .78,.3 1.12,0 .8,-.22 .62,-.62 .4,-1 .1,-.8"/><polygon class="s" points="-.15,0 .1,.8 .38,1 .6,.7 .78,.3 1.12,0 .75,0 .45,.1 .1,.05"/><polygon class="h" points=".1,-.8 .4,-1 .62,-.62 .55,-.05 .25,-.1"/></g>
<g transform="matrix(12.37 -12.06 3.98 4.08 256.9 202.5)"><polygon class="k" points="-.15,0 .1,.8 .38,1 .6,.7 .78,.3 1.12,0 .8,-.22 .62,-.62 .4,-1 .1,-.8"/><polygon class="s" points="-.15,0 .1,.8 .38,1 .6,.7 .78,.3 1.12,0 .75,0 .45,.1 .1,.05"/><polygon class="h" points=".1,-.8 .4,-1 .62,-.62 .55,-.05 .25,-.1"/></g>
<g transform="matrix(-2.35 -14.21 5.68 -0.94 252.5 206.8)"><polygon class="k" points="-.15,0 .1,.8 .38,1 .6,.7 .78,.3 1.12,0 .8,-.22 .62,-.62 .4,-1 .1,-.8"/><polygon class="s" points="-.15,0 .1,-.8 .4,-1 .62,-.62 .8,-.22 1.12,0 .75,0 .45,-.1 .1,-.05"/><polygon class="h" points=".1,.8 .38,1 .6,.7 .55,.05 .25,.1"/></g>
<g transform="matrix(-12.31 -12.13 4.00 -4.06 248.2 206.7)"><polygon class="k" points="-.15,0 .1,.8 .38,1 .6,.7 .78,.3 1.12,0 .8,-.22 .62,-.62 .4,-1 .1,-.8"/><polygon class="s" points="-.15,0 .1,-.8 .4,-1 .62,-.62 .8,-.22 1.12,0 .75,0 .45,-.1 .1,-.05"/><polygon class="h" points=".1,.8 .38,1 .6,.7 .55,.05 .25,.1"/></g>
<g transform="matrix(2.89 -14.11 5.64 1.16 252.5 211.0)"><polygon class="k" points="-.15,0 .1,.8 .38,1 .6,.7 .78,.3 1.12,0 .8,-.22 .62,-.62 .4,-1 .1,-.8"/><polygon class="s" points="-.15,0 .1,.8 .38,1 .6,.7 .78,.3 1.12,0 .75,0 .45,.1 .1,.05"/><polygon class="h" points=".1,-.8 .4,-1 .62,-.62 .55,-.05 .25,-.1"/></g>
<g transform="matrix(12.76 -11.65 3.85 4.21 256.8 211.1)"><polygon class="k" points="-.15,0 .1,.8 .38,1 .6,.7 .78,.3 1.12,0 .8,-.22 .62,-.62 .4,-1 .1,-.8"/><polygon class="s" points="-.15,0 .1,.8 .38,1 .6,.7 .78,.3 1.12,0 .75,0 .45,.1 .1,.05"/><polygon class="h" points=".1,-.8 .4,-1 .62,-.62 .55,-.05 .25,-.1"/></g>
<g transform="matrix(-1.77 -14.29 5.72 -0.71 252.3 215.3)"><polygon class="k" points="-.15,0 .1,.8 .38,1 .6,.7 .78,.3 1.12,0 .8,-.22 .62,-.62 .4,-1 .1,-.8"/><polygon class="s" points="-.15,0 .1,-.8 .4,-1 .62,-.62 .8,-.22 1.12,0 .75,0 .45,-.1 .1,-.05"/><polygon class="h" points=".1,.8 .38,1 .6,.7 .55,.05 .25,.1"/></g>
<g transform="matrix(-11.80 -12.62 4.17 -3.89 248.0 215.1)"><polygon class="k" points="-.15,0 .1,.8 .38,1 .6,.7 .78,.3 1.12,0 .8,-.22 .62,-.62 .4,-1 .1,-.8"/><polygon class="s" points="-.15,0 .1,-.8 .4,-1 .62,-.62 .8,-.22 1.12,0 .75,0 .45,-.1 .1,-.05"/><polygon class="h" points=".1,.8 .38,1 .6,.7 .55,.05 .25,.1"/></g>
<g transform="matrix(3.33 -14.01 5.60 1.33 252.1 219.6)"><polygon class="k" points="-.15,0 .1,.8 .38,1 .6,.7 .78,.3 1.12,0 .8,-.22 .62,-.62 .4,-1 .1,-.8"/><polygon class="s" points="-.15,0 .1,.8 .38,1 .6,.7 .78,.3 1.12,0 .75,0 .45,.1 .1,.05"/><polygon class="h" points=".1,-.8 .4,-1 .62,-.62 .55,-.05 .25,-.1"/></g>
<g transform="matrix(13.12 -11.25 3.71 4.33 256.4 219.8)"><polygon class="k" points="-.15,0 .1,.8 .38,1 .6,.7 .78,.3 1.12,0 .8,-.22 .62,-.62 .4,-1 .1,-.8"/><polygon class="s" points="-.15,0 .1,.8 .38,1 .6,.7 .78,.3 1.12,0 .75,0 .45,.1 .1,.05"/><polygon class="h" points=".1,-.8 .4,-1 .62,-.62 .55,-.05 .25,-.1"/></g>
<g transform="matrix(-1.51 -14.32 5.73 -0.60 251.8 223.8)"><polygon class="k" points="-.15,0 .1,.8 .38,1 .6,.7 .78,.3 1.12,0 .8,-.22 .62,-.62 .4,-1 .1,-.8"/><polygon class="s" points="-.15,0 .1,-.8 .4,-1 .62,-.62 .8,-.22 1.12,0 .75,0 .45,-.1 .1,-.05"/><polygon class="h" points=".1,.8 .38,1 .6,.7 .55,.05 .25,.1"/></g>
<g transform="matrix(-11.56 -12.84 4.24 -3.82 247.5 223.5)"><polygon class="k" points="-.15,0 .1,.8 .38,1 .6,.7 .78,.3 1.12,0 .8,-.22 .62,-.62 .4,-1 .1,-.8"/><polygon class="s" points="-.15,0 .1,-.8 .4,-1 .62,-.62 .8,-.22 1.12,0 .75,0 .45,-.1 .1,-.05"/><polygon class="h" points=".1,.8 .38,1 .6,.7 .55,.05 .25,.1"/></g>
<g transform="matrix(3.52 -13.96 5.58 1.41 251.5 228.1)"><polygon class="k" points="-.15,0 .1,.8 .38,1 .6,.7 .78,.3 1.12,0 .8,-.22 .62,-.62 .4,-1 .1,-.8"/><polygon class="s" points="-.15,0 .1,.8 .38,1 .6,.7 .78,.3 1.12,0 .75,0 .45,.1 .1,.05"/><polygon class="h" points=".1,-.8 .4,-1 .62,-.62 .55,-.05 .25,-.1"/></g>
<g transform="matrix(13.27 -11.07 3.65 4.38 255.8 228.4)"><polygon class="k" points="-.15,0 .1,.8 .38,1 .6,.7 .78,.3 1.12,0 .8,-.22 .62,-.62 .4,-1 .1,-.8"/><polygon class="s" points="-.15,0 .1,.8 .38,1 .6,.7 .78,.3 1.12,0 .75,0 .45,.1 .1,.05"/><polygon class="h" points=".1,-.8 .4,-1 .62,-.62 .55,-.05 .25,-.1"/></g>
<g transform="matrix(-1.44 -14.33 5.73 -0.58 251.2 232.4)"><polygon class="k" points="-.15,0 .1,.8 .38,1 .6,.7 .78,.3 1.12,0 .8,-.22 .62,-.62 .4,-1 .1,-.8"/><polygon class="s" points="-.15,0 .1,-.8 .4,-1 .62,-.62 .8,-.22 1.12,0 .75,0 .45,-.1 .1,-.05"/><polygon class="h" points=".1,.8 .38,1 .6,.7 .55,.05 .25,.1"/></g>
<g transform="matrix(-11.51 -12.89 4.25 -3.80 246.9 232.0)"><polygon class="k" points="-.15,0 .1,.8 .38,1 .6,.7 .78,.3 1.12,0 .8,-.22 .62,-.62 .4,-1 .1,-.8"/><polygon class="s" points="-.15,0 .1,-.8 .4,-1 .62,-.62 .8,-.22 1.12,0 .75,0 .45,-.1 .1,-.05"/><polygon class="h" points=".1,.8 .38,1 .6,.7 .55,.05 .25,.1"/></g>
<g transform="matrix(3.52 -13.96 5.59 1.41 250.9 236.6)"><polygon class="k" points="-.15,0 .1,.8 .38,1 .6,.7 .78,.3 1.12,0 .8,-.22 .62,-.62 .4,-1 .1,-.8"/><polygon class="s" points="-.15,0 .1,.8 .38,1 .6,.7 .78,.3 1.12,0 .75,0 .45,.1 .1,.05"/><polygon class="h" points=".1,-.8 .4,-1 .62,-.62 .55,-.05 .25,-.1"/></g>
<g transform="matrix(13.27 -11.07 3.65 4.38 255.2 236.9)"><polygon class="k" points="-.15,0 .1,.8 .38,1 .6,.7 .78,.3 1.12,0 .8,-.22 .62,-.62 .4,-1 .1,-.8"/><polygon class="s" points="-.15,0 .1,.8 .38,1 .6,.7 .78,.3 1.12,0 .75,0 .45,.1 .1,.05"/><polygon class="h" points=".1,-.8 .4,-1 .62,-.62 .55,-.05 .25,-.1"/></g>
<g transform="matrix(-1.19 -14.35 5.74 -0.48 250.5 240.9)"><polygon class="k" points="-.15,0 .1,.8 .38,1 .6,.7 .78,.3 1.12,0 .8,-.22 .62,-.62 .4,-1 .1,-.8"/><polygon class="s" points="-.15,0 .1,-.8 .4,-1 .62,-.62 .8,-.22 1.12,0 .75,0 .45,-.1 .1,-.05"/><polygon class="h" points=".1,.8 .38,1 .6,.7 .55,.05 .25,.1"/></g>
<g transform="matrix(-11.28 -13.09 4.32 -3.72 246.2 240.5)"><polygon class="k" points="-.15,0 .1,.8 .38,1 .6,.7 .78,.3 1.12,0 .8,-.22 .62,-.62 .4,-1 .1,-.8"/><polygon class="s" points="-.15,0 .1,-.8 .4,-1 .62,-.62 .8,-.22 1.12,0 .75,0 .45,-.1 .1,-.05"/><polygon class="h" points=".1,.8 .38,1 .6,.7 .55,.05 .25,.1"/></g>
<g transform="matrix(3.95 -13.85 5.54 1.58 250.1 245.1)"><polygon class="k" points="-.15,0 .1,.8 .38,1 .6,.7 .78,.3 1.12,0 .8,-.22 .62,-.62 .4,-1 .1,-.8"/><polygon class="s" points="-.15,0 .1,.8 .38,1 .6,.7 .78,.3 1.12,0 .75,0 .45,.1 .1,.05"/><polygon class="h" points=".1,-.8 .4,-1 .62,-.62 .55,-.05 .25,-.1"/></g>
<g transform="matrix(13.60 -10.65 3.52 4.49 254.4 245.6)"><polygon class="k" points="-.15,0 .1,.8 .38,1 .6,.7 .78,.3 1.12,0 .8,-.22 .62,-.62 .4,-1 .1,-.8"/><polygon class="s" points="-.15,0 .1,.8 .38,1 .6,.7 .78,.3 1.12,0 .75,0 .45,.1 .1,.05"/><polygon class="h" points=".1,-.8 .4,-1 .62,-.62 .55,-.05 .25,-.1"/></g>
<polygon points="337.9,162.1 326.1,169 318.3,180.1 312.7,191.6 308,203.3 303.6,215.2 299.5,226.9 295.4,238.6 291.3,250.6 288,263 285.1,275.1 300.9,278.9 303.7,266.9 306.9,255.4 310.7,243.9 314.8,232.2 318.9,220.5 323.1,209.2 327.7,197.9 332.2,186.8 336.8,176.5 339.3,163" fill="#7E8654"/>
<g transform="matrix(3.31 -7.82 3.13 1.32 338.9 162.1)"><polygon class="k" points="-.15,0 .1,.8 .38,1 .6,.7 .78,.3 1.12,0 .8,-.22 .62,-.62 .4,-1 .1,-.8"/><polygon class="s" points="-.15,0 .1,.8 .38,1 .6,.7 .78,.3 1.12,0 .75,0 .45,.1 .1,.05"/><polygon class="h" points=".1,-.8 .4,-1 .62,-.62 .55,-.05 .25,-.1"/></g>
<g transform="matrix(-2.30 -9.92 3.27 -0.76 336.8 160.7)"><polygon class="k" points="-.15,0 .1,.8 .38,1 .6,.7 .78,.3 1.12,0 .8,-.22 .62,-.62 .4,-1 .1,-.8"/><polygon class="s" points="-.15,0 .1,-.8 .4,-1 .62,-.62 .8,-.22 1.12,0 .75,0 .45,-.1 .1,-.05"/><polygon class="h" points=".1,.8 .38,1 .6,.7 .55,.05 .25,.1"/></g>
<g transform="matrix(6.35 -6.57 2.63 2.54 336.6 165.6)"><polygon class="k" points="-.15,0 .1,.8 .38,1 .6,.7 .78,.3 1.12,0 .8,-.22 .62,-.62 .4,-1 .1,-.8"/><polygon class="s" points="-.15,0 .1,.8 .38,1 .6,.7 .78,.3 1.12,0 .75,0 .45,.1 .1,.05"/><polygon class="h" points=".1,-.8 .4,-1 .62,-.62 .55,-.05 .25,-.1"/></g>
<g transform="matrix(10.79 -1.90 0.63 3.56 338.8 167.2)"><polygon class="k" points="-.15,0 .1,.8 .38,1 .6,.7 .78,.3 1.12,0 .8,-.22 .62,-.62 .4,-1 .1,-.8"/><polygon class="s" points="-.15,0 .1,.8 .38,1 .6,.7 .78,.3 1.12,0 .75,0 .45,.1 .1,.05"/><polygon class="h" points=".1,-.8 .4,-1 .62,-.62 .55,-.05 .25,-.1"/></g>
<g transform="matrix(4.35 -8.76 3.50 1.74 334.1 169.1)"><polygon class="k" points="-.15,0 .1,.8 .38,1 .6,.7 .78,.3 1.12,0 .8,-.22 .62,-.62 .4,-1 .1,-.8"/><polygon class="s" points="-.15,0 .1,.8 .38,1 .6,.7 .78,.3 1.12,0 .75,0 .45,.1 .1,.05"/><polygon class="h" points=".1,-.8 .4,-1 .62,-.62 .55,-.05 .25,-.1"/></g>
<g transform="matrix(-1.96 -11.57 3.82 -0.65 331.7 167.4)"><polygon class="k" points="-.15,0 .1,.8 .38,1 .6,.7 .78,.3 1.12,0 .8,-.22 .62,-.62 .4,-1 .1,-.8"/><polygon class="s" points="-.15,0 .1,-.8 .4,-1 .62,-.62 .8,-.22 1.12,0 .75,0 .45,-.1 .1,-.05"/><polygon class="h" points=".1,.8 .38,1 .6,.7 .55,.05 .25,.1"/></g>
<g transform="matrix(7.41 -7.33 2.93 2.96 331.6 172.6)"><polygon class="k" points="-.15,0 .1,.8 .38,1 .6,.7 .78,.3 1.12,0 .8,-.22 .62,-.62 .4,-1 .1,-.8"/><polygon class="s" points="-.15,0 .1,.8 .38,1 .6,.7 .78,.3 1.12,0 .75,0 .45,.1 .1,.05"/><polygon class="h" points=".1,-.8 .4,-1 .62,-.62 .55,-.05 .25,-.1"/></g>
<g transform="matrix(12.36 -1.89 0.62 4.08 334.1 174.4)"><polygon class="k" points="-.15,0 .1,.8 .38,1 .6,.7 .78,.3 1.12,0 .8,-.22 .62,-.62 .4,-1 .1,-.8"/><polygon class="s" points="-.15,0 .1,.8 .38,1 .6,.7 .78,.3 1.12,0 .75,0 .45,.1 .1,.05"/><polygon class="h" points=".1,-.8 .4,-1 .62,-.62 .55,-.05 .25,-.1"/></g>
<g transform="matrix(4.23 -10.22 4.09 1.69 329.2 176.1)"><polygon class="k" points="-.15,0 .1,.8 .38,1 .6,.7 .78,.3 1.12,0 .8,-.22 .62,-.62 .4,-1 .1,-.8"/><polygon class="s" points="-.15,0 .1,.8 .38,1 .6,.7 .78,.3 1.12,0 .75,0 .45,.1 .1,.05"/><polygon class="h" points=".1,-.8 .4,-1 .62,-.62 .55,-.05 .25,-.1"/></g>
<g transform="matrix(-3.11 -12.91 4.26 -1.02 326.4 174.3)"><polygon class="k" points="-.15,0 .1,.8 .38,1 .6,.7 .78,.3 1.12,0 .8,-.22 .62,-.62 .4,-1 .1,-.8"/><polygon class="s" points="-.15,0 .1,-.8 .4,-1 .62,-.62 .8,-.22 1.12,0 .75,0 .45,-.1 .1,-.05"/><polygon class="h" points=".1,.8 .38,1 .6,.7 .55,.05 .25,.1"/></g>
<g transform="matrix(7.32 -9.14 3.66 2.93 327.1 179.8)"><polygon class="k" points="-.15,0 .1,.8 .38,1 .6,.7 .78,.3 1.12,0 .8,-.22 .62,-.62 .4,-1 .1,-.8"/><polygon class="s" points="-.15,0 .1,.8 .38,1 .6,.7 .78,.3 1.12,0 .75,0 .45,.1 .1,.05"/><polygon class="h" points=".1,-.8 .4,-1 .62,-.62 .55,-.05 .25,-.1"/></g>
<g transform="matrix(13.55 -3.71 1.22 4.47 330.2 181.5)"><polygon class="k" points="-.15,0 .1,.8 .38,1 .6,.7 .78,.3 1.12,0 .8,-.22 .62,-.62 .4,-1 .1,-.8"/><polygon class="s" points="-.15,0 .1,.8 .38,1 .6,.7 .78,.3 1.12,0 .75,0 .45,.1 .1,.05"/><polygon class="h" points=".1,-.8 .4,-1 .62,-.62 .55,-.05 .25,-.1"/></g>
<g transform="matrix(3.38 -11.88 4.75 1.35 325.2 183.6)"><polygon class="k" points="-.15,0 .1,.8 .38,1 .6,.7 .78,.3 1.12,0 .8,-.22 .62,-.62 .4,-1 .1,-.8"/><polygon class="s" points="-.15,0 .1,.8 .38,1 .6,.7 .78,.3 1.12,0 .75,0 .45,.1 .1,.05"/><polygon class="h" points=".1,-.8 .4,-1 .62,-.62 .55,-.05 .25,-.1"/></g>
<g transform="matrix(-5.10 -13.92 4.59 -1.68 321.9 182.0)"><polygon class="k" points="-.15,0 .1,.8 .38,1 .6,.7 .78,.3 1.12,0 .8,-.22 .62,-.62 .4,-1 .1,-.8"/><polygon class="s" points="-.15,0 .1,-.8 .4,-1 .62,-.62 .8,-.22 1.12,0 .75,0 .45,-.1 .1,-.05"/><polygon class="h" points=".1,.8 .38,1 .6,.7 .55,.05 .25,.1"/></g>
<g transform="matrix(7.32 -10.74 4.30 2.93 323.4 187.5)"><polygon class="k" points="-.15,0 .1,.8 .38,1 .6,.7 .78,.3 1.12,0 .8,-.22 .62,-.62 .4,-1 .1,-.8"/><polygon class="s" points="-.15,0 .1,.8 .38,1 .6,.7 .78,.3 1.12,0 .75,0 .45,.1 .1,.05"/><polygon class="h" points=".1,-.8 .4,-1 .62,-.62 .55,-.05 .25,-.1"/></g>
<g transform="matrix(14.68 -5.26 1.74 4.85 326.9 189.1)"><polygon class="k" points="-.15,0 .1,.8 .38,1 .6,.7 .78,.3 1.12,0 .8,-.22 .62,-.62 .4,-1 .1,-.8"/><polygon class="s" points="-.15,0 .1,.8 .38,1 .6,.7 .78,.3 1.12,0 .75,0 .45,.1 .1,.05"/><polygon class="h" points=".1,-.8 .4,-1 .62,-.62 .55,-.05 .25,-.1"/></g>
<g transform="matrix(3.08 -12.63 5.05 1.23 321.7 191.4)"><polygon class="k" points="-.15,0 .1,.8 .38,1 .6,.7 .78,.3 1.12,0 .8,-.22 .62,-.62 .4,-1 .1,-.8"/><polygon class="s" points="-.15,0 .1,.8 .38,1 .6,.7 .78,.3 1.12,0 .75,0 .45,.1 .1,.05"/><polygon class="h" points=".1,-.8 .4,-1 .62,-.62 .55,-.05 .25,-.1"/></g>
<g transform="matrix(-5.92 -14.43 4.76 -1.95 318.1 189.8)"><polygon class="k" points="-.15,0 .1,.8 .38,1 .6,.7 .78,.3 1.12,0 .8,-.22 .62,-.62 .4,-1 .1,-.8"/><polygon class="s" points="-.15,0 .1,-.8 .4,-1 .62,-.62 .8,-.22 1.12,0 .75,0 .45,-.1 .1,-.05"/><polygon class="h" points=".1,.8 .38,1 .6,.7 .55,.05 .25,.1"/></g>
<g transform="matrix(7.04 -10.93 4.37 2.82 320.0 195.3)"><polygon class="k" points="-.15,0 .1,.8 .38,1 .6,.7 .78,.3 1.12,0 .8,-.22 .62,-.62 .4,-1 .1,-.8"/><polygon class="s" points="-.15,0 .1,.8 .38,1 .6,.7 .78,.3 1.12,0 .75,0 .45,.1 .1,.05"/><polygon class="h" points=".1,-.8 .4,-1 .62,-.62 .55,-.05 .25,-.1"/></g>
<g transform="matrix(14.54 -5.64 1.86 4.80 323.6 196.8)"><polygon class="k" points="-.15,0 .1,.8 .38,1 .6,.7 .78,.3 1.12,0 .8,-.22 .62,-.62 .4,-1 .1,-.8"/><polygon class="s" points="-.15,0 .1,.8 .38,1 .6,.7 .78,.3 1.12,0 .75,0 .45,.1 .1,.05"/><polygon class="h" points=".1,-.8 .4,-1 .62,-.62 .55,-.05 .25,-.1"/></g>
<g transform="matrix(2.80 -12.69 5.08 1.12 318.3 199.2)"><polygon class="k" points="-.15,0 .1,.8 .38,1 .6,.7 .78,.3 1.12,0 .8,-.22 .62,-.62 .4,-1 .1,-.8"/><polygon class="s" points="-.15,0 .1,.8 .38,1 .6,.7 .78,.3 1.12,0 .75,0 .45,.1 .1,.05"/><polygon class="h" points=".1,-.8 .4,-1 .62,-.62 .55,-.05 .25,-.1"/></g>
<g transform="matrix(-6.24 -14.30 4.72 -2.06 314.7 197.8)"><polygon class="k" points="-.15,0 .1,.8 .38,1 .6,.7 .78,.3 1.12,0 .8,-.22 .62,-.62 .4,-1 .1,-.8"/><polygon class="s" points="-.15,0 .1,-.8 .4,-1 .62,-.62 .8,-.22 1.12,0 .75,0 .45,-.1 .1,-.05"/><polygon class="h" points=".1,.8 .38,1 .6,.7 .55,.05 .25,.1"/></g>
<g transform="matrix(6.87 -11.04 4.41 2.75 316.7 203.2)"><polygon class="k" points="-.15,0 .1,.8 .38,1 .6,.7 .78,.3 1.12,0 .8,-.22 .62,-.62 .4,-1 .1,-.8"/><polygon class="s" points="-.15,0 .1,.8 .38,1 .6,.7 .78,.3 1.12,0 .75,0 .45,.1 .1,.05"/><polygon class="h" points=".1,-.8 .4,-1 .62,-.62 .55,-.05 .25,-.1"/></g>
<g transform="matrix(14.45 -5.87 1.94 4.77 320.3 204.7)"><polygon class="k" points="-.15,0 .1,.8 .38,1 .6,.7 .78,.3 1.12,0 .8,-.22 .62,-.62 .4,-1 .1,-.8"/><polygon class="s" points="-.15,0 .1,.8 .38,1 .6,.7 .78,.3 1.12,0 .75,0 .45,.1 .1,.05"/><polygon class="h" points=".1,-.8 .4,-1 .62,-.62 .55,-.05 .25,-.1"/></g>
<g transform="matrix(2.59 -12.74 5.10 1.03 315.2 207.2)"><polygon class="k" points="-.15,0 .1,.8 .38,1 .6,.7 .78,.3 1.12,0 .8,-.22 .62,-.62 .4,-1 .1,-.8"/><polygon class="s" points="-.15,0 .1,.8 .38,1 .6,.7 .78,.3 1.12,0 .75,0 .45,.1 .1,.05"/><polygon class="h" points=".1,-.8 .4,-1 .62,-.62 .55,-.05 .25,-.1"/></g>
<g transform="matrix(-6.48 -14.19 4.68 -2.14 311.5 205.7)"><polygon class="k" points="-.15,0 .1,.8 .38,1 .6,.7 .78,.3 1.12,0 .8,-.22 .62,-.62 .4,-1 .1,-.8"/><polygon class="s" points="-.15,0 .1,-.8 .4,-1 .62,-.62 .8,-.22 1.12,0 .75,0 .45,-.1 .1,-.05"/><polygon class="h" points=".1,.8 .38,1 .6,.7 .55,.05 .25,.1"/></g>
<g transform="matrix(6.57 -11.22 4.49 2.63 313.6 211.1)"><polygon class="k" points="-.15,0 .1,.8 .38,1 .6,.7 .78,.3 1.12,0 .8,-.22 .62,-.62 .4,-1 .1,-.8"/><polygon class="s" points="-.15,0 .1,.8 .38,1 .6,.7 .78,.3 1.12,0 .75,0 .45,.1 .1,.05"/><polygon class="h" points=".1,-.8 .4,-1 .62,-.62 .55,-.05 .25,-.1"/></g>
<g transform="matrix(14.29 -6.26 2.07 4.72 317.3 212.5)"><polygon class="k" points="-.15,0 .1,.8 .38,1 .6,.7 .78,.3 1.12,0 .8,-.22 .62,-.62 .4,-1 .1,-.8"/><polygon class="s" points="-.15,0 .1,.8 .38,1 .6,.7 .78,.3 1.12,0 .75,0 .45,.1 .1,.05"/><polygon class="h" points=".1,-.8 .4,-1 .62,-.62 .55,-.05 .25,-.1"/></g>
<g transform="matrix(2.16 -12.82 5.13 0.86 312.2 215.2)"><polygon class="k" points="-.15,0 .1,.8 .38,1 .6,.7 .78,.3 1.12,0 .8,-.22 .62,-.62 .4,-1 .1,-.8"/><polygon class="s" points="-.15,0 .1,.8 .38,1 .6,.7 .78,.3 1.12,0 .75,0 .45,.1 .1,.05"/><polygon class="h" points=".1,-.8 .4,-1 .62,-.62 .55,-.05 .25,-.1"/></g>
<g transform="matrix(-6.95 -13.97 4.61 -2.29 308.5 213.8)"><polygon class="k" points="-.15,0 .1,.8 .38,1 .6,.7 .78,.3 1.12,0 .8,-.22 .62,-.62 .4,-1 .1,-.8"/><polygon class="s" points="-.15,0 .1,-.8 .4,-1 .62,-.62 .8,-.22 1.12,0 .75,0 .45,-.1 .1,-.05"/><polygon class="h" points=".1,.8 .38,1 .6,.7 .55,.05 .25,.1"/></g>
<g transform="matrix(6.36 -11.34 4.53 2.55 310.8 219.2)"><polygon class="k" points="-.15,0 .1,.8 .38,1 .6,.7 .78,.3 1.12,0 .8,-.22 .62,-.62 .4,-1 .1,-.8"/><polygon class="s" points="-.15,0 .1,.8 .38,1 .6,.7 .78,.3 1.12,0 .75,0 .45,.1 .1,.05"/><polygon class="h" points=".1,-.8 .4,-1 .62,-.62 .55,-.05 .25,-.1"/></g>
<g transform="matrix(14.17 -6.52 2.15 4.68 314.4 220.5)"><polygon class="k" points="-.15,0 .1,.8 .38,1 .6,.7 .78,.3 1.12,0 .8,-.22 .62,-.62 .4,-1 .1,-.8"/><polygon class="s" points="-.15,0 .1,.8 .38,1 .6,.7 .78,.3 1.12,0 .75,0 .45,.1 .1,.05"/><polygon class="h" points=".1,-.8 .4,-1 .62,-.62 .55,-.05 .25,-.1"/></g>
<g transform="matrix(2.05 -12.84 5.13 0.82 309.4 223.2)"><polygon class="k" points="-.15,0 .1,.8 .38,1 .6,.7 .78,.3 1.12,0 .8,-.22 .62,-.62 .4,-1 .1,-.8"/><polygon class="s" points="-.15,0 .1,.8 .38,1 .6,.7 .78,.3 1.12,0 .75,0 .45,.1 .1,.05"/><polygon class="h" points=".1,-.8 .4,-1 .62,-.62 .55,-.05 .25,-.1"/></g>
<g transform="matrix(-7.07 -13.91 4.59 -2.33 305.7 221.9)"><polygon class="k" points="-.15,0 .1,.8 .38,1 .6,.7 .78,.3 1.12,0 .8,-.22 .62,-.62 .4,-1 .1,-.8"/><polygon class="s" points="-.15,0 .1,-.8 .4,-1 .62,-.62 .8,-.22 1.12,0 .75,0 .45,-.1 .1,-.05"/><polygon class="h" points=".1,.8 .38,1 .6,.7 .55,.05 .25,.1"/></g>
<g transform="matrix(6.32 -11.36 4.54 2.53 308.0 227.2)"><polygon class="k" points="-.15,0 .1,.8 .38,1 .6,.7 .78,.3 1.12,0 .8,-.22 .62,-.62 .4,-1 .1,-.8"/><polygon class="s" points="-.15,0 .1,.8 .38,1 .6,.7 .78,.3 1.12,0 .75,0 .45,.1 .1,.05"/><polygon class="h" points=".1,-.8 .4,-1 .62,-.62 .55,-.05 .25,-.1"/></g>
<g transform="matrix(14.15 -6.57 2.17 4.67 311.6 228.5)"><polygon class="k" points="-.15,0 .1,.8 .38,1 .6,.7 .78,.3 1.12,0 .8,-.22 .62,-.62 .4,-1 .1,-.8"/><polygon class="s" points="-.15,0 .1,.8 .38,1 .6,.7 .78,.3 1.12,0 .75,0 .45,.1 .1,.05"/><polygon class="h" points=".1,-.8 .4,-1 .62,-.62 .55,-.05 .25,-.1"/></g>
<g transform="matrix(2.12 -12.83 5.13 0.85 306.6 231.3)"><polygon class="k" points="-.15,0 .1,.8 .38,1 .6,.7 .78,.3 1.12,0 .8,-.22 .62,-.62 .4,-1 .1,-.8"/><polygon class="s" points="-.15,0 .1,.8 .38,1 .6,.7 .78,.3 1.12,0 .75,0 .45,.1 .1,.05"/><polygon class="h" points=".1,-.8 .4,-1 .62,-.62 .55,-.05 .25,-.1"/></g>
<g transform="matrix(-6.99 -13.95 4.60 -2.31 302.9 230.0)"><polygon class="k" points="-.15,0 .1,.8 .38,1 .6,.7 .78,.3 1.12,0 .8,-.22 .62,-.62 .4,-1 .1,-.8"/><polygon class="s" points="-.15,0 .1,-.8 .4,-1 .62,-.62 .8,-.22 1.12,0 .75,0 .45,-.1 .1,-.05"/><polygon class="h" points=".1,.8 .38,1 .6,.7 .55,.05 .25,.1"/></g>
<g transform="matrix(6.40 -11.32 4.53 2.56 305.1 235.3)"><polygon class="k" points="-.15,0 .1,.8 .38,1 .6,.7 .78,.3 1.12,0 .8,-.22 .62,-.62 .4,-1 .1,-.8"/><polygon class="s" points="-.15,0 .1,.8 .38,1 .6,.7 .78,.3 1.12,0 .75,0 .45,.1 .1,.05"/><polygon class="h" points=".1,-.8 .4,-1 .62,-.62 .55,-.05 .25,-.1"/></g>
<g transform="matrix(14.19 -6.47 2.14 4.68 308.8 236.6)"><polygon class="k" points="-.15,0 .1,.8 .38,1 .6,.7 .78,.3 1.12,0 .8,-.22 .62,-.62 .4,-1 .1,-.8"/><polygon class="s" points="-.15,0 .1,.8 .38,1 .6,.7 .78,.3 1.12,0 .75,0 .45,.1 .1,.05"/><polygon class="h" points=".1,-.8 .4,-1 .62,-.62 .55,-.05 .25,-.1"/></g>
<g transform="matrix(2.13 -12.82 5.13 0.85 303.7 239.3)"><polygon class="k" points="-.15,0 .1,.8 .38,1 .6,.7 .78,.3 1.12,0 .8,-.22 .62,-.62 .4,-1 .1,-.8"/><polygon class="s" points="-.15,0 .1,.8 .38,1 .6,.7 .78,.3 1.12,0 .75,0 .45,.1 .1,.05"/><polygon class="h" points=".1,-.8 .4,-1 .62,-.62 .55,-.05 .25,-.1"/></g>
<g transform="matrix(-6.98 -13.95 4.60 -2.30 300.0 238.0)"><polygon class="k" points="-.15,0 .1,.8 .38,1 .6,.7 .78,.3 1.12,0 .8,-.22 .62,-.62 .4,-1 .1,-.8"/><polygon class="s" points="-.15,0 .1,-.8 .4,-1 .62,-.62 .8,-.22 1.12,0 .75,0 .45,-.1 .1,-.05"/><polygon class="h" points=".1,.8 .38,1 .6,.7 .55,.05 .25,.1"/></g>
<g transform="matrix(6.31 -11.37 4.55 2.52 302.3 243.3)"><polygon class="k" points="-.15,0 .1,.8 .38,1 .6,.7 .78,.3 1.12,0 .8,-.22 .62,-.62 .4,-1 .1,-.8"/><polygon class="s" points="-.15,0 .1,.8 .38,1 .6,.7 .78,.3 1.12,0 .75,0 .45,.1 .1,.05"/><polygon class="h" points=".1,-.8 .4,-1 .62,-.62 .55,-.05 .25,-.1"/></g>
<g transform="matrix(14.14 -6.59 2.17 4.67 306.0 244.6)"><polygon class="k" points="-.15,0 .1,.8 .38,1 .6,.7 .78,.3 1.12,0 .8,-.22 .62,-.62 .4,-1 .1,-.8"/><polygon class="s" points="-.15,0 .1,.8 .38,1 .6,.7 .78,.3 1.12,0 .75,0 .45,.1 .1,.05"/><polygon class="h" points=".1,-.8 .4,-1 .62,-.62 .55,-.05 .25,-.1"/></g>
<g transform="matrix(1.96 -12.85 5.14 0.78 300.9 247.4)"><polygon class="k" points="-.15,0 .1,.8 .38,1 .6,.7 .78,.3 1.12,0 .8,-.22 .62,-.62 .4,-1 .1,-.8"/><polygon class="s" points="-.15,0 .1,.8 .38,1 .6,.7 .78,.3 1.12,0 .75,0 .45,.1 .1,.05"/><polygon class="h" points=".1,-.8 .4,-1 .62,-.62 .55,-.05 .25,-.1"/></g>
<g transform="matrix(-7.16 -13.86 4.57 -2.36 297.2 246.1)"><polygon class="k" points="-.15,0 .1,.8 .38,1 .6,.7 .78,.3 1.12,0 .8,-.22 .62,-.62 .4,-1 .1,-.8"/><polygon class="s" points="-.15,0 .1,-.8 .4,-1 .62,-.62 .8,-.22 1.12,0 .75,0 .45,-.1 .1,-.05"/><polygon class="h" points=".1,.8 .38,1 .6,.7 .55,.05 .25,.1"/></g>
<g transform="matrix(6.04 -11.51 4.61 2.41 299.6 251.4)"><polygon class="k" points="-.15,0 .1,.8 .38,1 .6,.7 .78,.3 1.12,0 .8,-.22 .62,-.62 .4,-1 .1,-.8"/><polygon class="s" points="-.15,0 .1,.8 .38,1 .6,.7 .78,.3 1.12,0 .75,0 .45,.1 .1,.05"/><polygon class="h" points=".1,-.8 .4,-1 .62,-.62 .55,-.05 .25,-.1"/></g>
<g transform="matrix(13.98 -6.92 2.28 4.61 303.3 252.6)"><polygon class="k" points="-.15,0 .1,.8 .38,1 .6,.7 .78,.3 1.12,0 .8,-.22 .62,-.62 .4,-1 .1,-.8"/><polygon class="s" points="-.15,0 .1,.8 .38,1 .6,.7 .78,.3 1.12,0 .75,0 .45,.1 .1,.05"/><polygon class="h" points=".1,-.8 .4,-1 .62,-.62 .55,-.05 .25,-.1"/></g>
<g transform="matrix(1.37 -12.93 5.17 0.55 298.4 255.5)"><polygon class="k" points="-.15,0 .1,.8 .38,1 .6,.7 .78,.3 1.12,0 .8,-.22 .62,-.62 .4,-1 .1,-.8"/><polygon class="s" points="-.15,0 .1,.8 .38,1 .6,.7 .78,.3 1.12,0 .75,0 .45,.1 .1,.05"/><polygon class="h" points=".1,-.8 .4,-1 .62,-.62 .55,-.05 .25,-.1"/></g>
<g transform="matrix(-7.79 -13.52 4.46 -2.57 294.6 254.4)"><polygon class="k" points="-.15,0 .1,.8 .38,1 .6,.7 .78,.3 1.12,0 .8,-.22 .62,-.62 .4,-1 .1,-.8"/><polygon class="s" points="-.15,0 .1,-.8 .4,-1 .62,-.62 .8,-.22 1.12,0 .75,0 .45,-.1 .1,-.05"/><polygon class="h" points=".1,.8 .38,1 .6,.7 .55,.05 .25,.1"/></g>
<g transform="matrix(5.53 -11.77 4.71 2.21 297.2 259.6)"><polygon class="k" points="-.15,0 .1,.8 .38,1 .6,.7 .78,.3 1.12,0 .8,-.22 .62,-.62 .4,-1 .1,-.8"/><polygon class="s" points="-.15,0 .1,.8 .38,1 .6,.7 .78,.3 1.12,0 .75,0 .45,.1 .1,.05"/><polygon class="h" points=".1,-.8 .4,-1 .62,-.62 .55,-.05 .25,-.1"/></g>
<g transform="matrix(13.67 -7.52 2.48 4.51 301.0 260.6)"><polygon class="k" points="-.15,0 .1,.8 .38,1 .6,.7 .78,.3 1.12,0 .8,-.22 .62,-.62 .4,-1 .1,-.8"/><polygon class="s" points="-.15,0 .1,.8 .38,1 .6,.7 .78,.3 1.12,0 .75,0 .45,.1 .1,.05"/><polygon class="h" points=".1,-.8 .4,-1 .62,-.62 .55,-.05 .25,-.1"/></g>
<g transform="matrix(0.90 -12.97 5.19 0.36 296.2 263.7)"><polygon class="k" points="-.15,0 .1,.8 .38,1 .6,.7 .78,.3 1.12,0 .8,-.22 .62,-.62 .4,-1 .1,-.8"/><polygon class="s" points="-.15,0 .1,.8 .38,1 .6,.7 .78,.3 1.12,0 .75,0 .45,.1 .1,.05"/><polygon class="h" points=".1,-.8 .4,-1 .62,-.62 .55,-.05 .25,-.1"/></g>
<g transform="matrix(-8.27 -13.22 4.36 -2.73 292.4 262.8)"><polygon class="k" points="-.15,0 .1,.8 .38,1 .6,.7 .78,.3 1.12,0 .8,-.22 .62,-.62 .4,-1 .1,-.8"/><polygon class="s" points="-.15,0 .1,-.8 .4,-1 .62,-.62 .8,-.22 1.12,0 .75,0 .45,-.1 .1,-.05"/><polygon class="h" points=".1,.8 .38,1 .6,.7 .55,.05 .25,.1"/></g>
<g transform="matrix(5.14 -11.94 4.78 2.06 295.1 267.9)"><polygon class="k" points="-.15,0 .1,.8 .38,1 .6,.7 .78,.3 1.12,0 .8,-.22 .62,-.62 .4,-1 .1,-.8"/><polygon class="s" points="-.15,0 .1,.8 .38,1 .6,.7 .78,.3 1.12,0 .75,0 .45,.1 .1,.05"/><polygon class="h" points=".1,-.8 .4,-1 .62,-.62 .55,-.05 .25,-.1"/></g>
<g transform="matrix(13.41 -7.97 2.63 4.43 298.9 268.8)"><polygon class="k" points="-.15,0 .1,.8 .38,1 .6,.7 .78,.3 1.12,0 .8,-.22 .62,-.62 .4,-1 .1,-.8"/><polygon class="s" points="-.15,0 .1,.8 .38,1 .6,.7 .78,.3 1.12,0 .75,0 .45,.1 .1,.05"/><polygon class="h" points=".1,-.8 .4,-1 .62,-.62 .55,-.05 .25,-.1"/></g>
<g transform="matrix(0.71 -12.98 5.19 0.28 294.2 272.0)"><polygon class="k" points="-.15,0 .1,.8 .38,1 .6,.7 .78,.3 1.12,0 .8,-.22 .62,-.62 .4,-1 .1,-.8"/><polygon class="s" points="-.15,0 .1,.8 .38,1 .6,.7 .78,.3 1.12,0 .75,0 .45,.1 .1,.05"/><polygon class="h" points=".1,-.8 .4,-1 .62,-.62 .55,-.05 .25,-.1"/></g>
<g transform="matrix(-8.47 -13.10 4.32 -2.80 290.4 271.1)"><polygon class="k" points="-.15,0 .1,.8 .38,1 .6,.7 .78,.3 1.12,0 .8,-.22 .62,-.62 .4,-1 .1,-.8"/><polygon class="s" points="-.15,0 .1,-.8 .4,-1 .62,-.62 .8,-.22 1.12,0 .75,0 .45,-.1 .1,-.05"/><polygon class="h" points=".1,.8 .38,1 .6,.7 .55,.05 .25,.1"/></g>
<g transform="matrix(5.21 -11.91 4.76 2.08 293.2 276.2)"><polygon class="k" points="-.15,0 .1,.8 .38,1 .6,.7 .78,.3 1.12,0 .8,-.22 .62,-.62 .4,-1 .1,-.8"/><polygon class="s" points="-.15,0 .1,.8 .38,1 .6,.7 .78,.3 1.12,0 .75,0 .45,.1 .1,.05"/><polygon class="h" points=".1,-.8 .4,-1 .62,-.62 .55,-.05 .25,-.1"/></g>
<g transform="matrix(13.46 -7.89 2.60 4.44 297.0 277.1)"><polygon class="k" points="-.15,0 .1,.8 .38,1 .6,.7 .78,.3 1.12,0 .8,-.22 .62,-.62 .4,-1 .1,-.8"/><polygon class="s" points="-.15,0 .1,.8 .38,1 .6,.7 .78,.3 1.12,0 .75,0 .45,.1 .1,.05"/><polygon class="h" points=".1,-.8 .4,-1 .62,-.62 .55,-.05 .25,-.1"/></g>
<polygon points="355.5,220.3 346.8,225.1 342.2,232.9 338.9,240.8 336.3,248.7 333.8,256.7 331.4,264.7 329.2,272.8 327.2,281.3 325.8,289.8 324.7,297.9 339.3,300.1 340.4,291.9 341.7,284.1 343.4,276.5 345.5,268.8 347.8,261 350.3,253.3 352.9,245.6 355.3,238 357.3,230.6 356.7,221.1" fill="#7E8654"/>
<g transform="matrix(2.97 -7.87 3.15 1.19 354.5 223.3)"><polygon class="k" points="-.15,0 .1,.8 .38,1 .6,.7 .78,.3 1.12,0 .8,-.22 .62,-.62 .4,-1 .1,-.8"/><polygon class="s" points="-.15,0 .1,.8 .38,1 .6,.7 .78,.3 1.12,0 .75,0 .45,.1 .1,.05"/><polygon class="h" points=".1,-.8 .4,-1 .62,-.62 .55,-.05 .25,-.1"/></g>
<g transform="matrix(-2.67 -9.73 3.21 -0.88 352.4 222.0)"><polygon class="k" points="-.15,0 .1,.8 .38,1 .6,.7 .78,.3 1.12,0 .8,-.22 .62,-.62 .4,-1 .1,-.8"/><polygon class="s" points="-.15,0 .1,-.8 .4,-1 .62,-.62 .8,-.22 1.12,0 .75,0 .45,-.1 .1,-.05"/><polygon class="h" points=".1,.8 .38,1 .6,.7 .55,.05 .25,.1"/></g>
<g transform="matrix(5.66 -7.33 2.93 2.26 352.5 226.9)"><polygon class="k" points="-.15,0 .1,.8 .38,1 .6,.7 .78,.3 1.12,0 .8,-.22 .62,-.62 .4,-1 .1,-.8"/><polygon class="s" points="-.15,0 .1,.8 .38,1 .6,.7 .78,.3 1.12,0 .75,0 .45,.1 .1,.05"/><polygon class="h" points=".1,-.8 .4,-1 .62,-.62 .55,-.05 .25,-.1"/></g>
<g transform="matrix(10.66 -3.13 1.03 3.52 355.0 228.2)"><polygon class="k" points="-.15,0 .1,.8 .38,1 .6,.7 .78,.3 1.12,0 .8,-.22 .62,-.62 .4,-1 .1,-.8"/><polygon class="s" points="-.15,0 .1,.8 .38,1 .6,.7 .78,.3 1.12,0 .75,0 .45,.1 .1,.05"/><polygon class="h" points=".1,-.8 .4,-1 .62,-.62 .55,-.05 .25,-.1"/></g>
<g transform="matrix(2.37 -9.83 3.93 0.95 350.7 230.6)"><polygon class="k" points="-.15,0 .1,.8 .38,1 .6,.7 .78,.3 1.12,0 .8,-.22 .62,-.62 .4,-1 .1,-.8"/><polygon class="s" points="-.15,0 .1,.8 .38,1 .6,.7 .78,.3 1.12,0 .75,0 .45,.1 .1,.05"/><polygon class="h" points=".1,-.8 .4,-1 .62,-.62 .55,-.05 .25,-.1"/></g>
<g transform="matrix(-4.63 -11.22 3.70 -1.53 347.9 229.4)"><polygon class="k" points="-.15,0 .1,.8 .38,1 .6,.7 .78,.3 1.12,0 .8,-.22 .62,-.62 .4,-1 .1,-.8"/><polygon class="s" points="-.15,0 .1,-.8 .4,-1 .62,-.62 .8,-.22 1.12,0 .75,0 .45,-.1 .1,-.05"/><polygon class="h" points=".1,.8 .38,1 .6,.7 .55,.05 .25,.1"/></g>
<g transform="matrix(5.85 -9.27 3.71 2.34 349.1 234.4)"><polygon class="k" points="-.15,0 .1,.8 .38,1 .6,.7 .78,.3 1.12,0 .8,-.22 .62,-.62 .4,-1 .1,-.8"/><polygon class="s" points="-.15,0 .1,.8 .38,1 .6,.7 .78,.3 1.12,0 .75,0 .45,.1 .1,.05"/><polygon class="h" points=".1,-.8 .4,-1 .62,-.62 .55,-.05 .25,-.1"/></g>
<g transform="matrix(12.22 -4.87 1.61 4.03 352.2 235.7)"><polygon class="k" points="-.15,0 .1,.8 .38,1 .6,.7 .78,.3 1.12,0 .8,-.22 .62,-.62 .4,-1 .1,-.8"/><polygon class="s" points="-.15,0 .1,.8 .38,1 .6,.7 .78,.3 1.12,0 .75,0 .45,.1 .1,.05"/><polygon class="h" points=".1,-.8 .4,-1 .62,-.62 .55,-.05 .25,-.1"/></g>
<g transform="matrix(2.12 -11.61 4.64 0.85 347.6 238.3)"><polygon class="k" points="-.15,0 .1,.8 .38,1 .6,.7 .78,.3 1.12,0 .8,-.22 .62,-.62 .4,-1 .1,-.8"/><polygon class="s" points="-.15,0 .1,.8 .38,1 .6,.7 .78,.3 1.12,0 .75,0 .45,.1 .1,.05"/><polygon class="h" points=".1,-.8 .4,-1 .62,-.62 .55,-.05 .25,-.1"/></g>
<g transform="matrix(-6.13 -12.76 4.21 -2.02 344.3 237.1)"><polygon class="k" points="-.15,0 .1,.8 .38,1 .6,.7 .78,.3 1.12,0 .8,-.22 .62,-.62 .4,-1 .1,-.8"/><polygon class="s" points="-.15,0 .1,-.8 .4,-1 .62,-.62 .8,-.22 1.12,0 .75,0 .45,-.1 .1,-.05"/><polygon class="h" points=".1,.8 .38,1 .6,.7 .55,.05 .25,.1"/></g>
<g transform="matrix(5.73 -10.31 4.13 2.29 346.2 242.2)"><polygon class="k" points="-.15,0 .1,.8 .38,1 .6,.7 .78,.3 1.12,0 .8,-.22 .62,-.62 .4,-1 .1,-.8"/><polygon class="s" points="-.15,0 .1,.8 .38,1 .6,.7 .78,.3 1.12,0 .75,0 .45,.1 .1,.05"/><polygon class="h" points=".1,-.8 .4,-1 .62,-.62 .55,-.05 .25,-.1"/></g>
<g transform="matrix(12.84 -5.97 1.97 4.24 349.6 243.3)"><polygon class="k" points="-.15,0 .1,.8 .38,1 .6,.7 .78,.3 1.12,0 .8,-.22 .62,-.62 .4,-1 .1,-.8"/><polygon class="s" points="-.15,0 .1,.8 .38,1 .6,.7 .78,.3 1.12,0 .75,0 .45,.1 .1,.05"/><polygon class="h" points=".1,-.8 .4,-1 .62,-.62 .55,-.05 .25,-.1"/></g>
<g transform="matrix(1.77 -11.67 4.67 0.71 344.9 246.1)"><polygon class="k" points="-.15,0 .1,.8 .38,1 .6,.7 .78,.3 1.12,0 .8,-.22 .62,-.62 .4,-1 .1,-.8"/><polygon class="s" points="-.15,0 .1,.8 .38,1 .6,.7 .78,.3 1.12,0 .75,0 .45,.1 .1,.05"/><polygon class="h" points=".1,-.8 .4,-1 .62,-.62 .55,-.05 .25,-.1"/></g>
<g transform="matrix(-6.51 -12.57 4.15 -2.15 341.6 245.0)"><polygon class="k" points="-.15,0 .1,.8 .38,1 .6,.7 .78,.3 1.12,0 .8,-.22 .62,-.62 .4,-1 .1,-.8"/><polygon class="s" points="-.15,0 .1,-.8 .4,-1 .62,-.62 .8,-.22 1.12,0 .75,0 .45,-.1 .1,-.05"/><polygon class="h" points=".1,.8 .38,1 .6,.7 .55,.05 .25,.1"/></g>
<g transform="matrix(5.54 -10.42 4.17 2.21 343.6 250.0)"><polygon class="k" points="-.15,0 .1,.8 .38,1 .6,.7 .78,.3 1.12,0 .8,-.22 .62,-.62 .4,-1 .1,-.8"/><polygon class="s" points="-.15,0 .1,.8 .38,1 .6,.7 .78,.3 1.12,0 .75,0 .45,.1 .1,.05"/><polygon class="h" points=".1,-.8 .4,-1 .62,-.62 .55,-.05 .25,-.1"/></g>
<g transform="matrix(12.73 -6.21 2.05 4.20 347.0 251.1)"><polygon class="k" points="-.15,0 .1,.8 .38,1 .6,.7 .78,.3 1.12,0 .8,-.22 .62,-.62 .4,-1 .1,-.8"/><polygon class="s" points="-.15,0 .1,.8 .38,1 .6,.7 .78,.3 1.12,0 .75,0 .45,.1 .1,.05"/><polygon class="h" points=".1,-.8 .4,-1 .62,-.62 .55,-.05 .25,-.1"/></g>
<g transform="matrix(1.60 -11.69 4.68 0.64 342.3 254.0)"><polygon class="k" points="-.15,0 .1,.8 .38,1 .6,.7 .78,.3 1.12,0 .8,-.22 .62,-.62 .4,-1 .1,-.8"/><polygon class="s" points="-.15,0 .1,.8 .38,1 .6,.7 .78,.3 1.12,0 .75,0 .45,.1 .1,.05"/><polygon class="h" points=".1,-.8 .4,-1 .62,-.62 .55,-.05 .25,-.1"/></g>
<g transform="matrix(-6.69 -12.48 4.12 -2.21 339.0 252.9)"><polygon class="k" points="-.15,0 .1,.8 .38,1 .6,.7 .78,.3 1.12,0 .8,-.22 .62,-.62 .4,-1 .1,-.8"/><polygon class="s" points="-.15,0 .1,-.8 .4,-1 .62,-.62 .8,-.22 1.12,0 .75,0 .45,-.1 .1,-.05"/><polygon class="h" points=".1,.8 .38,1 .6,.7 .55,.05 .25,.1"/></g>
<g transform="matrix(5.39 -10.50 4.20 2.15 341.1 257.9)"><polygon class="k" points="-.15,0 .1,.8 .38,1 .6,.7 .78,.3 1.12,0 .8,-.22 .62,-.62 .4,-1 .1,-.8"/><polygon class="s" points="-.15,0 .1,.8 .38,1 .6,.7 .78,.3 1.12,0 .75,0 .45,.1 .1,.05"/><polygon class="h" points=".1,-.8 .4,-1 .62,-.62 .55,-.05 .25,-.1"/></g>
<g transform="matrix(12.63 -6.39 2.11 4.17 344.5 258.9)"><polygon class="k" points="-.15,0 .1,.8 .38,1 .6,.7 .78,.3 1.12,0 .8,-.22 .62,-.62 .4,-1 .1,-.8"/><polygon class="s" points="-.15,0 .1,.8 .38,1 .6,.7 .78,.3 1.12,0 .75,0 .45,.1 .1,.05"/><polygon class="h" points=".1,-.8 .4,-1 .62,-.62 .55,-.05 .25,-.1"/></g>
<g transform="matrix(1.39 -11.72 4.69 0.56 339.9 261.9)"><polygon class="k" points="-.15,0 .1,.8 .38,1 .6,.7 .78,.3 1.12,0 .8,-.22 .62,-.62 .4,-1 .1,-.8"/><polygon class="s" points="-.15,0 .1,.8 .38,1 .6,.7 .78,.3 1.12,0 .75,0 .45,.1 .1,.05"/><polygon class="h" points=".1,-.8 .4,-1 .62,-.62 .55,-.05 .25,-.1"/></g>
<g transform="matrix(-6.92 -12.36 4.08 -2.28 336.5 260.8)"><polygon class="k" points="-.15,0 .1,.8 .38,1 .6,.7 .78,.3 1.12,0 .8,-.22 .62,-.62 .4,-1 .1,-.8"/><polygon class="s" points="-.15,0 .1,-.8 .4,-1 .62,-.62 .8,-.22 1.12,0 .75,0 .45,-.1 .1,-.05"/><polygon class="h" points=".1,.8 .38,1 .6,.7 .55,.05 .25,.1"/></g>
<g transform="matrix(5.16 -10.61 4.24 2.06 338.7 265.8)"><polygon class="k" points="-.15,0 .1,.8 .38,1 .6,.7 .78,.3 1.12,0 .8,-.22 .62,-.62 .4,-1 .1,-.8"/><polygon class="s" points="-.15,0 .1,.8 .38,1 .6,.7 .78,.3 1.12,0 .75,0 .45,.1 .1,.05"/><polygon class="h" points=".1,-.8 .4,-1 .62,-.62 .55,-.05 .25,-.1"/></g>
<g transform="matrix(12.50 -6.66 2.20 4.12 342.1 266.8)"><polygon class="k" points="-.15,0 .1,.8 .38,1 .6,.7 .78,.3 1.12,0 .8,-.22 .62,-.62 .4,-1 .1,-.8"/><polygon class="s" points="-.15,0 .1,.8 .38,1 .6,.7 .78,.3 1.12,0 .75,0 .45,.1 .1,.05"/><polygon class="h" points=".1,-.8 .4,-1 .62,-.62 .55,-.05 .25,-.1"/></g>
<g transform="matrix(1.13 -11.75 4.70 0.45 337.6 269.8)"><polygon class="k" points="-.15,0 .1,.8 .38,1 .6,.7 .78,.3 1.12,0 .8,-.22 .62,-.62 .4,-1 .1,-.8"/><polygon class="s" points="-.15,0 .1,.8 .38,1 .6,.7 .78,.3 1.12,0 .75,0 .45,.1 .1,.05"/><polygon class="h" points=".1,-.8 .4,-1 .62,-.62 .55,-.05 .25,-.1"/></g>
<g transform="matrix(-7.19 -12.20 4.03 -2.37 334.2 268.9)"><polygon class="k" points="-.15,0 .1,.8 .38,1 .6,.7 .78,.3 1.12,0 .8,-.22 .62,-.62 .4,-1 .1,-.8"/><polygon class="s" points="-.15,0 .1,-.8 .4,-1 .62,-.62 .8,-.22 1.12,0 .75,0 .45,-.1 .1,-.05"/><polygon class="h" points=".1,.8 .38,1 .6,.7 .55,.05 .25,.1"/></g>
<g transform="matrix(4.89 -10.74 4.30 1.96 336.5 273.8)"><polygon class="k" points="-.15,0 .1,.8 .38,1 .6,.7 .78,.3 1.12,0 .8,-.22 .62,-.62 .4,-1 .1,-.8"/><polygon class="s" points="-.15,0 .1,.8 .38,1 .6,.7 .78,.3 1.12,0 .75,0 .45,.1 .1,.05"/><polygon class="h" points=".1,-.8 .4,-1 .62,-.62 .55,-.05 .25,-.1"/></g>
<g transform="matrix(12.32 -6.98 2.30 4.07 340.0 274.7)"><polygon class="k" points="-.15,0 .1,.8 .38,1 .6,.7 .78,.3 1.12,0 .8,-.22 .62,-.62 .4,-1 .1,-.8"/><polygon class="s" points="-.15,0 .1,.8 .38,1 .6,.7 .78,.3 1.12,0 .75,0 .45,.1 .1,.05"/><polygon class="h" points=".1,-.8 .4,-1 .62,-.62 .55,-.05 .25,-.1"/></g>
<g transform="matrix(0.66 -11.78 4.71 0.26 335.5 277.8)"><polygon class="k" points="-.15,0 .1,.8 .38,1 .6,.7 .78,.3 1.12,0 .8,-.22 .62,-.62 .4,-1 .1,-.8"/><polygon class="s" points="-.15,0 .1,.8 .38,1 .6,.7 .78,.3 1.12,0 .75,0 .45,.1 .1,.05"/><polygon class="h" points=".1,-.8 .4,-1 .62,-.62 .55,-.05 .25,-.1"/></g>
<g transform="matrix(-7.67 -11.90 3.93 -2.53 332.1 277.0)"><polygon class="k" points="-.15,0 .1,.8 .38,1 .6,.7 .78,.3 1.12,0 .8,-.22 .62,-.62 .4,-1 .1,-.8"/><polygon class="s" points="-.15,0 .1,-.8 .4,-1 .62,-.62 .8,-.22 1.12,0 .75,0 .45,-.1 .1,-.05"/><polygon class="h" points=".1,.8 .38,1 .6,.7 .55,.05 .25,.1"/></g>
<g transform="matrix(4.43 -10.94 4.37 1.77 334.6 281.8)"><polygon class="k" points="-.15,0 .1,.8 .38,1 .6,.7 .78,.3 1.12,0 .8,-.22 .62,-.62 .4,-1 .1,-.8"/><polygon class="s" points="-.15,0 .1,.8 .38,1 .6,.7 .78,.3 1.12,0 .75,0 .45,.1 .1,.05"/><polygon class="h" points=".1,-.8 .4,-1 .62,-.62 .55,-.05 .25,-.1"/></g>
<g transform="matrix(12.01 -7.49 2.47 3.96 338.1 282.6)"><polygon class="k" points="-.15,0 .1,.8 .38,1 .6,.7 .78,.3 1.12,0 .8,-.22 .62,-.62 .4,-1 .1,-.8"/><polygon class="s" points="-.15,0 .1,.8 .38,1 .6,.7 .78,.3 1.12,0 .75,0 .45,.1 .1,.05"/><polygon class="h" points=".1,-.8 .4,-1 .62,-.62 .55,-.05 .25,-.1"/></g>
<g transform="matrix(-0.06 -11.80 4.72 -0.03 333.9 285.9)"><polygon class="k" points="-.15,0 .1,.8 .38,1 .6,.7 .78,.3 1.12,0 .8,-.22 .62,-.62 .4,-1 .1,-.8"/><polygon class="s" points="-.15,0 .1,-.8 .4,-1 .62,-.62 .8,-.22 1.12,0 .75,0 .45,-.1 .1,-.05"/><polygon class="h" points=".1,.8 .38,1 .6,.7 .55,.05 .25,.1"/></g>
<g transform="matrix(-8.38 -11.41 3.77 -2.77 330.4 285.3)"><polygon class="k" points="-.15,0 .1,.8 .38,1 .6,.7 .78,.3 1.12,0 .8,-.22 .62,-.62 .4,-1 .1,-.8"/><polygon class="s" points="-.15,0 .1,-.8 .4,-1 .62,-.62 .8,-.22 1.12,0 .75,0 .45,-.1 .1,-.05"/><polygon class="h" points=".1,.8 .38,1 .6,.7 .55,.05 .25,.1"/></g>
<g transform="matrix(3.69 -11.21 4.48 1.47 333.2 290.0)"><polygon class="k" points="-.15,0 .1,.8 .38,1 .6,.7 .78,.3 1.12,0 .8,-.22 .62,-.62 .4,-1 .1,-.8"/><polygon class="s" points="-.15,0 .1,.8 .38,1 .6,.7 .78,.3 1.12,0 .75,0 .45,.1 .1,.05"/><polygon class="h" points=".1,-.8 .4,-1 .62,-.62 .55,-.05 .25,-.1"/></g>
<g transform="matrix(11.49 -8.28 2.73 3.79 336.7 290.5)"><polygon class="k" points="-.15,0 .1,.8 .38,1 .6,.7 .78,.3 1.12,0 .8,-.22 .62,-.62 .4,-1 .1,-.8"/><polygon class="s" points="-.15,0 .1,.8 .38,1 .6,.7 .78,.3 1.12,0 .75,0 .45,.1 .1,.05"/><polygon class="h" points=".1,-.8 .4,-1 .62,-.62 .55,-.05 .25,-.1"/></g>
<g transform="matrix(-0.53 -11.79 4.72 -0.21 332.7 294.1)"><polygon class="k" points="-.15,0 .1,.8 .38,1 .6,.7 .78,.3 1.12,0 .8,-.22 .62,-.62 .4,-1 .1,-.8"/><polygon class="s" points="-.15,0 .1,-.8 .4,-1 .62,-.62 .8,-.22 1.12,0 .75,0 .45,-.1 .1,-.05"/><polygon class="h" points=".1,.8 .38,1 .6,.7 .55,.05 .25,.1"/></g>
<g transform="matrix(-8.83 -11.07 3.65 -2.91 329.1 293.6)"><polygon class="k" points="-.15,0 .1,.8 .38,1 .6,.7 .78,.3 1.12,0 .8,-.22 .62,-.62 .4,-1 .1,-.8"/><polygon class="s" points="-.15,0 .1,-.8 .4,-1 .62,-.62 .8,-.22 1.12,0 .75,0 .45,-.1 .1,-.05"/><polygon class="h" points=".1,.8 .38,1 .6,.7 .55,.05 .25,.1"/></g>
<g transform="matrix(3.70 -11.20 4.48 1.48 332.1 298.2)"><polygon class="k" points="-.15,0 .1,.8 .38,1 .6,.7 .78,.3 1.12,0 .8,-.22 .62,-.62 .4,-1 .1,-.8"/><polygon class="s" points="-.15,0 .1,.8 .38,1 .6,.7 .78,.3 1.12,0 .75,0 .45,.1 .1,.05"/><polygon class="h" points=".1,-.8 .4,-1 .62,-.62 .55,-.05 .25,-.1"/></g>
<g transform="matrix(11.50 -8.27 2.73 3.79 335.6 298.7)"><polygon class="k" points="-.15,0 .1,.8 .38,1 .6,.7 .78,.3 1.12,0 .8,-.22 .62,-.62 .4,-1 .1,-.8"/><polygon class="s" points="-.15,0 .1,.8 .38,1 .6,.7 .78,.3 1.12,0 .75,0 .45,.1 .1,.05"/><polygon class="h" points=".1,-.8 .4,-1 .62,-.62 .55,-.05 .25,-.1"/></g>
<polygon points="392.5,251.2 389.3,251.7 384.7,252.3 379.6,253 375,253.8 371.2,254.5 367.7,255.3 364,256.3 360,257.5 355.3,259.1 350.2,261 344.9,263 340,265 335.4,266.8 331.1,268.7 326.8,270.5 322.5,272.5 318.1,274.6 313.6,276.8 309.2,279 305,281.2 301.1,283.4 297.3,285.5 293.7,287.6 290,290 286.2,292.6 282.5,295.3 278.8,298.2 275,301.2 271.2,304.5 267.4,307.8 263.7,311.3 260,315 256.2,319.3 252.2,324 248.7,328.3 246.2,331.2 255,340 255.7,339 256.7,337.6 258.1,335.8 260,333.8 262.6,331.3 265.8,328.4 269.2,325.4 272.5,322.5 275.6,319.7 278.6,316.9 281.7,314.1 285,311.2 288.5,308.4 292.2,305.5 296,302.7 300,300 304.2,297.4 308.6,294.9 313.1,292.5 317.5,290 321.7,287.6 325.8,285.2 330.1,282.8 335,280 340.7,276.8 347,273.2 353.6,269.6 360,266.2 366.7,263.1 373.6,260 380,257.2 385,255 388.3,253.4 390.3,252.4 391.6,251.7 392.5,251.2" fill="#356A30"/>
<polygon points="392.5,251.2 385.5,253.1 378.5,254.9 371.5,256.9 364.5,259.2 357.7,261.8 351,264.7 344.3,267.7 337.7,270.7 331.1,273.9 324.5,277.2 318,280.5 311.5,284 305.1,287.4 298.7,291.1 292.5,295 286.6,299.3 280.8,303.8 275.2,308.5 269.8,313.4 264.4,318.5 259.3,323.7 254.3,329 249.8,334.8 255,340 259.4,334.4 264.7,329.4 270,324.7 275.4,319.9 280.6,315 286.1,310.4 291.7,305.9 297.5,301.7 303.6,297.8 309.8,294.3 316.1,290.8 322.3,287.2 328.5,283.7 334.8,280.1 341,276.6 347.3,273.1 353.6,269.6 359.9,266.3 366.4,263.2 373,260.3 379.5,257.4 386.1,254.5 392.5,251.2" fill="#28502A"/>
<polygon points="127.5,186 130.4,187.8 134.6,190.4 139.4,193.5 144.6,196.7 149.5,199.9 154.3,202.9 159.2,206 164.2,209.2 169.2,212.6 174.1,216.2 179.2,220.3 184.4,224.8 189.5,229.4 194.4,233.8 198.7,237.6 202.4,240.5 205.4,242.8 208.1,244.8 210.7,246.7 213.4,248.9 216.4,251.5 219.5,254.2 222.6,257 225.7,259.7 228.6,262.4 231.6,265.2 234.7,268.2 237.6,271 240.1,273.4 241.9,275.1 244.1,272.9 242.4,271.1 240,268.6 237.2,265.6 234.3,262.5 231.4,259.6 228.6,256.7 225.7,253.7 222.7,250.7 219.7,247.8 216.6,245.1 213.6,242.8 210.8,240.9 208,239.1 204.9,237.1 201.3,234.4 196.9,230.9 191.9,226.7 186.6,222.2 181.2,217.8 175.9,213.8 170.8,210.3 165.6,207 160.5,203.9 155.4,201 150.5,198.1 145.4,195.3 140,192.5 134.9,189.8 130.6,187.6 127.5,186" fill="#2C5A2A"/>
<polygon points="126,216 129.2,218.1 133.6,221.1 138.9,224.7 144.3,228.4 149.5,231.8 154.3,235.1 159.2,238.5 164.2,241.9 169.2,245.3 174.2,248.7 179.2,252.3 184.3,255.9 189.4,259.5 194.3,263 199,266.4 203.1,269.4 206.7,271.9 210.3,274.5 214.2,277.5 218.9,281.3 224.8,286.5 231.7,292.7 238.9,299.3 245.7,305.6 251.5,311.1 256,315.4 259.6,319.2 262.8,322.5 265.8,325.7 268.9,329 272.2,332.6 275.5,336.2 278.6,339.6 281.5,342.9 284,345.8 286.2,348.3 288,350.7 289.5,352.7 290.8,354.4 291.7,355.6 293.3,354.4 292.4,353.2 291.3,351.4 289.8,349.3 288,346.9 286,344.2 283.5,341.2 280.7,337.9 277.6,334.3 274.4,330.6 271.1,327 268,323.6 265,320.4 261.8,317.1 258,313.3 253.5,308.9 247.8,303.4 241.1,297 233.9,290.3 227.1,284 221.1,278.7 216.4,274.7 212.4,271.6 208.8,269 205.1,266.5 201,263.6 196.3,260.2 191.3,256.8 186.2,253.2 181,249.7 175.8,246.3 170.8,242.9 165.7,239.6 160.6,236.4 155.6,233.2 150.5,230.2 145.2,227 139.5,223.7 134,220.5 129.3,217.9 126,216" fill="#24451F"/>
<!-- arrows -->
<polygon points="448.6,41 463.7,25.5 463.7,32.9 633,32.9 633,48.8 463.7,48.8 463.7,56.4" fill="#70AD47"/>
<polygon points="449,254.8 465,239.6 465,246.6 633.9,246.6 633.9,262 465,262 465,270" fill="#70AD47" stroke="#fff" stroke-width="2.4" stroke-linejoin="miter"/><polygon points="449,254.8 465,239.6 465,246.6 633.9,246.6 633.9,262 465,262 465,270" fill="#70AD47"/>
<polygon points="795.4,682.2 1050,682.2 1050,675.6 1063.5,688.5 1050,701.5 1050,695 795.4,695" fill="#B5CCA9"/>
<rect x="641" y="17.8" width="383" height="43.2" rx="9" ry="9" fill="#A9D18E"/>
<rect x="641" y="234.4" width="383" height="35.9" rx="7" ry="7" fill="#A9D18E"/>
<rect x="1065.3" y="166" width="200.7" height="39" rx="2" ry="2" fill="#C5E0B4"/>
<rect x="1066" y="211" width="202" height="493" fill="#EDF5E8"/>
</svg>
<div class="hd" style="left:641px;width:383px;top:26.0px;font-size:21.333px;line-height:24px;height:24px;letter-spacing:0.08px">Yield traits</div>
<div class="hd" style="left:641px;width:383px;top:239.1px;font-size:21.333px;line-height:24px;height:24px;letter-spacing:0.045px">Non-destructively measured growth traits</div>
<div class="hd" style="left:1065.3px;width:200.7px;top:174.4px;font-size:18.667px;line-height:22px;height:22px;letter-spacing:0.13px">Leaf color traits</div>
<div class="li" style="top:69.90px"><i class="b" style="left:653.8px"></i><span class="t" style="left:664.2px">Grain yield</span></div>
<div class="li" style="top:94.56px"><i class="b" style="left:653.8px"></i><span class="t" style="left:664.2px">Biomass</span></div>
<div class="li" style="top:119.22px"><i class="b" style="left:653.8px"></i><span class="t" style="left:664.2px">Harvest index</span></div>
<div class="li" style="top:143.88px"><i class="b" style="left:653.8px"></i><span class="t" style="left:664.2px">Spike density</span></div>
<div class="li" style="top:168.54px"><i class="b" style="left:653.8px"></i><span class="t" style="left:664.2px">Grain number per spike</span></div>
<div class="li" style="top:193.20px"><i class="b" style="left:653.8px"></i><span class="t" style="left:664.2px">Thousand grain weight</span></div>
<div class="li" style="top:282.15px"><i class="b" style="left:653.8px"></i><span class="t" style="left:664.2px">Plant height (PH)</span></div>
<div class="li" style="top:306.76px"><i class="b" style="left:653.8px"></i><span class="t" style="left:664.2px">Stem diameter (SD)</span></div>
<div class="li" style="top:331.37px"><i class="b" style="left:653.8px"></i><span class="t" style="left:664.2px">Mean leaf length (MLL)</span></div>
<div class="li" style="top:355.98px"><i class="b" style="left:653.8px"></i><span class="t" style="left:664.2px">Mean leaf width (MLW)</span></div>
<div class="li" style="top:380.59px"><i class="b" style="left:653.8px"></i><span class="t" style="left:664.2px">Mean leaf area (MLA)</span></div>
<div class="li" style="top:405.20px"><i class="b" style="left:653.8px"></i><span class="t" style="left:664.2px">Mean leaf thickness (MLT)</span></div>
<div class="li" style="top:429.81px"><i class="b" style="left:653.8px"></i><span class="t" style="left:664.2px">Mean leaf volume (MLV)</span></div>
<div class="li" style="top:454.42px"><i class="b" style="left:653.8px"></i><span class="t" style="left:664.2px">Single stem leaf area (SSLA)</span></div>
<div class="li" style="top:479.03px"><i class="b" style="left:653.8px"></i><span class="t" style="left:664.2px">Leaf area index (LAI)</span></div>
<div class="li" style="top:503.64px"><i class="b" style="left:653.8px"></i><span class="t" style="left:664.2px">Leaf chlorophyll (SPAD)</span></div>
<div class="li" style="top:528.25px"><i class="b" style="left:653.8px"></i><span class="t" style="left:664.2px">Leaf quantum yield (LQY)</span></div>
<div class="li" style="top:552.86px"><i class="b" style="left:653.8px"></i><span class="t" style="left:664.2px">Leaf nitrogen content (LNC)</span></div>
<div class="li" style="top:577.47px"><i class="b" style="left:653.8px"></i><span class="t" style="left:664.2px">Leaf surface moisture (LSM)</span></div>
<div class="li" style="top:602.08px"><i class="b" style="left:653.8px"></i><span class="t" style="left:664.2px">Leaf surface temperature (LST)</span></div>
<div class="li" style="top:626.69px"><i class="b" style="left:653.8px"></i><span class="t" style="left:664.2px">Canopy temperature (CT)</span></div>
<div class="li" style="top:651.30px"><i class="b" style="left:653.8px"></i><span class="t" style="left:664.2px">Canopy radiation transmittance (CRT)</span></div>
<div class="li" style="top:675.91px"><i class="b" style="left:653.8px"></i><span class="t" style="left:664.2px">Leaf color traits</span></div>
<div class="li" style="top:210.30px"><i class="b" style="left:1078.8px"></i><span class="t" style="left:1089.0px">R</span></div>
<div class="li" style="top:234.92px"><i class="b" style="left:1078.8px"></i><span class="t" style="left:1089.0px">G</span></div>
<div class="li" style="top:259.54px"><i class="b" style="left:1078.8px"></i><span class="t" style="left:1089.0px">B</span></div>
<div class="li" style="top:284.16px"><i class="b" style="left:1078.8px"></i><span class="t" style="left:1089.0px">R+G+B</span></div>
<div class="li" style="top:308.78px"><i class="b" style="left:1078.8px"></i><span class="t" style="left:1089.0px">NRI</span></div>
<div class="li" style="top:333.40px"><i class="b" style="left:1078.8px"></i><span class="t" style="left:1089.0px">NGI</span></div>
<div class="li" style="top:358.02px"><i class="b" style="left:1078.8px"></i><span class="t" style="left:1089.0px">NBI</span></div>
<div class="li" style="top:382.64px"><i class="b" style="left:1078.8px"></i><span class="t" style="left:1089.0px">RDBI</span></div>
<div class="li" style="top:407.26px"><i class="b" style="left:1078.8px"></i><span class="t" style="left:1089.0px">GDBI</span></div>
<div class="li" style="top:431.88px"><i class="b" style="left:1078.8px"></i><span class="t" style="left:1089.0px">GDRI</span></div>
<div class="li" style="top:456.50px"><i class="b" style="left:1078.8px"></i><span class="t" style="left:1089.0px">GMRI</span></div>
<div class="li" style="top:481.12px"><i class="b" style="left:1078.8px"></i><span class="t" style="left:1089.0px">EGI</span></div>
<div class="li" style="top:505.74px"><i class="b" style="left:1078.8px"></i><span class="t" style="left:1089.0px">Br</span></div>
<div class="li" style="top:530.36px"><i class="b" style="left:1078.8px"></i><span class="t" style="left:1089.0px">L</span></div>
<div class="li" style="top:554.98px"><i class="b" style="left:1078.8px"></i><span class="t" style="left:1089.0px">RDBrI</span></div>
<div class="li" style="top:579.60px"><i class="b" style="left:1078.8px"></i><span class="t" style="left:1089.0px">GDBrI</span></div>
<div class="li" style="top:604.22px"><i class="b" style="left:1078.8px"></i><span class="t" style="left:1089.0px">BDBrI</span></div>
<div class="li" style="top:628.84px"><i class="b" style="left:1078.8px"></i><span class="t" style="left:1089.0px">RDLI</span></div>
<div class="li" style="top:653.46px"><i class="b" style="left:1078.8px"></i><span class="t" style="left:1089.0px">GDLI</span></div>
<div class="li" style="top:678.08px"><i class="b" style="left:1078.8px"></i><span class="t" style="left:1089.0px">BDLI</span></div>
<div id="bR"></div><div id="bB"></div>
</body></html>
